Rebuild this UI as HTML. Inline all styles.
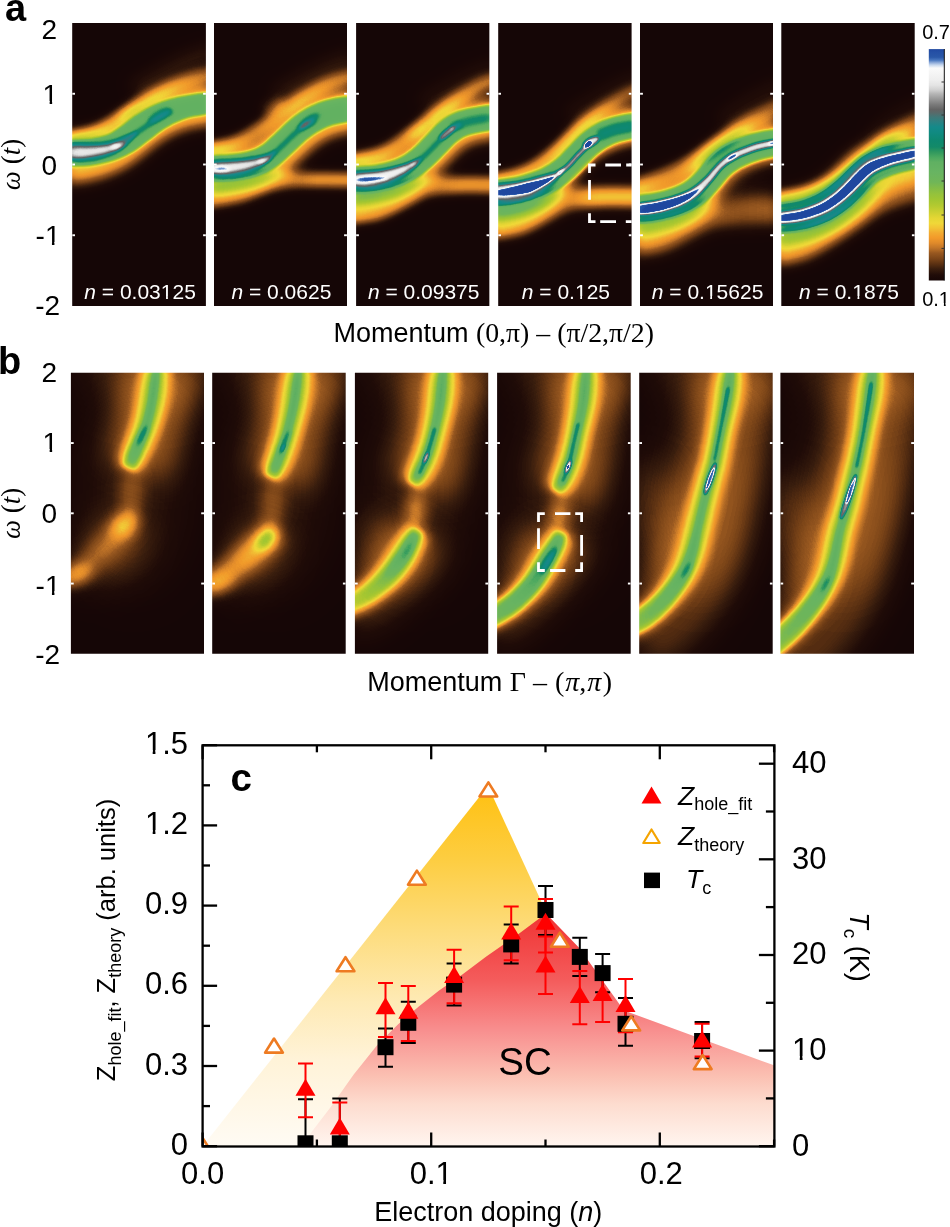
<!DOCTYPE html><html><head><meta charset="utf-8"><style>
html,body{margin:0;padding:0;background:#fff;width:950px;height:1227px;overflow:hidden}
svg{display:block}
#root{will-change:transform}
</style></head><body>
<svg id="root" width="950" height="1227" viewBox="0 0 950 1227" font-family='"Liberation Sans", sans-serif'>
<defs>
<filter id="cm" x="0" y="0" width="1" height="1" color-interpolation-filters="sRGB"><feComponentTransfer><feFuncR type="table" tableValues="0.086 0.087 0.089 0.091 0.094 0.096 0.099 0.102 0.104 0.107 0.111 0.114 0.117 0.120 0.124 0.130 0.139 0.147 0.156 0.165 0.175 0.184 0.194 0.203 0.213 0.223 0.236 0.251 0.267 0.283 0.299 0.315 0.331 0.347 0.363 0.379 0.396 0.412 0.428 0.445 0.461 0.478 0.491 0.505 0.519 0.532 0.546 0.560 0.574 0.588 0.606 0.629 0.653 0.676 0.700 0.724 0.748 0.768 0.786 0.805 0.824 0.843 0.862 0.880 0.891 0.901 0.912 0.923 0.934 0.945 0.949 0.949 0.949 0.949 0.949 0.949 0.949 0.949 0.949 0.949 0.949 0.949 0.948 0.947 0.946 0.944 0.943 0.942 0.935 0.927 0.919 0.911 0.903 0.895 0.882 0.869 0.855 0.841 0.827 0.813 0.799 0.786 0.772 0.757 0.743 0.729 0.715 0.702 0.691 0.681 0.670 0.659 0.648 0.638 0.629 0.620 0.612 0.603 0.595 0.586 0.577 0.566 0.555 0.543 0.532 0.521 0.510 0.498 0.487 0.475 0.463 0.451 0.440 0.436 0.433 0.430 0.427 0.424 0.421 0.418 0.415 0.412 0.408 0.405 0.402 0.399 0.396 0.393 0.390 0.387 0.384 0.381 0.378 0.365 0.347 0.329 0.311 0.293 0.273 0.252 0.232 0.211 0.191 0.168 0.145 0.122 0.099 0.076 0.072 0.069 0.066 0.063 0.060 0.057 0.055 0.056 0.058 0.059 0.060 0.061 0.062 0.065 0.068 0.070 0.073 0.076 0.081 0.100 0.119 0.138 0.157 0.176 0.194 0.212 0.231 0.249 0.273 0.298 0.323 0.347 0.361 0.376 0.391 0.410 0.430 0.449 0.469 0.489 0.513 0.537 0.561 0.585 0.609 0.633 0.657 0.681 0.705 0.737 0.768 0.799 0.825 0.843 0.861 0.879 0.896 0.905 0.913 0.922 0.931 0.937 0.941 0.945 0.950 0.954 0.959 0.963 0.968 0.972 0.977 0.962 0.887 0.811 0.713 0.602 0.484 0.357 0.267 0.219 0.170 0.161 0.156 0.152 0.147 0.141 0.133 0.125"/><feFuncG type="table" tableValues="0.024 0.024 0.025 0.027 0.028 0.029 0.031 0.033 0.034 0.036 0.038 0.040 0.042 0.044 0.046 0.050 0.056 0.062 0.068 0.075 0.081 0.088 0.094 0.101 0.108 0.115 0.122 0.131 0.140 0.149 0.158 0.167 0.176 0.185 0.195 0.205 0.215 0.225 0.235 0.246 0.256 0.266 0.275 0.284 0.293 0.302 0.312 0.321 0.330 0.340 0.352 0.368 0.385 0.401 0.418 0.435 0.452 0.465 0.478 0.491 0.504 0.517 0.530 0.542 0.552 0.562 0.571 0.581 0.591 0.601 0.611 0.621 0.631 0.642 0.652 0.663 0.677 0.694 0.710 0.727 0.743 0.760 0.775 0.789 0.803 0.816 0.830 0.844 0.846 0.845 0.843 0.842 0.841 0.839 0.836 0.833 0.829 0.826 0.823 0.819 0.816 0.812 0.809 0.805 0.802 0.798 0.794 0.791 0.789 0.787 0.784 0.782 0.779 0.777 0.775 0.772 0.770 0.767 0.765 0.762 0.760 0.756 0.752 0.748 0.745 0.741 0.737 0.733 0.730 0.726 0.722 0.718 0.714 0.713 0.712 0.711 0.711 0.710 0.709 0.708 0.708 0.707 0.706 0.705 0.703 0.702 0.700 0.699 0.697 0.695 0.694 0.692 0.691 0.686 0.680 0.673 0.666 0.660 0.648 0.636 0.623 0.610 0.598 0.586 0.575 0.564 0.553 0.542 0.540 0.539 0.538 0.537 0.535 0.534 0.534 0.535 0.536 0.537 0.538 0.540 0.541 0.541 0.541 0.541 0.541 0.541 0.540 0.533 0.526 0.520 0.513 0.505 0.496 0.488 0.480 0.471 0.458 0.443 0.429 0.415 0.408 0.400 0.393 0.410 0.430 0.449 0.469 0.489 0.513 0.537 0.561 0.585 0.609 0.633 0.657 0.681 0.705 0.737 0.768 0.799 0.825 0.843 0.861 0.879 0.896 0.905 0.913 0.922 0.931 0.937 0.941 0.945 0.950 0.954 0.959 0.963 0.968 0.972 0.977 0.968 0.917 0.865 0.792 0.706 0.616 0.521 0.448 0.399 0.350 0.339 0.331 0.324 0.317 0.307 0.295 0.282"/><feFuncB type="table" tableValues="0.024 0.024 0.024 0.025 0.025 0.025 0.026 0.027 0.027 0.028 0.028 0.029 0.030 0.030 0.031 0.032 0.034 0.036 0.038 0.041 0.043 0.045 0.047 0.049 0.052 0.054 0.056 0.058 0.060 0.062 0.064 0.066 0.068 0.070 0.073 0.076 0.079 0.082 0.085 0.088 0.091 0.094 0.098 0.101 0.105 0.108 0.112 0.116 0.120 0.123 0.127 0.132 0.137 0.142 0.146 0.151 0.156 0.158 0.159 0.160 0.161 0.162 0.164 0.165 0.165 0.165 0.165 0.165 0.165 0.165 0.167 0.171 0.175 0.179 0.183 0.187 0.190 0.193 0.197 0.200 0.203 0.206 0.209 0.211 0.213 0.215 0.217 0.219 0.218 0.215 0.212 0.210 0.207 0.204 0.203 0.202 0.201 0.200 0.198 0.197 0.196 0.195 0.194 0.193 0.191 0.190 0.189 0.189 0.190 0.191 0.192 0.193 0.195 0.196 0.201 0.207 0.213 0.219 0.225 0.231 0.238 0.245 0.252 0.260 0.267 0.275 0.282 0.293 0.303 0.313 0.324 0.334 0.345 0.349 0.353 0.356 0.360 0.364 0.368 0.372 0.376 0.380 0.384 0.384 0.384 0.384 0.384 0.384 0.384 0.384 0.384 0.384 0.384 0.383 0.382 0.380 0.378 0.377 0.375 0.374 0.372 0.370 0.369 0.376 0.384 0.392 0.399 0.407 0.412 0.417 0.422 0.426 0.431 0.436 0.442 0.452 0.461 0.471 0.480 0.490 0.500 0.507 0.514 0.521 0.528 0.535 0.540 0.533 0.526 0.520 0.513 0.505 0.496 0.488 0.480 0.471 0.458 0.443 0.429 0.415 0.408 0.400 0.393 0.410 0.430 0.449 0.469 0.489 0.513 0.537 0.561 0.585 0.609 0.633 0.657 0.681 0.705 0.737 0.768 0.799 0.825 0.843 0.861 0.879 0.896 0.905 0.913 0.922 0.931 0.937 0.941 0.945 0.950 0.954 0.959 0.963 0.968 0.972 0.977 0.976 0.958 0.940 0.908 0.869 0.826 0.778 0.736 0.699 0.663 0.656 0.654 0.651 0.648 0.643 0.635 0.627"/></feComponentTransfer></filter>
<filter id="b0_6" filterUnits="userSpaceOnUse" x="-200" y="-200" width="600" height="700" color-interpolation-filters="sRGB"><feGaussianBlur stdDeviation="0.6"/></filter>
<filter id="b0_8" filterUnits="userSpaceOnUse" x="-200" y="-200" width="600" height="700" color-interpolation-filters="sRGB"><feGaussianBlur stdDeviation="0.8"/></filter>
<filter id="b0_9" filterUnits="userSpaceOnUse" x="-200" y="-200" width="600" height="700" color-interpolation-filters="sRGB"><feGaussianBlur stdDeviation="0.9"/></filter>
<filter id="b1" filterUnits="userSpaceOnUse" x="-200" y="-200" width="600" height="700" color-interpolation-filters="sRGB"><feGaussianBlur stdDeviation="1"/></filter>
<filter id="b1_2" filterUnits="userSpaceOnUse" x="-200" y="-200" width="600" height="700" color-interpolation-filters="sRGB"><feGaussianBlur stdDeviation="1.2"/></filter>
<filter id="b1_4" filterUnits="userSpaceOnUse" x="-200" y="-200" width="600" height="700" color-interpolation-filters="sRGB"><feGaussianBlur stdDeviation="1.4"/></filter>
<filter id="b1_5" filterUnits="userSpaceOnUse" x="-200" y="-200" width="600" height="700" color-interpolation-filters="sRGB"><feGaussianBlur stdDeviation="1.5"/></filter>
<filter id="b1_6" filterUnits="userSpaceOnUse" x="-200" y="-200" width="600" height="700" color-interpolation-filters="sRGB"><feGaussianBlur stdDeviation="1.6"/></filter>
<filter id="b1_8" filterUnits="userSpaceOnUse" x="-200" y="-200" width="600" height="700" color-interpolation-filters="sRGB"><feGaussianBlur stdDeviation="1.8"/></filter>
<filter id="b2" filterUnits="userSpaceOnUse" x="-200" y="-200" width="600" height="700" color-interpolation-filters="sRGB"><feGaussianBlur stdDeviation="2"/></filter>
<filter id="b2_5" filterUnits="userSpaceOnUse" x="-200" y="-200" width="600" height="700" color-interpolation-filters="sRGB"><feGaussianBlur stdDeviation="2.5"/></filter>
<filter id="b2_6" filterUnits="userSpaceOnUse" x="-200" y="-200" width="600" height="700" color-interpolation-filters="sRGB"><feGaussianBlur stdDeviation="2.6"/></filter>
<filter id="b3" filterUnits="userSpaceOnUse" x="-200" y="-200" width="600" height="700" color-interpolation-filters="sRGB"><feGaussianBlur stdDeviation="3"/></filter>
<filter id="b4" filterUnits="userSpaceOnUse" x="-200" y="-200" width="600" height="700" color-interpolation-filters="sRGB"><feGaussianBlur stdDeviation="4"/></filter>
<filter id="b4_5" filterUnits="userSpaceOnUse" x="-200" y="-200" width="600" height="700" color-interpolation-filters="sRGB"><feGaussianBlur stdDeviation="4.5"/></filter>
<filter id="b5" filterUnits="userSpaceOnUse" x="-200" y="-200" width="600" height="700" color-interpolation-filters="sRGB"><feGaussianBlur stdDeviation="5"/></filter>
<filter id="b6" filterUnits="userSpaceOnUse" x="-200" y="-200" width="600" height="700" color-interpolation-filters="sRGB"><feGaussianBlur stdDeviation="6"/></filter>
<filter id="b7" filterUnits="userSpaceOnUse" x="-200" y="-200" width="600" height="700" color-interpolation-filters="sRGB"><feGaussianBlur stdDeviation="7"/></filter>
<filter id="b8" filterUnits="userSpaceOnUse" x="-200" y="-200" width="600" height="700" color-interpolation-filters="sRGB"><feGaussianBlur stdDeviation="8"/></filter>
<filter id="b9" filterUnits="userSpaceOnUse" x="-200" y="-200" width="600" height="700" color-interpolation-filters="sRGB"><feGaussianBlur stdDeviation="9"/></filter>
<filter id="b15" filterUnits="userSpaceOnUse" x="-200" y="-200" width="600" height="700" color-interpolation-filters="sRGB"><feGaussianBlur stdDeviation="15"/></filter>
<filter id="b16" filterUnits="userSpaceOnUse" x="-200" y="-200" width="600" height="700" color-interpolation-filters="sRGB"><feGaussianBlur stdDeviation="16"/></filter>
<filter id="b18" filterUnits="userSpaceOnUse" x="-200" y="-200" width="600" height="700" color-interpolation-filters="sRGB"><feGaussianBlur stdDeviation="18"/></filter>
<filter id="b20" filterUnits="userSpaceOnUse" x="-200" y="-200" width="600" height="700" color-interpolation-filters="sRGB"><feGaussianBlur stdDeviation="20"/></filter>
<filter id="b25" filterUnits="userSpaceOnUse" x="-200" y="-200" width="600" height="700" color-interpolation-filters="sRGB"><feGaussianBlur stdDeviation="25"/></filter>
<linearGradient id="g1" gradientUnits="userSpaceOnUse" x1="0" y1="0" x2="134" y2="0"><stop offset="0.000" stop-color="#3d3d3d"/><stop offset="0.448" stop-color="#2e2e2e"/><stop offset="0.746" stop-color="#454545"/><stop offset="1.000" stop-color="#454545"/></linearGradient>
<linearGradient id="g2" gradientUnits="userSpaceOnUse" x1="0" y1="0" x2="134" y2="0"><stop offset="0.000" stop-color="#4c4c4c"/><stop offset="0.299" stop-color="#424242"/><stop offset="0.522" stop-color="#333333"/><stop offset="0.746" stop-color="#454545"/><stop offset="1.000" stop-color="#454545"/></linearGradient>
<linearGradient id="g3" gradientUnits="userSpaceOnUse" x1="0" y1="0" x2="134" y2="0"><stop offset="0.000" stop-color="#545454"/><stop offset="0.299" stop-color="#4c4c4c"/><stop offset="0.522" stop-color="#3d3d3d"/><stop offset="0.709" stop-color="#575757"/><stop offset="1.000" stop-color="#575757"/></linearGradient>
<linearGradient id="g4" gradientUnits="userSpaceOnUse" x1="0" y1="0" x2="134" y2="0"><stop offset="0.000" stop-color="#4c4c4c"/><stop offset="0.299" stop-color="#424242"/><stop offset="0.522" stop-color="#383838"/><stop offset="0.746" stop-color="#2e2e2e"/><stop offset="1.000" stop-color="#333333"/></linearGradient>
<linearGradient id="g5" gradientUnits="userSpaceOnUse" x1="0" y1="0" x2="134" y2="0"><stop offset="0.000" stop-color="#4c4c4c"/><stop offset="0.448" stop-color="#3d3d3d"/><stop offset="1.000" stop-color="#333333"/></linearGradient>
<linearGradient id="g6" gradientUnits="userSpaceOnUse" x1="0" y1="0" x2="64" y2="0"><stop offset="0.000" stop-color="#2e2e2e"/><stop offset="0.312" stop-color="#262626"/><stop offset="0.625" stop-color="#2e2e2e"/><stop offset="1.000" stop-color="#333333"/></linearGradient>
<linearGradient id="g7" gradientUnits="userSpaceOnUse" x1="0" y1="160" x2="0" y2="235"><stop offset="0.000" stop-color="#2b2b2b"/><stop offset="0.333" stop-color="#212121"/><stop offset="0.600" stop-color="#121212"/><stop offset="1.000" stop-color="#0f0f0f"/></linearGradient>
<linearGradient id="cbar" x1="0" y1="1" x2="0" y2="0">
<stop offset="0.000" stop-color="#160606"/>
<stop offset="0.024" stop-color="#200c08"/>
<stop offset="0.050" stop-color="#3a1e0e"/>
<stop offset="0.071" stop-color="#5a3012"/>
<stop offset="0.093" stop-color="#7a4418"/>
<stop offset="0.119" stop-color="#985820"/>
<stop offset="0.140" stop-color="#c07428"/>
<stop offset="0.162" stop-color="#e08a2a"/>
<stop offset="0.184" stop-color="#f29a2a"/>
<stop offset="0.205" stop-color="#f2aa30"/>
<stop offset="0.227" stop-color="#f2c435"/>
<stop offset="0.248" stop-color="#f0d838"/>
<stop offset="0.270" stop-color="#e4d634"/>
<stop offset="0.296" stop-color="#ccd032"/>
<stop offset="0.322" stop-color="#b4ca30"/>
<stop offset="0.348" stop-color="#a2c632"/>
<stop offset="0.374" stop-color="#94c23c"/>
<stop offset="0.400" stop-color="#82bc48"/>
<stop offset="0.425" stop-color="#70b658"/>
<stop offset="0.468" stop-color="#68b462"/>
<stop offset="0.512" stop-color="#60b062"/>
<stop offset="0.533" stop-color="#4aa860"/>
<stop offset="0.555" stop-color="#30985e"/>
<stop offset="0.577" stop-color="#138a68"/>
<stop offset="0.607" stop-color="#0e8870"/>
<stop offset="0.637" stop-color="#108a80"/>
<stop offset="0.663" stop-color="#148a8a"/>
<stop offset="0.684" stop-color="#2a8282"/>
<stop offset="0.706" stop-color="#407878"/>
<stop offset="0.724" stop-color="#586a6a"/>
<stop offset="0.739" stop-color="#646464"/>
<stop offset="0.762" stop-color="#7c7c7c"/>
<stop offset="0.784" stop-color="#989898"/>
<stop offset="0.806" stop-color="#b4b4b4"/>
<stop offset="0.823" stop-color="#d0d0d0"/>
<stop offset="0.844" stop-color="#e4e4e4"/>
<stop offset="0.866" stop-color="#eeeeee"/>
<stop offset="0.892" stop-color="#f4f4f4"/>
<stop offset="0.918" stop-color="#fafafa"/>
<stop offset="0.931" stop-color="#c8d8ee"/>
<stop offset="0.942" stop-color="#8aa8d8"/>
<stop offset="0.952" stop-color="#4a78c0"/>
<stop offset="0.965" stop-color="#2a58a8"/>
<stop offset="0.987" stop-color="#2550a5"/>
<stop offset="1.000" stop-color="#2048a0"/>
</linearGradient>
<linearGradient id="gy" gradientUnits="userSpaceOnUse" x1="0" y1="786" x2="0" y2="1146"><stop offset="0" stop-color="#ffc010"/><stop offset="0.2" stop-color="#fdcd40"/><stop offset="0.4" stop-color="#fddc7c"/><stop offset="0.6" stop-color="#feeab5"/><stop offset="0.76" stop-color="#fff3d8"/><stop offset="1" stop-color="#fffbf4"/></linearGradient>
<linearGradient id="gr" gradientUnits="userSpaceOnUse" x1="0" y1="913" x2="0" y2="1146"><stop offset="0" stop-color="#f03232"/><stop offset="0.29" stop-color="#f45c5c"/><stop offset="0.5" stop-color="#f88e8e"/><stop offset="0.7" stop-color="#fbc0b2"/><stop offset="0.82" stop-color="#fddccf"/><stop offset="1" stop-color="#fff5ef"/></linearGradient>
<clipPath id="pc"><rect x="202.6" y="745.3" width="571.8" height="401.2"/></clipPath>
</defs>
<svg x="72.20" y="23.00" width="133.70" height="283.00" viewBox="0 0 133.70 283.00" overflow="hidden">
<g filter="url(#cm)"><rect x="-1" y="-1" width="135.70" height="285.00" fill="#000"/>
<path d="M-10.9,111.0 -9.0,110.9 -7.3,110.9 -5.7,110.8 -3.8,110.7 -1.2,110.5 0.5,110.4 2.4,110.3 4.3,110.3 6.3,110.2 8.2,110.1 10.2,109.9 12.0,109.8 13.8,109.6 15.4,109.5 16.9,109.2 18.5,109.0 20.3,108.6 22.0,108.3 23.8,107.9 25.5,107.5 27.2,107.1 28.9,106.6 30.4,106.2 31.8,105.7 33.0,105.3 34.4,104.7 35.6,104.2 36.9,103.6 38.1,102.9 39.4,102.1 40.9,101.2 42.5,100.2 44.2,99.2 45.4,98.4 46.7,97.5 48.1,96.5 49.6,95.3 51.2,94.1 52.8,92.8 54.6,91.5 56.5,90.0 58.4,88.7 60.2,87.5 61.8,86.3 63.5,85.1 65.3,83.9 67.1,82.6 69.0,81.3 71.0,80.1 73.0,78.8 75.1,77.6 77.3,76.4 79.5,75.2 81.7,74.1 83.9,73.1 86.2,72.0 88.4,71.1 90.7,70.2 92.9,69.3 95.1,68.5 97.2,67.7 99.4,67.0 101.8,66.2 104.4,65.4 107.1,64.7 110.0,64.0 113.0,63.4 115.1,63.0 117.1,62.7 119.2,62.3 121.3,62.0 123.4,61.7 125.5,61.4 127.7,61.1 129.8,60.8 132.0,60.6 134.1,60.3 136.2,60.0 138.3,59.7 140.3,59.5 142.2,59.2 148.0,100.8 146.0,101.1 143.8,101.4 141.6,101.7 139.5,101.9 137.4,102.2 135.3,102.5 133.2,102.7 131.2,103.0 129.3,103.3 127.4,103.5 125.7,103.8 124.1,104.1 122.6,104.3 121.4,104.6 119.1,105.0 117.3,105.5 115.6,105.9 114.1,106.3 112.7,106.8 111.2,107.3 109.5,107.9 107.8,108.6 106.1,109.2 104.6,109.8 103.1,110.5 101.7,111.1 100.2,111.8 98.8,112.5 97.3,113.3 95.9,114.1 94.7,114.8 93.4,115.6 92.1,116.5 90.6,117.4 89.2,118.4 87.6,119.5 86.0,120.6 84.3,121.8 82.7,122.9 81.4,124.0 80.0,125.2 78.6,126.4 77.0,127.8 75.3,129.2 73.5,130.7 71.6,132.3 69.5,133.8 67.5,135.3 65.5,136.9 63.7,138.3 61.6,139.8 59.5,141.3 57.1,142.9 54.5,144.5 51.7,146.0 48.8,147.4 46.3,148.6 43.9,149.7 41.5,150.7 39.1,151.7 36.6,152.6 34.2,153.5 31.7,154.4 29.3,155.2 26.9,155.9 24.4,156.7 21.6,157.3 18.8,157.8 16.1,158.3 13.5,158.7 11.0,159.0 8.7,159.4 6.6,159.7 4.8,160.0 3.2,160.2 1.8,160.4 -0.9,160.6 -3.3,160.7 -5.2,160.8 -6.9,160.9 -8.6,161.0Z" fill="#545454" filter="url(#b8)" style="mix-blend-mode:plus-lighter"/>
<path d="M-10.6,118.0 -8.7,117.9 -7.0,117.9 -5.3,117.8 -3.4,117.7 -0.8,117.5 0.9,117.4 2.7,117.3 4.7,117.2 6.6,117.2 8.6,117.1 10.6,116.9 12.6,116.8 14.5,116.6 16.3,116.4 18.0,116.2 19.7,115.9 21.6,115.5 23.5,115.1 25.4,114.7 27.2,114.3 29.0,113.8 30.8,113.3 32.5,112.8 34.0,112.3 35.4,111.8 37.0,111.1 38.5,110.3 39.9,109.4 41.3,108.6 42.7,107.6 44.2,106.6 45.8,105.4 47.4,104.2 48.8,103.3 50.2,102.4 51.7,101.3 53.2,100.1 54.8,98.9 56.5,97.6 58.2,96.2 60.1,94.9 61.9,93.6 63.7,92.5 65.4,91.4 67.2,90.3 69.0,89.2 70.8,88.0 72.7,86.9 74.6,85.8 76.6,84.7 78.6,83.7 80.7,82.7 82.8,81.7 85.0,80.7 87.1,79.9 89.2,79.0 91.4,78.2 93.6,77.5 95.8,76.8 97.9,76.1 99.9,75.5 102.1,74.9 104.3,74.3 106.7,73.7 109.2,73.2 111.9,72.7 114.8,72.2 116.7,71.9 118.6,71.5 120.6,71.2 122.6,70.9 124.7,70.6 126.7,70.3 128.9,70.0 131.0,69.8 133.1,69.5 135.3,69.2 137.4,68.9 139.5,68.7 141.5,68.4 143.5,68.1 146.5,89.9 144.5,90.2 142.4,90.5 140.2,90.7 138.1,91.0 136.0,91.3 133.8,91.6 131.8,91.8 129.7,92.1 127.7,92.4 125.8,92.7 124.0,92.9 122.2,93.2 120.6,93.5 119.2,93.8 116.8,94.4 114.7,95.1 112.8,95.7 111.1,96.3 109.4,97.0 107.8,97.7 106.0,98.4 104.2,99.2 102.5,100.0 100.8,100.8 99.2,101.7 97.7,102.5 96.1,103.4 94.6,104.3 93.0,105.3 91.4,106.3 90.1,107.2 88.7,108.2 87.3,109.2 85.8,110.3 84.4,111.5 82.8,112.7 81.3,113.9 79.7,115.2 78.1,116.4 76.6,117.5 75.1,118.6 73.5,119.8 71.9,121.1 70.1,122.4 68.3,123.8 66.5,125.1 64.5,126.5 62.6,127.8 60.5,128.9 58.6,130.0 56.5,131.1 54.4,132.2 52.1,133.3 49.7,134.3 47.2,135.3 44.6,136.2 42.4,136.9 40.2,137.7 38.0,138.3 35.7,138.9 33.4,139.5 31.1,140.1 28.8,140.6 26.6,141.0 24.3,141.5 22.0,141.8 19.6,142.2 17.2,142.5 14.8,142.7 12.4,142.9 10.1,143.0 7.9,143.1 5.9,143.2 4.0,143.3 2.3,143.4 0.8,143.5 -1.9,143.6 -4.1,143.8 -5.9,143.8 -7.6,143.9 -9.4,144.0Z" fill="#414141" filter="url(#b1_4)" style="mix-blend-mode:plus-lighter"/>
<path d="M-10.4,121.0 -8.4,120.9 -6.3,120.8 -4.1,120.8 -2.0,120.7 0.1,120.6 2.2,120.6 4.3,120.5 6.3,120.4 8.3,120.4 10.3,120.3 12.1,120.2 13.9,120.0 15.7,119.9 17.3,119.8 18.8,119.6 21.0,119.4 23.1,119.3 25.1,119.0 26.9,118.8 28.7,118.5 30.5,118.2 32.2,117.8 33.9,117.4 35.5,117.0 37.1,116.5 39.2,116.2 41.1,115.7 43.0,115.2 45.0,114.5 46.9,113.9 48.8,113.1 50.6,112.4 52.4,111.7 54.6,111.2 56.7,110.7 58.6,110.1 60.5,109.5 62.4,108.8 64.4,108.2 65.6,109.8 64.4,111.5 63.2,113.1 62.0,114.8 60.7,116.5 59.3,118.3 57.6,120.3 56.2,121.5 54.7,122.9 53.0,124.3 51.3,125.7 49.4,127.2 47.3,128.7 45.1,130.1 42.9,131.5 41.0,132.3 39.1,133.1 37.2,133.9 35.2,134.6 33.1,135.3 31.0,136.0 28.7,136.7 26.3,137.3 23.8,137.9 21.2,138.4 19.3,138.6 17.3,138.8 15.3,139.0 13.3,139.1 11.2,139.2 9.1,139.3 7.0,139.4 4.9,139.5 2.8,139.6 0.6,139.6 -1.5,139.7 -3.5,139.8 -5.6,139.8 -7.6,139.9 -9.6,140.0Z" fill="#171717" filter="url(#b1_8)" style="mix-blend-mode:plus-lighter"/>
<path d="M-10.1,124.5 -8.1,124.5 -6.1,124.4 -4.0,124.4 -2.1,124.4 -0.1,124.4 1.9,124.3 3.8,124.3 5.8,124.2 7.7,124.1 9.6,124.0 11.6,124.0 13.6,123.9 15.6,123.8 17.6,123.6 19.7,123.5 21.7,123.3 23.7,123.2 25.6,123.0 27.5,122.8 29.2,122.6 31.6,122.4 34.0,122.1 36.2,121.8 38.4,121.5 40.4,121.2 42.4,120.9 44.2,120.6 47.0,120.6 49.3,120.4 51.5,120.2 53.8,120.0 54.2,121.0 52.3,122.3 50.4,123.5 48.4,124.9 45.8,126.4 44.0,127.1 42.1,127.8 40.1,128.5 38.0,129.2 35.7,130.0 33.3,130.7 30.8,131.4 28.9,131.8 27.0,132.2 25.1,132.6 23.0,133.0 20.9,133.4 18.8,133.7 16.7,134.1 14.6,134.4 12.5,134.7 10.4,135.0 8.3,135.1 6.2,135.2 4.2,135.3 2.1,135.3 0.1,135.4 -1.9,135.4 -4.0,135.4 -5.9,135.4 -7.9,135.5 -9.9,135.5Z" fill="#363636" filter="url(#b2)" style="mix-blend-mode:plus-lighter"/>
<path d="M38.8,121.8 40.7,120.8 42.6,119.8 44.5,118.9 46.4,117.9 48.2,116.9 50.1,115.9 51.9,114.9 53.7,113.9 55.3,112.9 57.0,111.8 58.6,110.7 60.3,109.6 61.9,108.5 63.6,107.3 65.3,106.2 66.9,105.1 68.6,103.9 70.3,102.8 71.9,101.7 73.6,100.5 75.3,99.4 76.9,98.2 78.6,97.1 80.3,96.0 82.0,94.9 83.7,93.9 85.6,92.7 87.6,91.7 89.5,90.6 91.4,89.7 93.2,88.7 95.1,87.7 97.0,86.8 98.8,85.8 101.2,90.2 99.3,91.2 97.4,92.2 95.5,93.1 93.6,94.1 91.8,95.1 89.9,96.1 88.1,97.1 86.3,98.1 84.7,99.1 83.0,100.2 81.4,101.3 79.7,102.4 78.1,103.5 76.4,104.7 74.7,105.8 73.1,106.9 71.4,108.1 69.7,109.2 68.1,110.3 66.4,111.5 64.7,112.6 63.1,113.8 61.4,114.9 59.7,116.0 58.0,117.1 56.3,118.1 54.4,119.3 52.4,120.3 50.5,121.4 48.6,122.3 46.8,123.3 44.9,124.3 43.0,125.2 41.2,126.2Z" fill="#1a1a1a" filter="url(#b2)" style="mix-blend-mode:plus-lighter"/>
<ellipse cx="87" cy="92" rx="13" ry="5" transform="rotate(-32 87 92)" fill="#171717" filter="url(#b2_5)" style="mix-blend-mode:plus-lighter"/>
<path d="M-11.8,110.2 -9.7,109.7 -7.6,109.2 -5.5,108.7 -3.4,108.2 -1.4,107.7 0.7,107.3 2.7,106.8 4.7,106.3 6.6,105.8 8.6,105.3 10.4,104.8 12.3,104.3 14.0,103.7 15.7,103.1 17.4,102.5 19.1,101.8 20.9,101.0 22.6,100.2 24.2,99.3 25.9,98.4 27.6,97.5 29.2,96.5 30.9,95.5 32.6,94.4 34.3,93.4 36.0,92.3 37.8,91.2 39.6,90.1 41.4,89.0 43.1,88.0 44.8,86.9 46.6,85.8 48.3,84.6 50.1,83.5 51.9,82.3 53.6,81.2 55.4,80.0 57.2,78.8 59.0,77.6 60.9,76.4 62.7,75.3 64.5,74.1 66.4,73.0 68.2,71.9 70.0,70.9 71.8,69.8 73.6,68.7 75.4,67.6 77.2,66.6 79.0,65.5 80.9,64.5 82.7,63.5 84.5,62.5 86.4,61.5 88.2,60.5 90.1,59.6 92.0,58.7 94.0,57.7 95.9,56.8 97.9,55.9 99.9,55.1 101.9,54.2 103.9,53.4 105.9,52.6 107.9,51.8 109.9,51.1 111.9,50.4 113.9,49.7 115.9,49.0 117.9,48.3 120.1,47.6 122.3,47.0 124.5,46.4 126.7,45.9 128.9,45.4 131.0,44.9 133.1,44.5 135.2,44.0 137.3,43.6 139.3,43.1 141.4,42.7 143.4,42.2 146.6,55.8 144.5,56.3 142.3,56.8 140.2,57.2 138.1,57.7 136.1,58.1 134.0,58.6 132.0,59.0 130.0,59.5 128.0,60.0 126.0,60.5 124.1,61.1 122.1,61.7 120.3,62.3 118.4,62.9 116.6,63.5 114.7,64.2 112.9,64.9 111.0,65.6 109.2,66.4 107.3,67.1 105.5,67.9 103.6,68.7 101.7,69.6 99.9,70.4 98.0,71.3 96.3,72.1 94.6,73.0 92.9,73.9 91.2,74.8 89.4,75.8 87.7,76.7 86.0,77.7 84.2,78.7 82.5,79.7 80.7,80.8 78.9,81.8 77.2,82.9 75.4,83.9 73.6,85.0 71.9,86.0 70.2,87.1 68.4,88.2 66.7,89.4 64.9,90.5 63.1,91.7 61.4,92.8 59.6,94.0 57.8,95.2 56.0,96.4 54.1,97.6 52.3,98.7 50.5,99.9 48.6,101.0 46.9,102.0 45.2,103.1 43.4,104.2 41.7,105.3 40.0,106.3 38.2,107.4 36.4,108.5 34.6,109.6 32.7,110.6 30.8,111.7 28.8,112.7 26.8,113.7 24.7,114.6 22.6,115.5 20.5,116.3 18.5,117.0 16.4,117.7 14.3,118.3 12.2,118.9 10.1,119.4 8.0,119.9 5.9,120.4 3.8,120.9 1.7,121.4 -0.3,121.8 -2.3,122.3 -4.3,122.8 -6.3,123.3 -8.2,123.8Z" fill="#2e2e2e" filter="url(#b4_5)" style="mix-blend-mode:plus-lighter"/>
<path d="M55.0,59.3 56.8,58.3 58.5,57.3 60.3,56.3 62.1,55.2 64.0,54.2 65.8,53.1 67.6,52.0 69.5,51.0 71.3,49.9 73.1,48.8 74.9,47.8 76.7,46.8 78.5,45.7 80.3,44.7 82.0,43.7 83.8,42.8 85.4,41.8 87.1,40.9 88.7,40.0 90.3,39.2 92.6,38.0 94.8,36.8 96.9,35.7 98.9,34.7 100.9,33.7 102.8,32.7 104.7,31.8 106.6,30.9 108.5,30.0 110.4,29.2 112.3,28.3 114.3,27.5 116.3,26.7 118.4,25.9 120.5,25.1 122.6,24.4 124.6,23.7 126.6,23.1 128.6,22.5 130.6,21.9 132.6,21.3 134.5,20.7 136.4,20.2 138.3,19.6 140.1,19.1 142.0,18.5 148.0,37.5 146.0,38.2 144.0,38.8 142.1,39.4 140.1,39.9 138.2,40.5 136.3,41.0 134.4,41.6 132.6,42.2 130.8,42.8 129.0,43.4 127.2,44.0 125.5,44.6 123.7,45.3 121.9,46.0 120.2,46.7 118.5,47.5 116.8,48.2 115.1,49.0 113.3,49.8 111.6,50.7 109.8,51.6 108.0,52.5 106.0,53.5 104.0,54.5 101.9,55.6 99.7,56.8 98.2,57.6 96.7,58.4 95.1,59.3 93.5,60.2 91.9,61.1 90.2,62.1 88.5,63.1 86.7,64.1 84.9,65.1 83.1,66.2 81.3,67.2 79.5,68.3 77.7,69.3 75.8,70.4 74.0,71.5 72.2,72.5 70.4,73.6 68.5,74.6 66.7,75.7 65.0,76.7Z" fill="#171717" filter="url(#b8)" style="mix-blend-mode:plus-lighter"/>
<ellipse cx="56" cy="87" rx="13" ry="6" transform="rotate(-25 56 87)" fill="#0f0f0f" filter="url(#b5)" style="mix-blend-mode:plus-lighter"/>
</g>
<rect x="0" y="69.80" width="2.8" height="1.9" fill="#fff"/>
<rect x="130.90" y="69.80" width="2.8" height="1.9" fill="#fff"/>
<rect x="0" y="140.55" width="2.8" height="1.9" fill="#fff"/>
<rect x="130.90" y="140.55" width="2.8" height="1.9" fill="#fff"/>
<rect x="0" y="211.30" width="2.8" height="1.9" fill="#fff"/>
<rect x="130.90" y="211.30" width="2.8" height="1.9" fill="#fff"/>
</svg>
<svg x="213.90" y="23.00" width="133.00" height="283.00" viewBox="0 0 133.00 283.00" overflow="hidden">
<g filter="url(#cm)"><rect x="-1" y="-1" width="135.00" height="285.00" fill="#000"/>
<path d="M-10.9,126.0 -9.0,125.9 -7.3,125.9 -5.7,125.8 -3.8,125.7 -1.2,125.5 0.4,125.4 2.3,125.3 4.2,125.2 6.1,125.1 8.1,125.0 10.1,124.9 12.1,124.7 13.9,124.6 15.7,124.4 17.4,124.2 19.2,123.9 21.0,123.6 22.9,123.3 24.8,123.0 26.6,122.7 28.3,122.4 29.9,122.0 31.4,121.6 32.8,121.3 34.0,120.9 35.7,120.4 37.1,119.9 38.3,119.4 39.4,118.9 40.5,118.4 41.5,117.8 42.7,117.2 43.8,116.4 44.8,115.7 45.8,114.9 47.0,113.9 48.4,112.8 49.8,111.4 51.4,110.0 53.0,108.4 54.8,106.8 56.5,105.2 57.9,104.0 59.2,102.8 60.6,101.4 62.0,100.0 63.6,98.5 65.2,96.9 66.9,95.3 68.6,93.7 70.5,92.0 72.4,90.4 74.4,88.9 76.3,87.4 78.3,86.0 80.3,84.6 82.3,83.3 84.3,82.0 86.4,80.7 88.5,79.5 90.5,78.4 92.5,77.4 94.4,76.4 96.4,75.4 98.6,74.3 100.9,73.3 103.4,72.3 106.1,71.4 108.9,70.5 111.8,69.7 114.0,69.1 116.2,68.6 118.4,68.2 120.5,67.8 122.7,67.4 124.9,67.0 127.1,66.6 129.3,66.3 131.4,65.9 133.6,65.6 135.7,65.3 137.7,65.0 139.6,64.6 141.6,64.3 149.1,107.6 147.0,108.0 144.8,108.4 142.6,108.7 140.4,109.1 138.3,109.4 136.2,109.7 134.2,110.1 132.2,110.4 130.3,110.7 128.6,111.0 127.0,111.3 125.5,111.6 124.2,111.9 123.3,112.2 121.5,112.7 120.1,113.1 118.9,113.6 117.7,114.0 116.7,114.5 115.5,115.0 114.3,115.6 112.9,116.3 111.4,117.1 110.0,117.9 108.7,118.6 107.5,119.3 106.3,120.1 105.1,120.9 103.9,121.8 102.6,122.7 101.3,123.7 100.1,124.7 99.1,125.5 98.0,126.4 96.9,127.5 95.6,128.7 94.2,130.0 92.8,131.4 91.2,132.9 89.6,134.5 87.9,136.2 86.2,137.7 84.6,139.2 83.0,140.6 81.4,142.2 79.6,143.9 77.6,145.6 75.6,147.4 73.4,149.2 70.9,151.1 68.4,152.9 65.8,154.6 63.2,156.1 60.5,157.6 57.9,158.9 55.2,160.0 52.5,161.1 49.9,162.0 47.2,162.9 44.7,163.6 42.2,164.3 39.7,164.9 37.3,165.4 34.8,165.9 32.4,166.4 30.1,166.8 27.7,167.1 25.5,167.5 23.2,167.8 20.7,168.1 18.1,168.4 15.6,168.6 13.2,168.8 10.9,168.9 8.6,169.1 6.6,169.2 4.7,169.3 3.0,169.4 1.5,169.5 -1.3,169.6 -3.6,169.7 -5.5,169.8 -7.1,169.9 -8.9,170.0Z" fill="#545454" filter="url(#b8)" style="mix-blend-mode:plus-lighter"/>
<path d="M-10.6,133.0 -8.7,132.9 -7.0,132.9 -5.3,132.8 -3.4,132.7 -0.8,132.5 0.8,132.4 2.7,132.3 4.6,132.2 6.5,132.1 8.6,132.0 10.6,131.9 12.6,131.7 14.6,131.5 16.5,131.3 18.3,131.1 20.2,130.8 22.1,130.6 24.0,130.3 26.0,129.9 27.9,129.6 29.7,129.2 31.5,128.8 33.1,128.4 34.7,128.0 36.1,127.6 37.9,127.0 39.5,126.4 41.0,125.9 42.4,125.3 43.7,124.6 45.0,123.9 46.3,123.1 47.7,122.2 48.9,121.4 50.2,120.4 51.6,119.3 53.0,118.0 54.5,116.6 56.1,115.1 57.8,113.6 59.5,112.0 61.2,110.4 62.6,109.1 64.0,107.8 65.4,106.4 66.9,105.0 68.4,103.5 70.0,102.0 71.6,100.4 73.3,98.9 75.1,97.4 76.8,95.9 78.7,94.4 80.5,93.0 82.4,91.7 84.2,90.4 86.1,89.1 88.0,87.9 89.9,86.8 91.9,85.6 93.8,84.5 95.7,83.6 97.6,82.6 99.5,81.7 101.5,80.7 103.6,79.8 105.9,78.9 108.3,78.0 110.9,77.2 113.6,76.4 115.6,75.9 117.7,75.5 119.7,75.0 121.8,74.6 123.9,74.3 126.1,73.9 128.2,73.5 130.4,73.2 132.5,72.9 134.7,72.5 136.8,72.2 138.8,71.9 140.8,71.5 142.8,71.2 147.2,96.8 145.2,97.2 143.0,97.5 140.8,97.9 138.7,98.2 136.6,98.5 134.5,98.9 132.4,99.2 130.4,99.5 128.4,99.9 126.6,100.2 124.8,100.5 123.2,100.9 121.7,101.2 120.4,101.6 118.3,102.1 116.6,102.7 115.0,103.2 113.5,103.8 112.1,104.4 110.8,105.1 109.3,105.8 107.8,106.6 106.2,107.5 104.6,108.3 103.1,109.1 101.7,110.0 100.3,110.9 98.9,111.8 97.5,112.8 96.1,113.9 94.6,115.0 93.2,116.1 91.9,117.1 90.7,118.2 89.4,119.4 88.0,120.7 86.6,122.1 85.1,123.6 83.6,125.1 82.0,126.6 80.4,128.1 78.8,129.6 77.1,131.1 75.5,132.6 73.9,134.1 72.1,135.8 70.3,137.4 68.4,139.0 66.5,140.7 64.4,142.3 62.3,143.8 60.0,145.2 57.8,146.6 55.5,147.8 53.3,148.9 51.0,149.9 48.7,150.8 46.3,151.6 43.9,152.4 41.7,153.0 39.5,153.6 37.3,154.2 35.0,154.7 32.8,155.1 30.5,155.5 28.3,155.9 26.1,156.3 23.9,156.6 21.7,156.9 19.4,157.2 17.1,157.4 14.7,157.6 12.4,157.8 10.2,157.9 8.0,158.1 6.0,158.2 4.1,158.3 2.4,158.4 0.8,158.5 -1.9,158.6 -4.1,158.8 -5.9,158.8 -7.6,158.9 -9.4,159.0Z" fill="#414141" filter="url(#b1_4)" style="mix-blend-mode:plus-lighter"/>
<path d="M-10.4,136.0 -8.4,135.9 -6.3,135.8 -4.2,135.7 -2.1,135.7 0.0,135.6 2.1,135.5 4.2,135.5 6.3,135.4 8.3,135.3 10.3,135.2 12.2,135.1 14.0,135.0 15.8,134.9 17.4,134.7 18.9,134.6 21.2,134.5 23.4,134.3 25.5,134.2 27.4,134.0 29.3,133.7 31.1,133.5 32.9,133.2 34.6,132.9 36.2,132.6 37.8,132.3 40.2,132.2 42.2,132.1 44.1,131.8 45.9,131.5 47.7,131.1 49.5,130.6 51.5,130.3 53.4,129.8 55.3,129.2 57.3,128.5 59.4,127.9 61.4,127.2 62.6,128.8 61.3,130.5 60.1,132.3 58.9,134.0 57.6,135.8 56.1,137.6 54.5,139.4 52.7,140.8 51.0,142.2 49.2,143.5 47.1,144.9 44.8,146.3 42.2,147.7 40.5,148.3 38.7,148.9 36.9,149.5 35.0,150.1 32.9,150.7 30.8,151.3 28.5,151.9 26.1,152.4 23.7,152.9 21.1,153.4 19.2,153.6 17.2,153.8 15.3,153.9 13.3,154.1 11.2,154.2 9.1,154.3 7.0,154.4 4.9,154.4 2.8,154.5 0.7,154.6 -1.4,154.7 -3.5,154.7 -5.5,154.8 -7.6,154.9 -9.6,155.0Z" fill="#171717" filter="url(#b1_8)" style="mix-blend-mode:plus-lighter"/>
<path d="M-10.1,140.0 -8.1,140.0 -6.1,139.9 -4.0,139.9 -2.1,139.9 -0.1,139.9 1.9,139.8 3.8,139.8 5.8,139.7 7.7,139.6 9.6,139.5 11.6,139.5 13.6,139.4 15.6,139.3 17.6,139.1 19.7,139.0 21.7,138.8 23.7,138.7 25.6,138.5 27.5,138.3 29.2,138.1 31.6,137.9 33.9,137.6 36.1,137.4 38.2,137.1 40.2,136.8 42.2,136.5 44.2,136.1 46.4,135.9 48.6,135.7 50.6,135.4 52.7,135.1 54.7,134.8 56.8,134.5 57.2,135.5 55.3,136.5 53.5,137.6 51.8,138.7 49.9,139.7 47.9,140.8 45.8,141.9 43.9,142.6 41.9,143.4 39.9,144.1 37.8,144.8 35.6,145.5 33.2,146.2 30.8,146.9 28.9,147.3 27.0,147.7 25.1,148.1 23.0,148.5 20.9,148.9 18.8,149.2 16.7,149.6 14.6,149.9 12.5,150.2 10.4,150.5 8.3,150.6 6.2,150.7 4.2,150.8 2.1,150.8 0.1,150.9 -1.9,150.9 -4.0,150.9 -5.9,150.9 -7.9,151.0 -9.9,151.0Z" fill="#383838" filter="url(#b2)" style="mix-blend-mode:plus-lighter"/>
<ellipse cx="2" cy="146" rx="14" ry="3" transform="rotate(0 2 146)" fill="#121212" filter="url(#b1_5)" style="mix-blend-mode:plus-lighter"/>
<path d="M43.9,136.7 46.0,135.8 48.0,134.9 49.9,134.1 51.8,133.2 53.7,132.2 55.6,131.0 57.0,129.9 58.5,128.6 60.0,127.2 61.6,125.7 63.2,124.1 64.8,122.5 66.5,120.8 68.3,119.2 69.7,117.9 71.1,116.5 72.6,115.0 74.1,113.6 75.6,112.1 77.2,110.6 78.7,109.1 80.3,107.7 81.9,106.3 83.4,105.0 85.2,103.7 86.9,102.5 88.6,101.3 90.3,100.2 92.0,99.1 93.7,98.1 95.3,97.0 97.0,96.0 98.6,94.9 101.4,99.1 99.7,100.2 98.0,101.3 96.3,102.3 94.7,103.3 93.0,104.4 91.4,105.4 89.8,106.6 88.2,107.7 86.6,109.0 85.1,110.2 83.6,111.4 82.1,112.8 80.6,114.2 79.1,115.7 77.6,117.1 76.1,118.6 74.6,120.1 73.1,121.5 71.7,122.8 70.0,124.4 68.3,126.1 66.7,127.7 65.1,129.3 63.4,130.9 61.8,132.3 60.1,133.7 58.4,135.0 56.2,136.5 54.1,137.7 52.0,138.7 49.9,139.5 48.0,140.4 46.1,141.3Z" fill="#1a1a1a" filter="url(#b2)" style="mix-blend-mode:plus-lighter"/>
<ellipse cx="95" cy="98" rx="13" ry="5" transform="rotate(-35 95 98)" fill="#1a1a1a" filter="url(#b2_5)" style="mix-blend-mode:plus-lighter"/>
<ellipse cx="90" cy="102" rx="6" ry="2" transform="rotate(-40 90 102)" fill="#0f0f0f" filter="url(#b1_5)" style="mix-blend-mode:plus-lighter"/>
<path d="M-12.2,161.2 -10.1,160.8 -8.0,160.5 -5.8,160.1 -3.7,159.8 -1.6,159.5 0.5,159.1 2.6,158.8 4.7,158.5 6.8,158.1 8.8,157.8 10.8,157.4 12.8,157.1 14.8,156.8 16.7,156.4 18.6,156.0 20.5,155.7 22.2,155.3 24.2,155.1 26.1,154.8 28.1,154.5 30.0,154.2 32.0,153.8 34.0,153.4 36.0,153.0 38.0,152.6 40.1,152.2 42.2,151.8 44.3,151.4 46.5,151.1 48.7,150.7 50.9,150.4 53.1,150.2 55.2,149.9 57.1,149.7 59.0,149.5 60.8,149.4 62.6,149.2 64.4,149.1 66.2,149.0 68.1,148.9 70.1,148.8 72.1,148.8 74.3,148.8 76.6,148.8 79.1,148.9 81.8,148.9 84.7,149.0 86.3,149.0 87.9,148.9 89.6,148.9 91.4,148.9 93.2,148.8 95.0,148.8 96.9,148.8 98.8,148.8 100.8,148.8 102.8,148.8 104.8,148.8 106.9,148.8 108.9,148.8 111.0,148.8 113.2,148.8 115.3,148.8 117.5,148.8 119.6,148.9 121.8,148.9 124.0,148.9 126.1,148.9 128.3,148.9 130.4,148.9 132.6,149.0 134.7,149.0 136.8,149.0 138.9,149.0 141.0,149.0 143.0,149.0 145.0,149.0 145.0,165.0 143.0,165.0 140.9,165.0 138.8,165.0 136.7,165.0 134.6,165.0 132.5,165.0 130.3,164.9 128.2,164.9 126.0,164.9 123.8,164.9 121.7,164.9 119.5,164.9 117.3,164.8 115.2,164.8 113.1,164.8 111.0,164.8 108.9,164.8 106.8,164.8 104.8,164.8 102.8,164.8 100.8,164.8 98.9,164.8 97.0,164.8 95.1,164.8 93.4,164.8 91.6,164.8 89.9,164.9 88.3,164.9 86.8,165.0 85.3,165.0 82.4,165.3 79.9,165.6 77.5,165.8 75.4,166.1 73.4,166.4 71.6,166.7 69.9,166.9 68.3,167.2 66.7,167.5 65.2,167.8 63.7,168.2 62.1,168.5 60.4,168.9 58.7,169.4 56.9,169.8 55.1,170.4 53.4,170.9 51.7,171.6 50.0,172.2 48.2,172.9 46.4,173.7 44.6,174.4 42.7,175.2 40.7,176.0 38.7,176.8 36.7,177.6 34.6,178.4 32.4,179.2 30.1,180.0 27.8,180.7 25.7,181.1 23.6,181.6 21.5,182.0 19.4,182.3 17.3,182.7 15.2,183.1 13.1,183.4 10.9,183.8 8.8,184.1 6.7,184.5 4.6,184.8 2.5,185.1 0.4,185.5 -1.7,185.8 -3.8,186.1 -5.8,186.5 -7.8,186.8Z" fill="url(#g1)" filter="url(#b5)" style="mix-blend-mode:plus-lighter"/>
<path d="M-11.5,119.2 -9.5,118.7 -7.4,118.3 -5.3,117.9 -3.2,117.5 -1.1,117.1 0.9,116.7 2.9,116.3 4.9,115.9 6.8,115.5 8.7,115.1 10.6,114.7 12.4,114.2 14.1,113.7 15.8,113.1 17.5,112.5 19.1,111.8 20.7,111.1 22.4,110.3 24.0,109.4 25.7,108.6 27.3,107.7 28.9,106.7 30.6,105.7 32.2,104.7 33.8,103.6 35.5,102.6 37.1,101.5 38.8,100.4 40.5,99.3 42.1,98.2 43.7,97.1 45.2,96.0 46.8,94.9 48.3,93.8 49.8,92.6 51.4,91.4 52.9,90.2 54.5,88.9 56.1,87.7 57.7,86.4 59.3,85.2 60.9,83.9 62.6,82.7 64.3,81.5 66.0,80.3 67.8,79.0 69.6,77.8 71.4,76.6 73.2,75.4 75.0,74.1 76.8,72.9 78.6,71.7 80.5,70.6 82.3,69.4 84.2,68.3 86.0,67.1 87.9,66.0 89.7,64.9 91.6,63.9 93.5,62.8 95.5,61.7 97.5,60.7 99.4,59.6 101.4,58.6 103.4,57.6 105.4,56.6 107.4,55.6 109.5,54.7 111.5,53.8 113.5,53.0 115.6,52.2 117.7,51.4 119.9,50.6 122.2,49.9 124.5,49.3 126.7,48.8 128.9,48.2 131.1,47.8 133.2,47.3 135.3,46.9 137.4,46.5 139.4,46.1 141.4,45.6 143.4,45.2 146.6,58.8 144.4,59.3 142.3,59.8 140.1,60.2 138.0,60.6 136.0,61.1 133.9,61.5 131.9,61.9 130.0,62.4 128.0,62.8 126.1,63.4 124.2,64.0 122.3,64.6 120.6,65.3 118.8,66.0 117.0,66.7 115.2,67.5 113.3,68.3 111.5,69.2 109.7,70.1 107.8,71.1 105.9,72.0 104.1,73.0 102.2,74.0 100.3,75.1 98.4,76.1 96.7,77.1 95.0,78.1 93.2,79.1 91.5,80.2 89.7,81.3 88.0,82.4 86.2,83.5 84.5,84.6 82.7,85.8 81.0,87.0 79.2,88.2 77.5,89.4 75.7,90.5 74.0,91.7 72.5,92.8 70.9,94.0 69.4,95.1 67.9,96.3 66.3,97.5 64.8,98.7 63.2,99.9 61.6,101.2 60.0,102.4 58.4,103.7 56.7,105.0 55.1,106.2 53.4,107.4 51.6,108.6 49.9,109.8 48.2,110.9 46.5,112.0 44.8,113.2 43.1,114.3 41.4,115.4 39.7,116.5 37.9,117.6 36.1,118.7 34.3,119.8 32.4,120.8 30.5,121.9 28.6,122.8 26.6,123.8 24.6,124.7 22.5,125.5 20.4,126.3 18.3,127.0 16.2,127.6 14.0,128.2 11.9,128.7 9.8,129.2 7.7,129.7 5.6,130.1 3.5,130.5 1.4,130.8 -0.6,131.2 -2.6,131.6 -4.6,132.0 -6.5,132.4 -8.5,132.8Z" fill="#333333" filter="url(#b4)" style="mix-blend-mode:plus-lighter"/>
<path d="M55.0,65.3 56.8,64.3 58.5,63.3 60.3,62.3 62.1,61.2 64.0,60.2 65.8,59.1 67.6,58.0 69.5,57.0 71.3,55.9 73.1,54.8 74.9,53.8 76.7,52.8 78.5,51.7 80.3,50.7 82.0,49.7 83.8,48.8 85.4,47.8 87.1,46.9 88.7,46.0 90.3,45.2 92.6,44.0 94.8,42.8 96.9,41.7 98.9,40.7 100.9,39.7 102.8,38.7 104.7,37.8 106.6,36.9 108.5,36.0 110.4,35.2 112.3,34.3 114.3,33.5 116.3,32.7 118.4,31.9 120.5,31.1 122.6,30.4 124.6,29.7 126.6,29.1 128.6,28.5 130.6,27.9 132.6,27.3 134.5,26.7 136.4,26.2 138.3,25.6 140.1,25.1 142.0,24.5 148.0,43.5 146.0,44.2 144.0,44.8 142.1,45.4 140.1,45.9 138.2,46.5 136.3,47.0 134.4,47.6 132.6,48.2 130.8,48.8 129.0,49.4 127.2,50.0 125.5,50.6 123.7,51.3 121.9,52.0 120.2,52.7 118.5,53.5 116.8,54.2 115.1,55.0 113.3,55.8 111.6,56.7 109.8,57.6 108.0,58.5 106.0,59.5 104.0,60.5 101.9,61.6 99.7,62.8 98.2,63.6 96.7,64.4 95.1,65.3 93.5,66.2 91.9,67.1 90.2,68.1 88.5,69.1 86.7,70.1 84.9,71.1 83.1,72.2 81.3,73.2 79.5,74.3 77.7,75.3 75.8,76.4 74.0,77.5 72.2,78.5 70.4,79.6 68.5,80.6 66.7,81.7 65.0,82.7Z" fill="#171717" filter="url(#b8)" style="mix-blend-mode:plus-lighter"/>
<ellipse cx="58" cy="82" rx="13" ry="7" transform="rotate(-25 58 82)" fill="#1a1a1a" filter="url(#b4)" style="mix-blend-mode:plus-lighter"/>
</g>
<rect x="0" y="69.80" width="2.8" height="1.9" fill="#fff"/>
<rect x="130.20" y="69.80" width="2.8" height="1.9" fill="#fff"/>
<rect x="0" y="140.55" width="2.8" height="1.9" fill="#fff"/>
<rect x="130.20" y="140.55" width="2.8" height="1.9" fill="#fff"/>
<rect x="0" y="211.30" width="2.8" height="1.9" fill="#fff"/>
<rect x="130.20" y="211.30" width="2.8" height="1.9" fill="#fff"/>
</svg>
<svg x="356.10" y="23.00" width="133.25" height="283.00" viewBox="0 0 133.25 283.00" overflow="hidden">
<g filter="url(#cm)"><rect x="-1" y="-1" width="135.25" height="285.00" fill="#000"/>
<path d="M-12.0,138.1 -10.2,137.9 -8.5,137.7 -6.7,137.6 -4.6,137.4 -1.9,137.1 -0.1,136.9 1.8,136.8 3.8,136.6 5.7,136.5 7.7,136.3 9.7,136.1 11.6,136.0 13.4,135.8 15.1,135.5 16.6,135.3 18.3,135.0 20.1,134.6 21.9,134.2 23.7,133.8 25.5,133.4 27.3,133.0 29.0,132.5 30.6,132.0 32.1,131.5 33.5,131.1 35.2,130.5 36.7,129.9 38.1,129.3 39.4,128.7 40.7,128.1 42.0,127.4 43.3,126.7 44.6,125.9 45.7,125.2 46.9,124.4 48.1,123.5 49.3,122.6 50.6,121.5 52.0,120.4 53.3,119.2 54.7,118.1 55.9,117.0 57.1,115.8 58.4,114.6 59.7,113.2 61.1,111.7 62.6,110.2 64.2,108.5 65.7,107.0 67.1,105.6 68.4,104.2 69.9,102.6 71.5,101.0 73.2,99.2 75.1,97.3 77.2,95.3 79.4,93.4 81.8,91.6 84.1,89.9 86.5,88.3 89.0,86.7 91.6,85.3 94.3,83.9 97.1,82.6 100.0,81.5 102.8,80.5 105.5,79.7 108.2,79.0 110.8,78.5 113.3,77.9 116.1,77.4 118.1,77.0 120.1,76.6 122.3,76.3 124.4,75.9 126.6,75.6 128.9,75.2 131.1,74.9 133.3,74.6 135.5,74.2 137.7,73.9 139.8,73.6 141.9,73.2 148.4,114.7 146.3,115.1 144.0,115.4 141.8,115.8 139.6,116.1 137.4,116.4 135.2,116.7 133.1,117.1 131.1,117.4 129.2,117.7 127.4,118.0 125.8,118.3 124.2,118.6 121.7,119.1 119.5,119.5 117.8,119.9 116.5,120.2 115.5,120.5 114.6,120.8 113.7,121.2 112.6,121.7 111.5,122.3 110.5,122.9 109.4,123.5 108.2,124.3 107.0,125.2 105.8,126.1 105.0,126.8 104.1,127.6 103.1,128.7 101.9,129.9 100.5,131.4 99.0,133.0 97.3,134.7 95.7,136.4 94.2,137.9 92.9,139.3 91.4,140.8 89.8,142.5 88.2,144.1 86.4,145.9 84.5,147.7 82.6,149.4 80.8,151.0 79.1,152.5 77.2,154.1 75.3,155.6 73.2,157.2 71.1,158.7 68.8,160.3 66.5,161.8 64.2,163.1 62.0,164.4 59.7,165.6 57.3,166.7 54.9,167.8 52.4,168.9 49.8,169.9 47.2,170.8 44.9,171.6 42.6,172.3 40.3,172.9 38.0,173.6 35.6,174.2 33.2,174.7 30.9,175.3 28.5,175.8 26.1,176.2 23.7,176.7 21.1,177.1 18.5,177.4 16.0,177.7 13.5,178.0 11.2,178.2 9.0,178.4 6.9,178.5 5.1,178.6 3.5,178.8 2.1,178.9 -0.5,179.2 -2.5,179.4 -4.3,179.5 -6.0,179.7 -7.8,179.9Z" fill="#545454" filter="url(#b8)" style="mix-blend-mode:plus-lighter"/>
<path d="M-11.3,145.1 -9.5,144.9 -7.8,144.7 -6.0,144.5 -3.9,144.3 -1.3,144.1 0.5,143.9 2.3,143.8 4.3,143.6 6.3,143.5 8.3,143.3 10.3,143.1 12.3,142.9 14.3,142.7 16.1,142.5 17.8,142.2 19.6,141.9 21.5,141.5 23.4,141.1 25.3,140.7 27.2,140.2 29.0,139.7 30.9,139.2 32.6,138.7 34.2,138.2 35.8,137.7 37.6,137.1 39.3,136.4 40.9,135.7 42.4,135.0 43.9,134.3 45.3,133.6 46.8,132.8 48.2,131.9 49.6,131.0 50.9,130.1 52.3,129.1 53.7,128.1 55.1,127.0 56.5,125.8 57.9,124.5 59.4,123.3 60.7,122.1 62.0,120.8 63.3,119.5 64.7,118.1 66.2,116.6 67.7,115.0 69.2,113.4 70.7,111.9 72.1,110.5 73.5,109.0 75.0,107.4 76.5,105.8 78.2,104.1 79.9,102.3 81.8,100.6 83.8,98.9 86.0,97.2 88.1,95.7 90.3,94.2 92.6,92.8 95.0,91.4 97.4,90.2 99.9,89.0 102.4,88.0 104.9,87.2 107.4,86.5 109.8,85.8 112.2,85.3 114.7,84.8 117.5,84.2 119.4,83.9 121.3,83.5 123.4,83.2 125.5,82.8 127.7,82.5 129.9,82.1 132.1,81.8 134.4,81.5 136.6,81.1 138.8,80.8 140.9,80.5 143.0,80.2 147.0,105.8 144.9,106.2 142.7,106.5 140.5,106.9 138.2,107.2 136.0,107.5 133.8,107.9 131.7,108.2 129.6,108.5 127.7,108.8 125.8,109.1 124.1,109.4 122.5,109.8 119.9,110.3 117.6,110.7 115.7,111.2 114.2,111.6 112.8,112.0 111.5,112.4 110.1,113.0 108.7,113.6 107.3,114.3 105.9,115.1 104.5,116.0 103.0,117.0 101.6,118.0 100.2,119.1 99.1,120.0 97.9,121.1 96.7,122.3 95.3,123.7 93.9,125.2 92.4,126.8 90.9,128.5 89.3,130.1 87.8,131.6 86.4,133.1 84.9,134.6 83.4,136.2 81.8,137.8 80.1,139.4 78.4,141.1 76.6,142.7 74.9,144.2 73.3,145.6 71.5,147.1 69.7,148.5 67.8,150.0 65.9,151.4 63.9,152.8 61.8,154.1 59.7,155.3 57.7,156.4 55.6,157.5 53.5,158.6 51.3,159.6 49.0,160.5 46.6,161.4 44.2,162.3 42.2,163.0 40.0,163.6 37.9,164.3 35.7,164.9 33.4,165.4 31.2,166.0 28.9,166.5 26.7,167.0 24.5,167.4 22.2,167.8 19.8,168.2 17.4,168.5 15.0,168.8 12.7,169.0 10.5,169.2 8.3,169.4 6.2,169.5 4.4,169.7 2.7,169.8 1.3,169.9 -1.3,170.2 -3.4,170.4 -5.2,170.6 -6.9,170.8 -8.7,170.9Z" fill="#414141" filter="url(#b1_4)" style="mix-blend-mode:plus-lighter"/>
<path d="M-10.6,147.5 -8.5,147.4 -6.4,147.3 -4.3,147.2 -2.2,147.1 -0.1,147.0 2.0,146.9 4.1,146.8 6.1,146.6 8.2,146.5 10.1,146.4 12.0,146.3 13.8,146.1 15.5,146.0 17.2,145.8 18.7,145.6 20.9,145.4 23.0,145.2 25.0,145.0 26.9,144.7 28.7,144.4 30.5,144.1 32.2,143.7 33.9,143.3 35.7,142.9 37.4,142.5 39.5,142.1 41.5,141.8 43.4,141.4 45.3,140.9 47.1,140.4 49.0,139.8 50.8,139.3 52.4,138.7 54.7,138.1 56.9,137.5 59.0,136.7 61.1,135.9 63.2,135.0 65.4,134.2 66.6,135.8 65.2,137.7 63.9,139.5 62.5,141.4 61.1,143.3 59.4,145.3 57.6,147.3 56.0,148.6 54.3,149.9 52.6,151.2 50.8,152.5 48.9,153.8 46.9,155.1 44.8,156.3 42.6,157.5 40.8,158.3 39.0,159.0 37.1,159.8 35.2,160.5 33.2,161.2 31.0,161.9 28.8,162.6 26.4,163.2 23.9,163.8 21.3,164.4 19.4,164.7 17.5,164.9 15.5,165.1 13.4,165.2 11.4,165.4 9.3,165.5 7.2,165.6 5.1,165.7 2.9,165.8 0.8,165.9 -1.3,166.0 -3.4,166.1 -5.4,166.2 -7.4,166.4 -9.4,166.5Z" fill="#171717" filter="url(#b1_8)" style="mix-blend-mode:plus-lighter"/>
<path d="M-10.3,151.0 -8.2,150.9 -6.2,150.8 -4.2,150.8 -2.2,150.7 -0.2,150.7 1.7,150.6 3.7,150.5 5.6,150.4 7.5,150.2 9.4,150.0 11.3,149.9 13.3,149.8 15.3,149.6 17.2,149.4 19.2,149.2 21.2,148.9 23.1,148.7 25.0,148.4 26.9,148.0 28.7,147.7 30.8,147.3 32.8,146.8 34.9,146.4 36.9,145.8 38.9,145.3 40.9,144.7 42.8,144.1 44.7,143.5 46.5,142.8 48.6,142.3 50.5,141.7 52.4,141.1 54.2,140.4 56.1,139.7 57.9,139.0 59.8,138.3 61.7,137.6 62.3,138.4 60.7,139.8 59.2,141.1 57.8,142.4 56.3,143.8 54.7,145.1 53.1,146.5 51.3,147.8 49.5,149.2 47.6,150.2 45.8,151.1 43.8,152.1 41.8,153.0 39.8,154.0 37.7,154.9 35.6,155.7 33.4,156.6 31.3,157.3 29.3,157.9 27.2,158.5 25.2,159.0 23.1,159.5 21.0,160.0 19.0,160.5 16.9,160.9 14.8,161.3 12.7,161.6 10.6,162.0 8.5,162.2 6.4,162.3 4.3,162.5 2.3,162.6 0.2,162.7 -1.8,162.7 -3.8,162.8 -5.8,162.8 -7.8,162.9 -9.7,163.0Z" fill="#3d3d3d" filter="url(#b2)" style="mix-blend-mode:plus-lighter"/>
<ellipse cx="10" cy="156.5" rx="22" ry="2.5" transform="rotate(-3 10 156.5)" fill="#121212" filter="url(#b1_5)" style="mix-blend-mode:plus-lighter"/>
<path d="M53.5,141.0 55.1,139.8 56.8,138.5 58.4,137.3 60.1,136.1 61.7,134.9 63.3,133.7 64.8,132.4 66.3,131.1 67.8,129.8 69.3,128.4 70.8,126.9 72.3,125.4 73.7,123.9 75.2,122.3 76.7,120.8 78.2,119.2 79.7,117.7 81.2,116.2 82.6,114.6 84.1,113.0 85.6,111.5 87.2,109.9 88.8,108.4 90.4,107.0 92.4,105.6 94.3,104.3 96.2,103.1 98.1,102.0 100.0,101.0 101.9,99.9 103.7,98.9 106.3,103.1 104.4,104.3 102.5,105.3 100.6,106.4 98.8,107.4 97.0,108.5 95.2,109.7 93.6,111.0 92.1,112.2 90.7,113.5 89.2,115.0 87.7,116.5 86.3,118.0 84.8,119.6 83.3,121.2 81.8,122.8 80.3,124.3 78.8,125.8 77.3,127.3 75.9,128.9 74.3,130.4 72.8,131.9 71.3,133.4 69.7,134.9 68.0,136.3 66.4,137.6 64.7,138.9 63.1,140.1 61.4,141.4 59.8,142.6 58.1,143.8 56.5,145.0Z" fill="#1a1a1a" filter="url(#b2)" style="mix-blend-mode:plus-lighter"/>
<ellipse cx="91" cy="110" rx="10" ry="3.5" transform="rotate(-40 91 110)" fill="#292929" filter="url(#b1_5)" style="mix-blend-mode:plus-lighter"/>
<path d="M93.4,99.3 95.5,98.5 97.6,97.8 99.8,97.0 101.9,96.3 104.2,95.5 106.4,94.8 108.7,94.2 110.9,93.6 113.1,93.1 115.2,92.7 117.3,92.3 119.5,91.9 121.7,91.5 124.2,91.1 126.0,90.8 127.9,90.5 129.9,90.2 131.9,89.9 134.0,89.6 136.0,89.3 138.1,89.0 140.2,88.7 142.3,88.4 144.3,88.1 145.7,97.9 143.7,98.2 141.6,98.5 139.6,98.8 137.5,99.1 135.4,99.4 133.4,99.7 131.4,100.0 129.5,100.3 127.6,100.6 125.8,100.9 123.4,101.3 121.2,101.7 119.1,102.1 117.1,102.5 115.2,102.9 113.3,103.3 111.3,103.8 109.3,104.4 107.3,105.0 105.2,105.7 103.1,106.5 101.0,107.2 98.8,108.0 96.6,108.7Z" fill="#141414" filter="url(#b2_5)" style="mix-blend-mode:plus-lighter"/>
<path d="M-12.0,170.1 -10.0,169.9 -7.8,169.6 -5.7,169.4 -3.6,169.1 -1.5,168.9 0.5,168.7 2.5,168.5 4.5,168.2 6.4,168.0 8.3,167.8 10.1,167.5 11.8,167.3 13.5,167.0 15.1,166.7 16.6,166.4 18.4,166.2 20.1,166.0 21.9,165.8 23.6,165.5 25.4,165.2 27.2,164.8 29.0,164.4 30.9,164.0 32.8,163.6 34.7,163.1 36.7,162.6 38.7,162.2 40.7,161.7 42.5,161.3 44.3,160.9 46.1,160.4 47.9,159.9 49.9,159.4 51.8,158.8 53.9,158.2 56.0,157.6 58.3,157.1 60.5,156.5 62.9,156.0 65.4,155.6 67.8,155.2 69.9,154.9 71.9,154.6 73.9,154.3 75.9,154.0 77.8,153.8 79.8,153.7 81.9,153.5 83.9,153.4 86.0,153.3 88.1,153.2 90.3,153.1 92.5,153.1 94.8,153.1 97.2,153.0 99.7,153.0 101.4,152.9 103.3,152.9 105.2,152.8 107.1,152.8 109.1,152.8 111.1,152.8 113.2,152.8 115.3,152.8 117.4,152.8 119.5,152.8 121.6,152.8 123.8,152.8 125.9,152.9 128.1,152.9 130.3,152.9 132.4,152.9 134.6,152.9 136.7,153.0 138.8,153.0 140.9,153.0 143.0,153.0 145.0,153.0 145.0,171.0 142.9,171.0 140.8,171.0 138.7,171.0 136.5,171.0 134.4,170.9 132.2,170.9 130.1,170.9 127.9,170.9 125.8,170.9 123.6,170.8 121.5,170.8 119.4,170.8 117.3,170.8 115.2,170.8 113.2,170.8 111.2,170.8 109.3,170.8 107.4,170.8 105.5,170.8 103.8,170.9 102.0,170.9 100.3,171.0 97.9,171.2 95.6,171.4 93.4,171.5 91.3,171.7 89.3,171.9 87.4,172.1 85.5,172.3 83.7,172.6 82.0,172.8 80.3,173.1 78.6,173.3 77.0,173.7 75.4,174.0 73.8,174.4 72.2,174.8 70.5,175.4 68.8,176.1 67.2,176.9 65.6,177.7 64.0,178.5 62.3,179.4 60.7,180.3 58.9,181.3 57.1,182.3 55.3,183.3 53.3,184.3 51.3,185.3 49.3,186.3 47.5,187.1 45.7,188.0 44.0,188.9 42.2,189.8 40.3,190.7 38.5,191.6 36.5,192.5 34.5,193.4 32.5,194.3 30.3,195.1 28.1,196.0 25.8,196.8 23.4,197.6 21.2,198.1 19.0,198.5 16.8,198.9 14.7,199.2 12.5,199.5 10.3,199.8 8.2,200.0 6.1,200.3 4.0,200.5 1.9,200.7 -0.1,200.9 -2.1,201.2 -4.1,201.4 -6.0,201.6 -8.0,201.9Z" fill="url(#g2)" filter="url(#b5)" style="mix-blend-mode:plus-lighter"/>
<path d="M-11.7,131.2 -9.7,130.7 -7.6,130.2 -5.6,129.8 -3.5,129.3 -1.5,128.9 0.6,128.4 2.6,128.0 4.6,127.5 6.6,127.1 8.5,126.7 10.5,126.2 12.3,125.7 14.2,125.3 15.9,124.8 17.6,124.2 19.3,123.7 20.8,123.1 22.3,122.5 24.2,121.7 25.9,120.9 27.6,120.0 29.3,119.0 30.9,118.0 32.5,117.0 34.1,115.9 35.7,114.7 37.4,113.6 39.0,112.4 40.7,111.1 42.4,109.9 44.2,108.6 45.9,107.3 47.6,106.1 49.2,105.0 50.8,103.8 52.4,102.5 54.1,101.3 55.7,100.0 57.4,98.7 59.0,97.5 60.7,96.2 62.4,94.8 64.0,93.5 65.7,92.2 67.4,90.9 69.1,89.6 70.8,88.4 72.5,87.1 74.1,85.9 75.8,84.7 77.5,83.4 79.1,82.2 80.8,80.9 82.5,79.7 84.2,78.4 85.9,77.2 87.6,76.0 89.3,74.8 91.0,73.6 92.8,72.4 94.5,71.2 96.2,70.1 98.1,68.9 99.9,67.8 101.8,66.6 103.7,65.5 105.6,64.3 107.5,63.2 109.4,62.2 111.3,61.1 113.1,60.1 115.0,59.1 116.8,58.2 118.6,57.3 120.4,56.4 122.2,55.6 124.6,54.6 127.0,53.7 129.3,52.9 131.5,52.3 133.6,51.7 135.6,51.2 137.5,50.8 139.4,50.3 141.2,49.8 143.1,49.3 146.9,62.7 144.9,63.3 142.8,63.9 140.8,64.3 138.9,64.8 137.1,65.3 135.3,65.8 133.5,66.3 131.6,66.9 129.8,67.6 127.8,68.4 126.3,69.1 124.8,69.8 123.1,70.6 121.5,71.5 119.8,72.4 118.0,73.4 116.3,74.3 114.5,75.4 112.7,76.4 110.9,77.5 109.1,78.6 107.3,79.7 105.5,80.8 103.8,81.9 102.2,82.9 100.6,84.0 99.0,85.1 97.4,86.2 95.7,87.4 94.1,88.5 92.5,89.7 90.8,90.9 89.2,92.2 87.5,93.4 85.9,94.6 84.2,95.9 82.5,97.1 80.8,98.4 79.2,99.6 77.5,100.8 75.9,102.1 74.3,103.3 72.6,104.6 71.0,105.9 69.3,107.2 67.6,108.5 66.0,109.8 64.3,111.1 62.6,112.4 60.9,113.7 59.2,115.0 57.5,116.3 55.7,117.5 54.1,118.7 52.3,119.9 50.7,121.2 49.0,122.4 47.3,123.6 45.6,124.9 43.9,126.1 42.1,127.4 40.3,128.6 38.4,129.8 36.4,131.0 34.4,132.2 32.3,133.4 30.0,134.4 27.7,135.5 25.8,136.2 23.8,136.9 21.9,137.6 19.9,138.2 17.9,138.8 15.8,139.3 13.8,139.8 11.7,140.3 9.7,140.8 7.6,141.2 5.5,141.7 3.5,142.1 1.5,142.5 -0.5,143.0 -2.5,143.4 -4.5,143.9 -6.4,144.3 -8.3,144.8Z" fill="#333333" filter="url(#b4)" style="mix-blend-mode:plus-lighter"/>
<path d="M60.0,73.3 61.8,72.3 63.5,71.3 65.3,70.3 67.1,69.2 69.0,68.2 70.8,67.1 72.6,66.0 74.5,65.0 76.3,63.9 78.1,62.8 79.9,61.8 81.7,60.8 83.5,59.7 85.3,58.7 87.0,57.7 88.8,56.8 90.4,55.8 92.1,54.9 93.7,54.0 95.3,53.2 97.6,52.0 99.8,50.8 102.0,49.7 104.1,48.6 106.1,47.6 108.1,46.6 110.1,45.7 112.0,44.7 113.9,43.9 115.7,43.0 117.6,42.2 119.4,41.5 121.3,40.7 123.8,39.8 126.1,38.9 128.4,38.2 130.6,37.6 132.7,37.0 134.7,36.4 136.6,35.9 138.5,35.4 140.3,34.9 142.2,34.4 147.8,53.6 145.7,54.2 143.7,54.8 141.7,55.3 139.8,55.8 137.9,56.3 136.1,56.8 134.3,57.3 132.5,57.9 130.6,58.5 128.7,59.3 127.1,59.9 125.5,60.6 123.8,61.3 122.1,62.1 120.4,62.9 118.7,63.7 116.9,64.6 115.0,65.5 113.1,66.4 111.1,67.5 109.1,68.5 106.9,69.6 104.7,70.8 103.2,71.6 101.7,72.4 100.1,73.3 98.5,74.2 96.9,75.1 95.2,76.1 93.5,77.1 91.7,78.1 89.9,79.1 88.1,80.2 86.3,81.2 84.5,82.3 82.7,83.3 80.8,84.4 79.0,85.5 77.2,86.5 75.4,87.6 73.5,88.6 71.7,89.7 70.0,90.7Z" fill="#121212" filter="url(#b8)" style="mix-blend-mode:plus-lighter"/>
<ellipse cx="60" cy="108" rx="12" ry="6" transform="rotate(-35 60 108)" fill="#0d0d0d" filter="url(#b4)" style="mix-blend-mode:plus-lighter"/>
</g>
<rect x="0" y="69.80" width="2.8" height="1.9" fill="#fff"/>
<rect x="130.45" y="69.80" width="2.8" height="1.9" fill="#fff"/>
<rect x="0" y="140.55" width="2.8" height="1.9" fill="#fff"/>
<rect x="130.45" y="140.55" width="2.8" height="1.9" fill="#fff"/>
<rect x="0" y="211.30" width="2.8" height="1.9" fill="#fff"/>
<rect x="130.45" y="211.30" width="2.8" height="1.9" fill="#fff"/>
</svg>
<svg x="498.20" y="23.00" width="133.40" height="283.00" viewBox="0 0 133.40 283.00" overflow="hidden">
<g filter="url(#cm)"><rect x="-1" y="-1" width="135.40" height="285.00" fill="#000"/>
<path d="M-11.4,156.1 -9.5,155.9 -7.7,155.7 -6.2,155.6 -4.4,155.4 -1.9,155.1 -0.3,154.9 1.5,154.7 3.4,154.5 5.4,154.2 7.4,153.9 9.4,153.7 11.3,153.4 13.2,153.1 15.0,152.7 16.7,152.4 18.5,151.9 20.3,151.3 22.1,150.7 24.0,150.1 25.8,149.4 27.7,148.7 29.5,148.0 31.2,147.4 32.9,146.7 34.4,146.0 36.2,145.0 37.8,144.1 39.3,143.2 40.7,142.3 42.1,141.3 43.4,140.4 44.7,139.4 46.0,138.4 47.5,137.2 48.9,136.0 50.3,134.8 51.5,133.6 52.8,132.3 53.9,131.0 55.1,129.7 56.1,128.8 57.2,127.8 58.4,126.7 59.6,125.3 61.0,123.9 62.5,122.3 64.1,120.6 65.7,119.0 67.1,117.6 68.5,116.1 70.0,114.6 71.5,112.9 73.2,111.2 75.0,109.4 77.0,107.6 79.1,105.7 81.3,103.9 83.4,102.2 85.7,100.5 88.0,98.9 90.5,97.3 93.0,95.8 95.4,94.4 97.6,93.3 99.7,92.3 101.8,91.2 104.2,90.2 106.6,89.3 109.2,88.4 111.8,87.5 114.7,86.7 116.9,86.1 119.1,85.6 121.4,85.1 123.7,84.6 125.9,84.2 128.2,83.8 130.5,83.4 132.7,83.0 134.9,82.6 137.1,82.2 139.1,81.8 141.2,81.4 148.5,118.7 146.3,119.1 144.0,119.5 141.8,119.9 139.5,120.3 137.3,120.7 135.2,121.1 133.1,121.5 131.1,121.9 129.3,122.3 127.6,122.7 126.1,123.0 124.8,123.3 122.8,123.9 121.2,124.4 119.8,124.9 118.6,125.4 117.4,125.9 116.2,126.5 114.9,127.1 113.6,127.8 111.9,128.4 110.4,129.0 108.8,129.7 107.3,130.5 105.6,131.3 104.0,132.2 102.3,133.2 101.0,134.0 99.7,134.9 98.3,136.0 96.8,137.2 95.2,138.5 93.5,139.9 91.7,141.4 90.0,142.8 88.6,144.3 87.2,145.7 85.7,147.3 84.2,148.9 82.5,150.6 80.8,152.3 79.0,154.0 77.0,155.7 75.3,157.9 73.5,160.0 71.7,162.0 69.8,164.0 67.9,165.9 65.9,167.8 64.0,169.6 62.1,171.2 60.3,172.7 58.4,174.2 56.4,175.7 54.4,177.2 52.2,178.7 50.0,180.1 47.7,181.6 45.7,182.5 43.6,183.5 41.4,184.4 39.2,185.3 37.0,186.2 34.7,187.1 32.4,188.0 30.0,188.8 27.6,189.7 25.2,190.4 22.6,191.0 20.0,191.5 17.5,191.9 15.0,192.3 12.6,192.6 10.3,192.9 8.2,193.2 6.3,193.4 4.6,193.6 3.0,193.8 0.1,194.2 -2.4,194.4 -4.5,194.6 -6.1,194.7 -7.8,194.9Z" fill="#545454" filter="url(#b7)" style="mix-blend-mode:plus-lighter"/>
<path d="M-11.2,158.1 -9.3,157.9 -7.6,157.7 -6.0,157.6 -4.1,157.4 -1.6,157.1 -0.0,156.9 1.8,156.7 3.7,156.4 5.6,156.2 7.6,155.9 9.6,155.6 11.6,155.3 13.6,155.0 15.4,154.7 17.2,154.3 19.0,153.9 20.8,153.4 22.7,152.9 24.6,152.4 26.5,151.8 28.4,151.2 30.3,150.6 32.1,150.0 33.8,149.4 35.4,148.8 37.4,148.1 39.1,147.4 40.8,146.7 42.4,145.9 44.0,145.2 45.5,144.4 47.0,143.6 48.5,142.7 50.3,141.7 51.9,140.7 53.5,139.6 55.1,138.6 56.6,137.5 58.1,136.3 59.6,135.1 60.8,134.0 62.0,132.9 63.3,131.6 64.7,130.2 66.1,128.7 67.6,127.1 69.2,125.5 70.7,123.9 72.2,122.4 73.6,121.0 75.0,119.4 76.6,117.8 78.2,116.1 79.9,114.4 81.7,112.7 83.6,111.1 85.6,109.4 87.7,107.8 89.8,106.2 92.0,104.7 94.2,103.3 96.5,101.9 98.8,100.6 100.8,99.5 102.7,98.6 104.7,97.6 106.8,96.7 109.0,95.9 111.4,95.0 113.9,94.2 116.5,93.5 118.6,92.9 120.7,92.4 122.8,92.0 125.0,91.5 127.3,91.1 129.5,90.7 131.7,90.2 134.0,89.8 136.2,89.4 138.3,89.0 140.4,88.6 142.5,88.2 147.5,113.8 145.3,114.2 143.1,114.6 140.9,115.0 138.6,115.4 136.4,115.8 134.3,116.2 132.2,116.6 130.1,117.0 128.2,117.4 126.5,117.8 124.9,118.2 123.5,118.5 121.4,119.1 119.6,119.7 118.1,120.2 116.7,120.8 115.4,121.3 114.0,122.0 112.7,122.7 111.2,123.4 109.6,124.3 108.0,125.3 106.5,126.3 105.0,127.3 103.5,128.5 101.9,129.7 100.4,130.9 99.2,132.0 98.0,133.1 96.7,134.4 95.3,135.8 93.9,137.3 92.4,138.9 90.8,140.5 89.3,142.1 87.8,143.6 86.4,145.0 85.0,146.6 83.4,148.2 81.8,149.9 80.1,151.6 78.3,153.3 76.4,154.9 74.3,156.6 72.2,158.2 70.1,159.8 68.0,161.2 65.9,162.6 63.7,164.0 61.5,165.3 59.5,166.4 57.5,167.4 55.5,168.5 53.5,169.5 51.3,170.4 49.2,171.4 46.9,172.3 44.6,173.2 42.6,173.9 40.5,174.6 38.4,175.3 36.3,176.0 34.1,176.7 31.9,177.4 29.6,178.0 27.3,178.6 25.1,179.2 22.8,179.7 20.5,180.2 18.1,180.6 15.7,181.0 13.4,181.4 11.1,181.7 8.9,182.0 6.9,182.2 5.0,182.5 3.2,182.7 1.6,182.9 -1.2,183.2 -3.5,183.5 -5.4,183.7 -7.0,183.8 -8.8,183.9Z" fill="#414141" filter="url(#b1_4)" style="mix-blend-mode:plus-lighter"/>
<path d="M-10.9,160.5 -8.9,160.3 -6.7,160.2 -4.6,160.0 -2.5,159.8 -0.4,159.6 1.7,159.5 3.8,159.3 5.8,159.1 7.8,159.0 9.8,158.8 11.7,158.6 13.5,158.4 15.2,158.1 16.8,157.9 18.3,157.7 20.5,157.3 22.5,156.9 24.5,156.4 26.3,156.0 28.1,155.5 29.9,154.9 31.6,154.4 33.3,153.8 35.1,153.2 36.8,152.6 39.0,152.2 41.0,151.8 43.0,151.4 44.9,150.9 46.8,150.4 48.5,149.9 50.3,149.4 51.9,148.8 54.3,148.4 56.5,148.0 58.7,147.3 60.9,146.6 63.1,145.9 65.4,145.2 66.6,146.8 65.3,148.8 64.1,150.8 62.8,152.8 61.5,154.9 59.9,157.0 58.1,159.2 56.4,160.5 54.8,161.8 53.0,163.1 51.2,164.3 49.3,165.6 47.4,166.9 45.3,168.2 43.2,169.4 41.4,170.1 39.6,170.8 37.8,171.6 35.8,172.3 33.8,173.0 31.6,173.8 29.3,174.5 26.9,175.1 24.4,175.8 21.7,176.3 19.8,176.7 17.8,177.0 15.8,177.2 13.8,177.5 11.7,177.7 9.6,177.9 7.5,178.1 5.4,178.2 3.2,178.4 1.1,178.6 -1.0,178.7 -3.1,178.9 -5.1,179.1 -7.1,179.3 -9.1,179.5Z" fill="#1a1a1a" filter="url(#b1_8)" style="mix-blend-mode:plus-lighter"/>
<path d="M-10.6,164.0 -8.6,163.8 -6.5,163.6 -4.5,163.3 -2.5,163.1 -0.5,162.9 1.4,162.7 3.3,162.4 5.3,162.2 7.2,161.9 9.1,161.6 11.0,161.3 13.0,161.0 15.0,160.6 16.9,160.3 18.9,159.9 20.8,159.5 22.7,159.1 24.6,158.7 26.4,158.2 28.2,157.8 30.2,157.4 32.2,156.9 34.3,156.4 36.3,155.9 38.3,155.3 40.4,154.7 42.4,154.1 44.3,153.5 46.2,152.9 48.6,152.5 50.8,152.0 53.0,151.6 55.2,151.1 57.4,150.6 59.5,150.1 61.8,149.6 62.2,150.4 60.5,151.9 58.9,153.4 57.2,154.9 55.5,156.4 53.7,158.0 51.8,159.5 49.8,161.1 48.1,162.1 46.3,163.1 44.4,164.2 42.4,165.2 40.4,166.3 38.3,167.3 36.2,168.3 34.0,169.3 31.8,170.2 29.7,170.8 27.7,171.3 25.6,171.8 23.5,172.3 21.3,172.7 19.2,173.1 17.1,173.5 15.1,173.8 13.0,174.1 10.9,174.4 8.8,174.7 6.7,174.9 4.7,175.1 2.6,175.2 0.5,175.4 -1.5,175.5 -3.5,175.6 -5.5,175.7 -7.4,175.8 -9.4,176.0Z" fill="#333333" filter="url(#b1_8)" style="mix-blend-mode:plus-lighter"/>
<path d="M-10.2,168.5 -8.2,168.2 -6.2,167.8 -4.2,167.5 -2.2,167.2 -0.2,166.9 1.7,166.6 3.7,166.2 5.6,165.9 7.6,165.5 9.5,165.0 11.4,164.6 13.4,164.1 15.4,163.6 17.4,163.1 19.3,162.6 21.2,162.1 23.2,161.5 25.0,160.9 26.9,160.3 28.7,159.7 30.8,159.4 32.9,159.0 35.0,158.6 37.2,158.1 39.3,157.7 41.3,157.2 43.3,156.7 45.2,156.2 47.0,155.7 49.5,155.1 51.7,154.4 53.8,153.8 55.8,153.1 57.8,152.4 59.9,151.7 60.1,152.3 58.4,153.6 56.7,154.9 55.0,156.2 53.2,157.5 51.2,158.9 49.0,160.3 47.3,161.3 45.6,162.2 43.7,163.3 41.8,164.3 39.8,165.4 37.7,166.4 35.6,167.4 33.5,168.4 31.3,169.3 29.3,169.7 27.2,170.1 25.1,170.4 23.0,170.7 20.9,171.0 18.8,171.2 16.7,171.4 14.6,171.6 12.6,171.8 10.5,172.0 8.4,172.1 6.4,172.2 4.3,172.3 2.3,172.3 0.2,172.4 -1.8,172.4 -3.8,172.4 -5.8,172.4 -7.8,172.4 -9.8,172.5Z" fill="#242424" filter="url(#b1)" style="mix-blend-mode:plus-lighter"/>
<path d="M58.8,149.4 60.4,148.1 62.1,146.8 63.8,145.6 65.4,144.3 67.0,143.0 68.6,141.5 70.0,140.2 71.3,138.8 72.7,137.2 74.1,135.6 75.5,134.0 77.0,132.3 78.5,130.6 80.0,129.2 81.4,127.7 82.9,126.2 84.5,124.6 86.0,123.1 87.5,121.6 89.1,120.1 90.6,118.6 93.4,121.4 91.9,122.9 90.4,124.4 88.8,126.0 87.3,127.5 85.8,129.0 84.3,130.5 82.8,131.9 81.5,133.4 79.9,135.0 78.5,136.6 77.1,138.3 75.7,139.9 74.3,141.5 72.8,143.0 71.4,144.5 69.6,146.0 67.9,147.4 66.2,148.8 64.5,150.0 62.9,151.3 61.2,152.6Z" fill="#4c4c4c" filter="url(#b1_5)" style="mix-blend-mode:plus-lighter"/>
<ellipse cx="93" cy="119" rx="9" ry="4" transform="rotate(-30 93 119)" fill="#4c4c4c" filter="url(#b1_5)" style="mix-blend-mode:plus-lighter"/>
<ellipse cx="91" cy="119.5" rx="3" ry="1.5" transform="rotate(-30 91 119.5)" fill="#1a1a1a" filter="url(#b0_8)" style="mix-blend-mode:plus-lighter"/>
<path d="M97.7,107.5 99.6,106.7 101.4,105.9 103.2,105.1 105.2,104.3 107.1,103.5 109.1,102.7 111.2,101.9 113.3,101.2 115.7,100.6 118.0,100.1 120.3,99.6 122.6,99.2 124.7,98.9 126.8,98.5 128.9,98.1 131.0,97.7 133.1,97.3 135.3,96.8 137.4,96.4 139.5,96.0 141.7,95.5 143.8,95.1 146.2,106.9 144.0,107.3 141.9,107.7 139.7,108.2 137.6,108.6 135.5,109.0 133.3,109.5 131.1,109.9 128.9,110.3 126.7,110.7 124.6,111.0 122.5,111.4 120.5,111.8 118.6,112.2 116.7,112.8 115.1,113.3 113.4,113.9 111.6,114.6 109.8,115.3 108.0,116.1 106.1,116.9 104.2,117.8 102.3,118.5Z" fill="#1a1a1a" filter="url(#b2_5)" style="mix-blend-mode:plus-lighter"/>
<path d="M-12.7,183.2 -10.6,182.9 -8.5,182.6 -6.4,182.2 -4.3,181.9 -2.2,181.6 -0.1,181.4 1.9,181.1 3.8,180.8 5.7,180.5 7.6,180.2 9.4,179.9 11.1,179.6 12.7,179.2 14.3,178.9 15.8,178.5 17.5,178.3 19.2,178.1 21.0,177.7 22.7,177.4 24.5,177.0 26.3,176.6 28.1,176.1 30.0,175.6 31.9,175.1 33.9,174.5 36.0,173.9 38.1,173.4 40.1,172.9 42.0,172.4 43.8,172.0 45.6,171.5 47.5,170.9 49.5,170.4 51.5,169.8 53.6,169.2 55.8,168.6 58.0,168.1 60.3,167.5 62.7,167.0 65.1,166.6 67.6,166.3 69.7,165.9 71.7,165.6 73.7,165.3 75.7,165.0 77.7,164.8 79.7,164.7 81.8,164.5 83.8,164.4 85.9,164.3 88.0,164.2 90.2,164.1 92.4,164.1 94.7,164.1 97.1,164.0 99.6,164.0 101.4,163.9 103.3,163.9 105.2,163.8 107.1,163.8 109.1,163.8 111.1,163.8 113.2,163.8 115.3,163.8 117.4,163.8 119.5,163.8 121.6,163.8 123.8,163.8 125.9,163.9 128.1,163.9 130.3,163.9 132.4,163.9 134.6,163.9 136.7,164.0 138.8,164.0 140.9,164.0 143.0,164.0 145.0,164.0 145.0,184.0 142.9,184.0 140.8,184.0 138.7,184.0 136.5,184.0 134.4,183.9 132.2,183.9 130.1,183.9 127.9,183.9 125.7,183.9 123.6,183.8 121.5,183.8 119.4,183.8 117.3,183.8 115.2,183.8 113.2,183.8 111.2,183.8 109.3,183.8 107.4,183.8 105.6,183.8 103.8,183.9 102.1,183.9 100.4,184.0 98.0,184.2 95.7,184.4 93.5,184.5 91.4,184.7 89.4,184.9 87.5,185.1 85.6,185.3 83.8,185.5 82.1,185.8 80.4,186.1 78.8,186.3 77.2,186.6 75.6,187.0 74.0,187.3 72.4,187.7 70.7,188.4 69.1,189.1 67.5,189.8 65.9,190.6 64.3,191.4 62.7,192.3 61.0,193.2 59.3,194.2 57.5,195.1 55.7,196.1 53.8,197.1 51.8,198.2 49.9,199.1 48.1,200.0 46.4,200.9 44.7,201.8 43.0,202.7 41.2,203.7 39.4,204.7 37.5,205.7 35.5,206.7 33.4,207.7 31.2,208.6 29.0,209.6 26.6,210.6 24.2,211.5 22.0,212.0 19.8,212.5 17.6,212.9 15.4,213.4 13.2,213.7 11.0,214.1 8.9,214.4 6.7,214.7 4.6,215.0 2.6,215.3 0.5,215.6 -1.5,215.9 -3.4,216.2 -5.3,216.5 -7.3,216.8Z" fill="url(#g3)" filter="url(#b6)" style="mix-blend-mode:plus-lighter"/>
<path d="M-11.6,151.2 -9.6,150.7 -7.6,150.1 -5.5,149.6 -3.5,149.1 -1.5,148.6 0.5,148.1 2.5,147.6 4.5,147.2 6.5,146.7 8.4,146.2 10.3,145.7 12.2,145.2 14.0,144.6 15.8,144.1 17.6,143.5 19.3,142.8 21.0,142.2 22.6,141.5 24.4,140.7 26.1,139.8 27.9,138.9 29.6,138.0 31.3,137.0 32.9,136.0 34.6,135.0 36.2,133.9 37.8,132.8 39.4,131.7 41.0,130.6 42.7,129.4 44.3,128.1 45.9,126.9 47.6,125.6 49.3,124.3 50.7,123.1 52.2,121.9 53.6,120.7 55.1,119.4 56.5,118.0 58.0,116.6 59.5,115.2 61.0,113.7 62.5,112.3 64.0,110.8 65.5,109.3 67.0,107.9 68.5,106.4 70.0,104.9 71.5,103.5 73.1,102.1 74.6,100.7 76.1,99.4 77.9,97.9 79.6,96.5 81.3,95.1 83.0,93.7 84.8,92.3 86.4,91.0 88.1,89.7 89.8,88.4 91.5,87.1 93.2,85.9 94.9,84.7 96.6,83.5 98.3,82.3 100.0,81.1 101.7,80.0 103.6,78.8 105.5,77.6 107.5,76.4 109.4,75.2 111.4,74.1 113.3,73.0 115.2,71.9 117.1,70.9 119.0,69.9 120.8,69.0 122.6,68.0 124.2,67.2 125.8,66.4 127.4,65.6 129.8,64.4 132.1,63.4 134.2,62.6 136.1,61.9 137.8,61.2 139.5,60.7 141.1,60.1 142.8,59.4 147.2,70.6 145.3,71.3 143.5,72.0 141.8,72.6 140.2,73.1 138.5,73.8 136.8,74.5 134.9,75.3 132.6,76.4 131.2,77.1 129.7,77.9 128.1,78.7 126.4,79.6 124.6,80.5 122.8,81.5 121.0,82.4 119.2,83.5 117.3,84.5 115.5,85.6 113.6,86.7 111.8,87.8 110.0,88.9 108.3,90.0 106.7,91.1 105.1,92.2 103.5,93.3 101.9,94.4 100.3,95.6 98.7,96.8 97.1,98.0 95.5,99.2 93.8,100.5 92.2,101.7 90.6,103.0 88.9,104.4 87.3,105.8 85.6,107.2 83.9,108.6 82.5,109.8 81.1,111.0 79.7,112.3 78.3,113.6 76.8,115.0 75.4,116.4 73.9,117.9 72.4,119.4 70.9,120.8 69.4,122.3 67.8,123.8 66.3,125.3 64.7,126.8 63.1,128.2 61.6,129.7 60.0,131.1 58.3,132.4 56.7,133.7 55.0,135.1 53.2,136.4 51.5,137.7 49.8,139.0 48.1,140.3 46.3,141.5 44.6,142.7 42.8,143.9 41.0,145.1 39.2,146.3 37.3,147.4 35.4,148.5 33.5,149.5 31.5,150.5 29.5,151.5 27.4,152.5 25.5,153.3 23.5,154.1 21.5,154.8 19.5,155.5 17.5,156.1 15.5,156.7 13.5,157.3 11.4,157.8 9.4,158.3 7.4,158.8 5.3,159.3 3.3,159.8 1.3,160.3 -0.7,160.8 -2.6,161.2 -4.6,161.7 -6.5,162.2 -8.4,162.8Z" fill="#2b2b2b" filter="url(#b4_5)" style="mix-blend-mode:plus-lighter"/>
<path d="M64.8,86.4 66.6,85.4 68.4,84.3 70.2,83.2 72.0,82.1 73.8,81.0 75.6,79.9 77.4,78.8 79.3,77.7 81.1,76.6 82.9,75.5 84.8,74.4 86.6,73.3 88.3,72.2 90.1,71.1 91.8,70.1 93.6,69.1 95.2,68.1 96.9,67.1 98.5,66.2 100.1,65.3 102.2,64.1 104.4,62.9 106.4,61.8 108.4,60.7 110.4,59.6 112.3,58.6 114.2,57.7 116.0,56.7 117.7,55.9 119.4,55.0 121.1,54.2 122.7,53.4 124.2,52.7 125.8,51.9 128.3,50.8 130.6,49.8 132.7,48.9 134.6,48.2 136.4,47.5 138.0,46.9 139.6,46.4 141.4,45.7 148.6,64.3 146.7,65.0 144.9,65.7 143.2,66.3 141.6,66.9 140.0,67.5 138.3,68.2 136.4,69.0 134.2,70.1 132.9,70.7 131.4,71.4 129.9,72.2 128.3,72.9 126.7,73.7 125.0,74.6 123.3,75.5 121.6,76.4 119.8,77.3 117.9,78.3 116.0,79.3 114.0,80.4 112.0,81.5 109.9,82.7 108.5,83.5 106.9,84.4 105.3,85.3 103.7,86.3 102.1,87.3 100.4,88.3 98.6,89.3 96.9,90.4 95.1,91.5 93.3,92.5 91.5,93.6 89.7,94.8 87.8,95.9 86.0,97.0 84.2,98.1 82.4,99.2 80.5,100.3 78.7,101.4 76.9,102.5 75.2,103.6Z" fill="#121212" filter="url(#b8)" style="mix-blend-mode:plus-lighter"/>
</g>
<rect x="0" y="69.80" width="2.8" height="1.9" fill="#fff"/>
<rect x="130.60" y="69.80" width="2.8" height="1.9" fill="#fff"/>
<rect x="0" y="140.55" width="2.8" height="1.9" fill="#fff"/>
<rect x="130.60" y="140.55" width="2.8" height="1.9" fill="#fff"/>
<rect x="0" y="211.30" width="2.8" height="1.9" fill="#fff"/>
<rect x="130.60" y="211.30" width="2.8" height="1.9" fill="#fff"/>
</svg>
<svg x="640.10" y="23.00" width="132.90" height="283.00" viewBox="0 0 132.90 283.00" overflow="hidden">
<g filter="url(#cm)"><rect x="-1" y="-1" width="134.90" height="285.00" fill="#000"/>
<path d="M-12.0,165.1 -10.1,164.9 -8.3,164.8 -6.8,164.6 -5.2,164.5 -2.7,164.2 -1.2,164.0 0.7,163.7 2.5,163.5 4.5,163.3 6.4,163.0 8.3,162.7 10.2,162.5 12.0,162.2 13.7,161.8 15.2,161.5 16.9,161.1 18.7,160.7 20.5,160.2 22.3,159.7 24.0,159.2 25.8,158.7 27.4,158.2 29.0,157.6 30.5,157.1 31.8,156.6 33.5,155.9 35.0,155.2 36.4,154.6 37.6,153.9 38.8,153.3 39.9,152.6 41.1,151.9 42.1,151.1 43.2,150.4 44.2,149.5 45.3,148.5 46.5,147.4 47.8,146.2 49.2,144.8 50.6,143.3 52.0,141.9 52.9,140.9 53.9,139.8 55.0,138.4 56.2,136.9 57.6,135.2 59.1,133.3 60.8,131.4 62.7,129.3 64.7,127.2 67.1,125.0 69.4,123.0 71.7,121.2 74.0,119.5 76.3,117.9 78.5,116.5 80.8,115.1 83.2,113.7 85.7,112.4 88.1,111.2 90.5,110.2 92.7,109.2 94.9,108.3 96.9,107.5 99.0,106.7 101.0,105.9 103.3,105.1 105.8,104.2 108.5,103.4 111.5,102.5 114.6,101.7 116.8,101.2 118.9,100.7 121.1,100.2 123.3,99.8 125.5,99.3 127.8,98.9 130.0,98.5 132.2,98.0 134.4,97.6 136.6,97.2 138.7,96.8 140.7,96.4 148.5,135.7 146.3,136.1 144.1,136.5 141.8,136.9 139.6,137.4 137.4,137.8 135.2,138.2 133.1,138.6 131.1,139.0 129.2,139.4 127.4,139.8 125.8,140.1 124.4,140.4 122.1,141.1 120.2,141.6 118.5,142.2 116.9,142.7 115.2,143.3 113.5,144.0 111.6,144.7 109.7,145.5 108.0,146.2 106.4,146.9 105.0,147.5 103.7,148.1 102.4,148.8 101.2,149.5 99.8,150.3 98.5,151.2 97.2,152.0 96.0,152.9 94.8,153.9 93.7,154.9 92.5,156.0 91.8,156.7 90.9,157.6 89.9,158.9 88.7,160.3 87.5,161.9 86.0,163.6 84.5,165.5 82.8,167.5 81.1,169.3 79.5,171.3 78.1,173.2 76.5,175.2 74.8,177.2 73.0,179.2 71.0,181.2 68.9,183.3 66.7,185.2 64.5,187.1 62.3,188.8 60.1,190.4 57.8,191.9 55.4,193.4 53.1,194.8 50.6,196.1 48.2,197.4 45.9,198.3 43.6,199.1 41.3,199.9 38.9,200.7 36.6,201.4 34.2,202.1 31.8,202.7 29.5,203.4 27.1,203.9 24.8,204.5 22.2,205.0 19.7,205.5 17.1,205.9 14.7,206.3 12.3,206.6 10.1,206.9 8.0,207.2 6.1,207.4 4.3,207.6 2.7,207.8 -0.1,208.2 -2.6,208.4 -4.6,208.6 -6.3,208.8 -8.0,208.9Z" fill="#545454" filter="url(#b8)" style="mix-blend-mode:plus-lighter"/>
<path d="M-11.3,173.1 -9.4,172.9 -7.6,172.7 -6.1,172.6 -4.2,172.4 -1.7,172.1 -0.2,171.9 1.6,171.7 3.5,171.4 5.5,171.2 7.5,170.9 9.5,170.7 11.5,170.4 13.4,170.0 15.2,169.7 17.0,169.3 18.8,168.9 20.6,168.5 22.5,168.0 24.4,167.4 26.3,166.9 28.2,166.3 30.0,165.8 31.7,165.2 33.3,164.6 34.8,164.0 36.6,163.2 38.3,162.5 39.9,161.8 41.4,161.0 42.8,160.2 44.1,159.4 45.5,158.6 46.8,157.6 48.1,156.7 49.4,155.6 50.7,154.5 52.0,153.2 53.4,151.9 54.9,150.4 56.4,148.9 57.8,147.4 58.9,146.2 60.0,144.9 61.2,143.5 62.5,141.9 63.8,140.2 65.3,138.4 66.8,136.6 68.5,134.8 70.3,132.9 72.4,131.0 74.5,129.2 76.6,127.5 78.7,126.0 80.7,124.6 82.8,123.2 84.9,122.0 87.1,120.7 89.3,119.5 91.5,118.5 93.7,117.5 95.8,116.6 97.8,115.8 99.9,115.0 101.9,114.2 103.9,113.4 106.0,112.6 108.3,111.8 110.8,111.0 113.6,110.2 116.6,109.4 118.6,108.9 120.6,108.5 122.7,108.0 124.8,107.6 127.0,107.2 129.3,106.7 131.5,106.3 133.7,105.9 135.9,105.5 138.1,105.1 140.2,104.7 142.3,104.3 147.7,131.7 145.6,132.2 143.3,132.6 141.1,133.0 138.9,133.4 136.7,133.8 134.5,134.3 132.4,134.7 130.3,135.1 128.4,135.5 126.6,135.8 124.9,136.2 123.4,136.6 121.0,137.2 119.0,137.8 117.2,138.4 115.5,139.0 113.8,139.6 112.0,140.3 110.1,141.0 108.2,141.8 106.5,142.5 104.8,143.2 103.3,143.9 101.9,144.6 100.5,145.3 99.1,146.0 97.7,146.9 96.3,147.9 94.9,148.8 93.6,149.8 92.3,150.8 91.0,151.9 89.7,153.1 88.9,153.9 87.9,155.0 86.8,156.3 85.6,157.8 84.3,159.4 82.9,161.1 81.5,162.9 79.8,164.8 78.2,166.6 76.5,168.4 74.8,170.1 73.1,171.8 71.3,173.5 69.4,175.3 67.5,177.0 65.4,178.7 63.2,180.4 61.0,181.9 58.9,183.2 56.7,184.5 54.5,185.7 52.2,186.9 50.0,188.0 47.6,189.0 45.2,190.0 43.1,190.8 41.0,191.6 38.8,192.3 36.5,193.0 34.3,193.7 32.0,194.4 29.8,195.0 27.5,195.6 25.3,196.1 23.0,196.7 20.7,197.2 18.3,197.6 15.9,198.0 13.5,198.4 11.3,198.7 9.1,199.0 7.0,199.2 5.1,199.5 3.3,199.7 1.7,199.9 -1.0,200.2 -3.4,200.5 -5.3,200.6 -7.0,200.8 -8.7,200.9Z" fill="#424242" filter="url(#b1_4)" style="mix-blend-mode:plus-lighter"/>
<path d="M-10.5,181.0 -8.7,180.9 -7.0,180.7 -5.3,180.6 -3.3,180.4 -0.7,180.0 0.8,179.8 2.6,179.6 4.5,179.4 6.5,179.1 8.6,178.9 10.7,178.6 12.7,178.3 14.8,177.9 16.8,177.5 18.7,177.1 20.6,176.7 22.6,176.3 24.6,175.8 26.7,175.3 28.7,174.8 30.7,174.3 32.6,173.7 34.5,173.1 36.3,172.5 38.0,171.9 40.0,171.2 42.0,170.5 43.8,169.7 45.6,169.0 47.3,168.2 49.0,167.3 50.7,166.4 52.4,165.3 54.0,164.3 55.7,163.1 57.3,161.8 58.9,160.5 60.6,159.1 62.2,157.6 63.8,156.1 65.5,154.6 66.8,153.2 68.1,151.7 69.5,150.2 70.8,148.6 72.2,147.0 73.6,145.4 75.0,143.8 76.5,142.3 77.9,140.8 79.7,139.1 81.4,137.5 83.1,136.1 84.9,134.7 86.6,133.4 88.4,132.2 90.2,131.0 92.1,129.9 94.0,128.9 95.9,128.0 97.8,127.1 99.8,126.3 101.7,125.5 103.7,124.7 105.7,124.0 107.6,123.2 109.6,122.5 111.7,121.8 113.9,121.1 116.4,120.3 119.1,119.6 120.9,119.2 122.8,118.7 124.8,118.3 126.9,117.9 129.0,117.5 131.2,117.1 133.4,116.6 135.7,116.2 137.9,115.8 140.1,115.4 142.2,115.0 144.3,114.6 145.7,121.4 143.6,121.9 141.4,122.3 139.2,122.7 136.9,123.1 134.7,123.5 132.5,123.9 130.4,124.4 128.3,124.8 126.3,125.2 124.3,125.6 122.5,126.0 120.9,126.4 118.2,127.1 115.9,127.7 113.9,128.4 111.9,129.1 110.1,129.8 108.2,130.5 106.3,131.3 104.3,132.0 102.4,132.8 100.6,133.6 98.9,134.3 97.2,135.2 95.5,136.0 93.8,137.0 92.1,138.0 90.4,139.0 88.7,140.1 87.0,141.2 85.4,142.4 83.8,143.7 82.1,145.2 80.9,146.4 79.7,147.9 78.5,149.4 77.2,151.0 76.0,152.7 74.7,154.4 73.3,156.1 72.0,157.8 70.5,159.4 69.0,161.1 67.5,162.9 66.0,164.6 64.4,166.3 62.8,167.9 61.2,169.6 59.4,171.2 57.6,172.7 55.8,174.1 54.0,175.4 52.2,176.6 50.3,177.8 48.3,178.9 46.3,180.0 44.2,181.1 42.0,182.1 40.1,182.9 38.2,183.7 36.1,184.4 34.1,185.1 31.9,185.8 29.8,186.5 27.7,187.1 25.5,187.7 23.4,188.3 21.3,188.9 19.1,189.3 16.9,189.7 14.6,190.1 12.4,190.4 10.2,190.8 8.0,191.0 6.0,191.3 4.1,191.5 2.3,191.7 0.7,192.0 -2.0,192.3 -4.1,192.5 -6.0,192.7 -7.6,192.8 -9.5,193.0Z" fill="#4c4c4c" filter="url(#b1_8)" style="mix-blend-mode:plus-lighter"/>
<path d="M-10.2,181.0 -8.2,180.9 -6.1,180.9 -4.1,180.8 -2.1,180.8 -0.1,180.8 1.8,180.7 3.7,180.6 5.6,180.5 7.4,180.3 9.3,180.1 11.1,179.8 13.1,179.5 15.0,179.1 17.0,178.7 18.9,178.3 20.9,177.8 22.9,177.3 24.8,176.8 26.7,176.3 28.6,175.7 30.8,175.2 32.9,174.7 35.0,174.1 37.0,173.6 39.0,173.0 41.0,172.3 43.0,171.7 44.8,171.0 46.6,170.3 48.7,169.7 50.6,168.9 52.5,168.1 54.3,167.3 56.2,166.4 58.0,165.5 59.9,164.6 61.8,163.7 62.2,164.3 60.6,165.7 59.1,167.1 57.7,168.5 56.2,170.0 54.6,171.4 53.0,172.9 51.2,174.3 49.4,175.7 47.5,176.7 45.6,177.8 43.7,178.8 41.7,179.8 39.7,180.7 37.6,181.6 35.6,182.5 33.5,183.4 31.4,184.3 29.4,184.9 27.4,185.6 25.4,186.2 23.4,186.9 21.3,187.5 19.2,188.0 17.1,188.6 15.0,189.1 12.9,189.5 10.7,189.9 8.6,190.2 6.4,190.4 4.3,190.6 2.2,190.7 0.1,190.7 -1.9,190.8 -3.9,190.8 -5.9,190.9 -7.8,190.9 -9.8,191.0Z" fill="#1a1a1a" filter="url(#b1_2)" style="mix-blend-mode:plus-lighter"/>
<ellipse cx="92" cy="134" rx="6" ry="2.5" transform="rotate(-30 92 134)" fill="#1a1a1a" filter="url(#b1)" style="mix-blend-mode:plus-lighter"/>
<ellipse cx="133" cy="120" rx="5" ry="2" transform="rotate(-10 133 120)" fill="#1a1a1a" filter="url(#b1)" style="mix-blend-mode:plus-lighter"/>
<path d="M-12.1,199.1 -10.0,198.9 -7.8,198.6 -5.7,198.4 -3.5,198.2 -1.5,198.0 0.6,197.8 2.5,197.6 4.5,197.4 6.3,197.2 8.1,196.9 9.8,196.7 11.5,196.4 13.0,196.1 14.5,195.8 15.8,195.5 17.4,195.3 18.9,194.9 20.5,194.6 22.1,194.1 23.8,193.6 25.5,193.0 27.3,192.4 29.1,191.8 31.0,191.1 33.0,190.3 35.1,189.6 37.2,188.8 39.3,188.1 41.1,187.5 42.7,186.8 44.5,186.1 46.3,185.3 48.2,184.5 50.2,183.7 52.3,182.8 54.5,182.0 56.8,181.1 59.2,180.3 61.7,179.6 64.3,178.9 67.0,178.3 69.3,177.9 71.5,177.5 73.8,177.2 75.9,177.0 78.1,176.8 80.2,176.6 82.2,176.5 84.3,176.5 86.3,176.4 88.4,176.4 90.5,176.3 92.6,176.3 94.7,176.2 97.0,176.1 99.3,176.0 101.0,175.9 102.8,175.8 104.7,175.7 106.6,175.7 108.6,175.6 110.6,175.5 112.6,175.4 114.6,175.3 116.7,175.2 118.8,175.1 121.0,175.0 123.1,174.9 125.3,174.8 127.4,174.7 129.6,174.6 131.7,174.6 133.9,174.5 136.0,174.4 138.1,174.3 140.2,174.2 142.3,174.1 144.4,174.0 145.6,202.0 143.6,202.1 141.5,202.2 139.3,202.3 137.2,202.4 135.1,202.4 132.9,202.5 130.8,202.6 128.6,202.7 126.4,202.8 124.3,202.9 122.2,203.0 120.0,203.1 117.9,203.2 115.9,203.3 113.8,203.3 111.8,203.4 109.9,203.5 107.9,203.6 106.1,203.7 104.2,203.8 102.5,203.9 100.7,204.0 98.2,204.1 95.7,204.2 93.3,204.3 91.1,204.3 89.0,204.4 87.0,204.4 85.1,204.5 83.4,204.5 81.7,204.6 80.1,204.7 78.6,204.8 77.1,205.0 75.7,205.2 74.4,205.4 73.0,205.7 71.5,206.1 70.1,206.6 68.6,207.2 67.1,207.8 65.6,208.5 64.0,209.3 62.3,210.2 60.6,211.0 58.7,212.0 56.9,212.9 54.9,213.9 52.8,214.9 50.7,215.9 49.0,216.8 47.3,217.6 45.7,218.5 43.9,219.5 42.1,220.5 40.2,221.5 38.3,222.5 36.2,223.6 34.0,224.6 31.7,225.6 29.3,226.6 26.8,227.6 24.2,228.5 21.8,229.0 19.5,229.5 17.2,229.9 14.9,230.3 12.6,230.6 10.4,230.9 8.2,231.2 6.0,231.4 3.9,231.6 1.8,231.8 -0.2,232.0 -2.2,232.2 -4.1,232.4 -6.0,232.6 -7.9,232.9Z" fill="url(#g4)" filter="url(#b8)" style="mix-blend-mode:plus-lighter"/>
<ellipse cx="112" cy="170" rx="26" ry="14" transform="rotate(0 112 170)" fill="#0f0f0f" filter="url(#b8)" style="mix-blend-mode:plus-lighter"/>
<path d="M-12.8,156.5 -10.8,155.8 -8.8,155.0 -6.8,154.3 -4.8,153.6 -2.8,152.9 -0.8,152.2 1.2,151.5 3.1,150.8 5.1,150.1 7.1,149.4 9.0,148.7 10.9,148.0 12.8,147.3 14.7,146.6 16.5,145.8 18.3,145.1 20.1,144.4 21.8,143.6 23.8,142.8 25.7,141.9 27.6,141.1 29.5,140.2 31.3,139.4 33.2,138.5 35.0,137.7 36.7,136.8 38.5,135.9 40.3,135.0 42.1,134.1 43.8,133.1 45.6,132.1 47.4,131.2 49.2,130.1 51.0,129.1 52.6,128.1 54.2,127.2 55.8,126.2 57.5,125.1 59.1,124.0 60.8,123.0 62.5,121.8 64.1,120.7 65.8,119.6 67.5,118.4 69.1,117.3 70.8,116.1 72.5,115.0 74.1,113.8 75.7,112.7 77.3,111.6 78.9,110.5 80.4,109.4 82.1,108.2 83.8,107.1 85.3,105.9 86.9,104.7 88.4,103.5 90.0,102.3 91.5,101.1 93.1,99.9 94.7,98.6 96.4,97.4 98.1,96.1 100.0,94.9 101.9,93.6 103.9,92.4 106.0,91.1 107.7,90.1 109.5,89.1 111.2,88.2 113.1,87.2 114.9,86.3 116.8,85.4 118.7,84.5 120.6,83.5 122.5,82.6 124.5,81.7 126.4,80.8 128.3,80.0 130.3,79.1 132.2,78.2 134.1,77.3 136.0,76.4 137.9,75.5 139.7,74.7 141.5,73.8 148.5,88.2 146.6,89.1 144.7,90.0 142.8,90.9 140.8,91.8 138.9,92.7 136.9,93.6 135.0,94.5 133.1,95.4 131.2,96.3 129.3,97.1 127.5,98.0 125.6,98.9 123.8,99.7 122.1,100.6 120.4,101.5 118.7,102.3 117.1,103.2 115.5,104.1 114.0,104.9 112.2,106.0 110.5,107.1 108.9,108.1 107.4,109.2 105.8,110.3 104.3,111.4 102.8,112.6 101.3,113.7 99.8,114.9 98.2,116.1 96.6,117.4 95.0,118.6 93.3,119.9 91.4,121.2 89.6,122.6 88.0,123.6 86.5,124.7 84.9,125.8 83.2,127.0 81.6,128.1 79.9,129.3 78.2,130.4 76.5,131.6 74.8,132.8 73.1,134.0 71.3,135.1 69.6,136.3 67.8,137.5 66.1,138.6 64.3,139.7 62.5,140.8 60.8,141.9 59.0,142.9 57.1,144.0 55.2,145.1 53.3,146.2 51.4,147.2 49.5,148.2 47.7,149.2 45.8,150.1 43.9,151.1 42.0,152.0 40.1,153.0 38.1,153.9 36.2,154.8 34.2,155.7 32.2,156.6 30.2,157.5 28.2,158.4 26.3,159.2 24.3,159.9 22.4,160.7 20.4,161.5 18.5,162.2 16.5,163.0 14.5,163.7 12.5,164.4 10.5,165.2 8.5,165.9 6.5,166.6 4.5,167.3 2.5,168.0 0.6,168.7 -1.4,169.4 -3.4,170.1 -5.3,170.8 -7.2,171.5Z" fill="#2e2e2e" filter="url(#b4_5)" style="mix-blend-mode:plus-lighter"/>
<path d="M74.4,91.7 76.1,90.6 77.7,89.5 79.3,88.4 80.9,87.3 82.5,86.2 84.1,85.1 85.7,83.9 87.4,82.8 89.0,81.6 90.7,80.5 92.4,79.3 94.1,78.2 95.8,77.0 97.6,75.9 99.4,74.8 101.2,73.6 103.1,72.5 105.0,71.4 106.8,70.3 108.6,69.3 110.5,68.3 112.3,67.3 114.2,66.3 116.1,65.3 118.0,64.3 119.9,63.4 121.8,62.4 123.7,61.5 125.6,60.5 127.5,59.6 129.4,58.6 131.2,57.7 133.1,56.8 135.0,55.9 136.8,55.0 138.6,54.0 140.4,53.1 149.6,70.9 147.7,71.9 145.8,72.8 143.9,73.8 142.0,74.7 140.1,75.7 138.2,76.6 136.3,77.5 134.4,78.4 132.6,79.4 130.7,80.3 128.9,81.2 127.1,82.1 125.3,83.1 123.5,84.0 121.7,84.9 120.0,85.8 118.3,86.8 116.7,87.7 115.0,88.6 113.4,89.6 111.7,90.6 110.0,91.7 108.4,92.7 106.8,93.8 105.2,94.8 103.6,95.9 102.0,97.0 100.4,98.1 98.8,99.2 97.1,100.3 95.5,101.5 93.9,102.6 92.3,103.7 90.6,104.9 88.9,106.0 87.3,107.2 85.6,108.3Z" fill="#121212" filter="url(#b8)" style="mix-blend-mode:plus-lighter"/>
</g>
<rect x="0" y="69.80" width="2.8" height="1.9" fill="#fff"/>
<rect x="130.10" y="69.80" width="2.8" height="1.9" fill="#fff"/>
<rect x="0" y="140.55" width="2.8" height="1.9" fill="#fff"/>
<rect x="130.10" y="140.55" width="2.8" height="1.9" fill="#fff"/>
<rect x="0" y="211.30" width="2.8" height="1.9" fill="#fff"/>
<rect x="130.10" y="211.30" width="2.8" height="1.9" fill="#fff"/>
</svg>
<svg x="781.30" y="23.00" width="133.40" height="283.00" viewBox="0 0 133.40 283.00" overflow="hidden">
<g filter="url(#cm)"><rect x="-1" y="-1" width="135.40" height="285.00" fill="#000"/>
<path d="M-12.2,172.1 -10.2,171.9 -8.5,171.8 -7.0,171.7 -5.4,171.5 -3.0,171.2 -1.3,171.0 0.6,170.8 2.5,170.5 4.4,170.3 6.3,170.1 8.1,169.8 9.9,169.6 11.5,169.3 12.9,169.0 14.3,168.7 15.7,168.3 17.3,167.9 19.0,167.4 20.7,166.8 22.4,166.2 24.0,165.6 25.6,165.0 27.2,164.4 28.7,163.8 29.9,163.2 31.4,162.5 32.7,161.8 34.1,161.1 35.4,160.3 36.8,159.4 38.2,158.5 39.6,157.4 41.1,156.5 42.5,155.4 43.8,154.4 45.1,153.4 46.4,152.3 47.8,151.0 49.3,149.7 50.7,148.4 52.0,147.2 53.3,145.9 54.7,144.5 56.2,142.9 57.8,141.2 59.6,139.5 61.3,137.8 62.9,136.2 64.6,134.6 66.5,132.7 68.7,130.7 71.4,128.4 74.4,126.2 77.4,124.3 80.4,122.6 83.2,121.2 85.9,119.9 88.5,118.8 90.9,117.8 93.0,116.9 95.1,116.1 97.4,115.3 99.9,114.4 102.6,113.6 105.5,112.7 108.8,111.8 110.6,111.3 112.5,110.9 114.4,110.4 116.4,109.9 118.4,109.4 120.5,109.0 122.7,108.5 124.8,108.0 127.0,107.5 129.2,107.0 131.3,106.5 133.4,106.0 135.5,105.6 137.6,105.1 139.6,104.6 150.4,151.4 148.4,151.9 146.2,152.3 144.1,152.8 141.9,153.3 139.7,153.8 137.6,154.3 135.4,154.8 133.3,155.3 131.3,155.7 129.3,156.2 127.5,156.6 125.7,157.1 124.0,157.5 122.5,157.8 121.2,158.2 118.6,158.9 116.5,159.5 114.9,160.0 113.5,160.5 112.2,161.0 110.7,161.6 109.1,162.2 107.1,163.0 105.5,163.7 104.2,164.3 103.1,164.9 102.3,165.4 101.6,165.8 101.0,166.2 100.4,166.8 99.4,167.7 98.1,168.9 96.5,170.5 94.7,172.2 93.4,173.5 92.1,174.8 90.6,176.3 89.0,178.0 87.2,179.8 85.3,181.7 83.3,183.6 81.5,185.3 79.7,186.9 77.8,188.6 75.8,190.3 73.6,192.0 71.3,193.8 68.9,195.5 67.0,196.9 65.0,198.3 62.9,199.7 60.6,201.1 58.2,202.6 55.6,204.0 52.9,205.4 50.1,206.8 47.7,207.8 45.4,208.8 43.1,209.7 40.7,210.6 38.3,211.5 35.8,212.4 33.3,213.2 30.8,213.9 28.3,214.6 25.7,215.3 23.0,215.9 20.2,216.5 17.5,217.0 14.9,217.3 12.5,217.7 10.2,218.0 8.0,218.2 6.1,218.4 4.5,218.6 3.0,218.8 0.1,219.2 -2.4,219.4 -4.5,219.6 -6.1,219.7 -7.8,219.9Z" fill="#545454" filter="url(#b8)" style="mix-blend-mode:plus-lighter"/>
<path d="M-11.4,181.1 -9.5,180.9 -7.7,180.7 -6.2,180.6 -4.4,180.4 -1.9,180.1 -0.2,179.9 1.6,179.7 3.5,179.5 5.5,179.2 7.4,179.0 9.4,178.7 11.3,178.4 13.1,178.1 14.8,177.8 16.4,177.4 18.1,177.0 19.9,176.5 21.7,175.9 23.5,175.4 25.3,174.7 27.1,174.1 28.9,173.4 30.6,172.7 32.2,172.0 33.7,171.4 35.4,170.6 37.0,169.7 38.6,168.8 40.1,167.9 41.7,167.0 43.2,165.9 44.8,164.9 46.3,163.8 47.9,162.6 49.4,161.5 50.8,160.3 52.3,159.1 53.8,157.8 55.3,156.4 56.8,155.0 58.2,153.7 59.6,152.3 61.1,150.8 62.6,149.2 64.2,147.5 65.9,145.8 67.5,144.3 69.2,142.6 70.9,141.0 72.6,139.3 74.7,137.4 77.0,135.5 79.5,133.6 82.1,132.0 84.6,130.5 87.1,129.3 89.6,128.1 92.0,127.1 94.3,126.1 96.3,125.3 98.3,124.5 100.4,123.8 102.7,123.0 105.2,122.2 108.0,121.4 111.1,120.5 112.8,120.1 114.6,119.6 116.5,119.1 118.5,118.7 120.5,118.2 122.6,117.7 124.7,117.2 126.8,116.8 129.0,116.3 131.1,115.8 133.3,115.3 135.4,114.8 137.5,114.3 139.6,113.9 141.6,113.4 148.4,142.6 146.3,143.1 144.2,143.6 142.1,144.1 139.9,144.5 137.7,145.0 135.6,145.5 133.4,146.0 131.3,146.5 129.3,147.0 127.3,147.4 125.4,147.9 123.6,148.3 121.9,148.7 120.3,149.1 118.9,149.5 116.1,150.2 113.9,150.9 112.0,151.5 110.5,152.0 109.0,152.6 107.4,153.2 105.7,153.9 103.6,154.7 101.8,155.5 100.2,156.2 98.8,157.0 97.6,157.7 96.5,158.4 95.5,159.1 94.4,160.0 93.2,161.1 91.8,162.5 90.2,164.1 88.5,165.7 87.1,167.1 85.7,168.5 84.2,170.1 82.6,171.7 80.9,173.5 79.0,175.3 77.2,177.0 75.4,178.6 73.7,180.2 71.9,181.8 70.0,183.4 68.0,185.0 65.9,186.6 63.7,188.2 61.8,189.5 60.0,190.8 58.0,192.1 55.9,193.5 53.7,194.8 51.3,196.1 48.8,197.4 46.3,198.6 44.2,199.6 42.0,200.5 39.8,201.3 37.6,202.2 35.3,203.0 33.0,203.8 30.6,204.6 28.3,205.3 26.0,205.9 23.6,206.6 21.1,207.1 18.6,207.6 16.1,208.1 13.6,208.4 11.3,208.7 9.1,209.0 7.0,209.3 5.1,209.5 3.4,209.7 1.9,209.9 -0.9,210.2 -3.3,210.5 -5.2,210.6 -6.9,210.8 -8.6,210.9Z" fill="#454545" filter="url(#b1_4)" style="mix-blend-mode:plus-lighter"/>
<path d="M-10.6,189.8 -8.7,189.7 -7.0,189.5 -5.3,189.4 -3.3,189.2 -0.8,188.8 0.8,188.6 2.6,188.4 4.5,188.2 6.5,188.0 8.6,187.7 10.6,187.4 12.7,187.1 14.7,186.8 16.7,186.4 18.5,186.0 20.4,185.5 22.3,184.9 24.3,184.3 26.3,183.7 28.3,183.0 30.2,182.3 32.1,181.6 34.0,180.9 35.7,180.1 37.4,179.4 39.4,178.4 41.2,177.5 43.0,176.5 44.7,175.4 46.4,174.3 48.1,173.2 49.8,172.1 51.4,171.0 53.2,169.7 54.8,168.4 56.4,167.1 58.0,165.7 59.6,164.3 61.2,162.9 62.8,161.5 64.3,160.0 65.9,158.5 67.4,156.9 69.0,155.3 70.5,153.7 72.1,152.1 73.7,150.6 75.4,148.9 77.0,147.3 78.7,145.7 80.5,144.0 82.4,142.4 84.5,140.9 86.6,139.5 88.8,138.3 91.0,137.2 93.2,136.2 95.4,135.2 97.7,134.3 99.6,133.5 101.4,132.8 103.4,132.0 105.4,131.3 107.7,130.6 110.4,129.8 113.4,129.0 115.0,128.6 116.8,128.1 118.6,127.7 120.5,127.2 122.5,126.8 124.5,126.3 126.6,125.8 128.8,125.3 130.9,124.8 133.1,124.4 135.2,123.9 137.4,123.4 139.5,122.9 141.6,122.4 143.6,122.0 146.4,134.0 144.4,134.5 142.3,135.0 140.1,135.5 138.0,136.0 135.8,136.5 133.6,136.9 131.5,137.4 129.4,137.9 127.3,138.4 125.3,138.9 123.4,139.3 121.5,139.8 119.7,140.2 118.1,140.6 116.6,141.0 113.7,141.8 111.3,142.5 109.3,143.1 107.5,143.7 105.8,144.4 104.1,145.0 102.3,145.7 100.2,146.6 98.2,147.5 96.4,148.3 94.7,149.2 93.1,150.1 91.5,151.1 90.1,152.2 88.6,153.4 87.2,154.7 85.7,156.2 84.0,157.8 82.3,159.4 80.9,160.9 79.4,162.4 77.9,163.9 76.3,165.6 74.6,167.2 72.9,168.9 71.2,170.5 69.5,172.1 67.9,173.6 66.1,175.1 64.4,176.6 62.5,178.1 60.6,179.6 58.6,181.0 56.8,182.3 55.0,183.5 53.2,184.7 51.3,186.0 49.2,187.2 47.1,188.4 44.9,189.5 42.6,190.6 40.7,191.5 38.7,192.3 36.6,193.1 34.5,193.9 32.4,194.7 30.2,195.5 28.0,196.2 25.8,196.8 23.7,197.5 21.5,198.0 19.2,198.5 17.0,199.0 14.7,199.4 12.4,199.7 10.2,200.0 8.0,200.3 6.0,200.5 4.1,200.8 2.3,201.0 0.8,201.2 -1.9,201.5 -4.1,201.7 -6.0,201.9 -7.6,202.0 -9.4,202.2Z" fill="#4c4c4c" filter="url(#b1_5)" style="mix-blend-mode:plus-lighter"/>
<path d="M-10.3,192.6 -8.5,192.4 -6.8,192.3 -5.0,192.2 -3.0,192.0 -0.4,191.6 1.2,191.4 3.0,191.2 4.9,191.0 6.9,190.8 8.9,190.5 11.0,190.2 13.1,189.9 15.2,189.5 17.2,189.1 19.2,188.7 21.1,188.2 23.1,187.6 25.1,187.0 27.2,186.4 29.2,185.7 31.2,184.9 33.1,184.2 35.0,183.4 36.9,182.7 38.6,181.9 40.6,180.9 42.6,179.9 44.4,178.9 46.2,177.8 48.0,176.7 49.7,175.5 51.4,174.4 53.0,173.2 54.8,171.9 56.6,170.6 58.2,169.2 59.9,167.8 61.5,166.4 63.1,165.0 64.7,163.5 66.3,162.0 67.8,160.5 69.4,158.9 71.0,157.3 72.5,155.6 74.1,154.1 75.6,152.6 77.3,150.9 79.0,149.3 80.6,147.7 82.3,146.1 84.1,144.6 86.1,143.2 88.1,141.9 90.1,140.7 92.2,139.7 94.3,138.7 96.5,137.8 98.7,136.9 100.6,136.1 102.4,135.4 104.3,134.7 106.3,134.0 108.5,133.3 111.1,132.5 114.1,131.7 115.7,131.3 117.4,130.9 119.2,130.4 121.1,130.0 123.1,129.5 125.2,129.0 127.2,128.6 129.4,128.1 131.5,127.6 133.7,127.1 135.9,126.6 138.0,126.1 140.1,125.6 142.2,125.2 144.2,124.7 145.8,131.3 143.7,131.8 141.6,132.3 139.5,132.7 137.4,133.2 135.2,133.7 133.0,134.2 130.9,134.7 128.8,135.2 126.7,135.7 124.7,136.1 122.7,136.6 120.8,137.0 119.1,137.5 117.4,137.9 115.9,138.3 113.0,139.1 110.5,139.8 108.4,140.5 106.6,141.1 104.8,141.7 103.1,142.4 101.3,143.1 99.1,144.0 97.1,144.9 95.2,145.8 93.4,146.7 91.6,147.7 89.9,148.8 88.3,150.0 86.8,151.3 85.3,152.7 83.7,154.2 82.1,155.8 80.4,157.4 78.9,158.9 77.4,160.4 75.9,162.0 74.3,163.6 72.7,165.3 71.0,166.9 69.3,168.5 67.6,170.0 66.0,171.5 64.3,173.0 62.6,174.4 60.8,175.9 58.9,177.4 57.0,178.8 55.2,180.0 53.5,181.2 51.7,182.4 49.8,183.6 47.8,184.8 45.8,185.9 43.7,187.0 41.4,188.1 39.6,188.9 37.6,189.7 35.6,190.5 33.5,191.3 31.4,192.1 29.3,192.8 27.2,193.5 25.0,194.2 22.9,194.8 20.8,195.3 18.7,195.8 16.5,196.2 14.2,196.6 12.0,196.9 9.8,197.2 7.7,197.5 5.7,197.8 3.8,198.0 2.0,198.2 0.4,198.4 -2.3,198.7 -4.4,198.9 -6.2,199.1 -7.9,199.2 -9.7,199.4Z" fill="#1f1f1f" filter="url(#b0_9)" style="mix-blend-mode:plus-lighter"/>
<path d="M-13.0,212.3 -10.9,211.9 -8.7,211.5 -6.6,211.1 -4.5,210.8 -2.4,210.4 -0.4,210.1 1.6,209.8 3.6,209.4 5.4,209.1 7.2,208.8 9.0,208.4 10.6,208.0 12.2,207.6 13.6,207.2 15.0,206.8 16.7,206.3 18.3,205.8 20.0,205.2 21.6,204.5 23.3,203.9 25.0,203.1 26.7,202.3 28.4,201.5 30.2,200.6 32.0,199.7 33.9,198.8 35.9,197.8 37.8,196.8 39.5,196.0 41.2,195.1 42.9,194.2 44.5,193.3 46.2,192.4 47.9,191.5 49.6,190.5 51.4,189.6 53.1,188.6 54.9,187.5 56.8,186.5 58.7,185.4 60.6,184.2 62.6,183.1 64.0,182.2 65.4,181.3 66.8,180.3 68.3,179.3 69.8,178.2 71.4,177.0 73.1,175.8 74.8,174.6 76.6,173.3 78.5,172.0 80.5,170.7 82.6,169.4 84.7,168.1 87.0,166.8 89.3,165.6 91.8,164.4 94.3,163.2 96.3,162.4 98.2,161.6 100.2,160.8 102.2,160.1 104.3,159.4 106.3,158.7 108.3,158.0 110.4,157.4 112.5,156.8 114.6,156.1 116.7,155.5 118.8,154.9 120.9,154.3 122.9,153.8 125.0,153.2 127.1,152.6 129.1,152.0 131.1,151.5 133.2,150.9 135.1,150.3 137.1,149.8 139.0,149.2 140.9,148.6 149.1,175.4 147.1,176.0 145.0,176.6 142.9,177.2 140.8,177.8 138.7,178.4 136.6,179.0 134.6,179.6 132.5,180.2 130.4,180.7 128.4,181.3 126.4,181.9 124.4,182.4 122.5,183.0 120.5,183.6 118.7,184.1 116.8,184.7 115.0,185.3 113.3,185.9 111.6,186.5 110.0,187.0 108.5,187.6 107.0,188.2 105.7,188.8 103.9,189.6 102.2,190.5 100.5,191.4 98.9,192.3 97.3,193.3 95.7,194.3 94.1,195.3 92.6,196.4 91.0,197.5 89.4,198.6 87.8,199.7 86.2,200.9 84.5,202.1 82.8,203.3 81.0,204.5 79.2,205.7 77.4,206.9 75.5,208.2 73.6,209.4 71.8,210.6 70.0,211.8 68.3,213.0 66.5,214.2 64.7,215.3 63.0,216.5 61.2,217.6 59.4,218.7 57.7,219.9 55.8,221.0 54.0,222.1 52.2,223.2 50.3,224.3 48.5,225.4 46.6,226.5 44.7,227.6 42.8,228.7 40.8,229.8 38.8,230.9 36.7,232.1 34.5,233.2 32.3,234.2 29.9,235.3 27.5,236.3 25.0,237.2 22.7,237.9 20.3,238.6 18.0,239.1 15.8,239.7 13.5,240.1 11.3,240.6 9.1,241.0 7.0,241.3 4.8,241.7 2.8,242.0 0.7,242.3 -1.3,242.7 -3.2,243.0 -5.1,243.3 -7.0,243.7Z" fill="url(#g5)" filter="url(#b7)" style="mix-blend-mode:plus-lighter"/>
<path d="M-11.5,170.1 -9.5,169.7 -7.4,169.4 -5.3,169.0 -3.2,168.6 -1.1,168.3 1.0,167.9 3.1,167.5 5.1,167.2 7.2,166.8 9.2,166.5 11.3,166.1 13.2,165.8 15.2,165.4 17.1,165.0 19.0,164.6 20.8,164.2 22.6,163.8 24.3,163.3 26.0,162.9 27.6,162.4 29.6,161.7 31.6,161.0 33.5,160.4 35.3,159.7 37.1,159.0 38.9,158.3 40.6,157.5 42.2,156.8 43.9,156.0 45.5,155.1 47.2,154.3 48.8,153.4 50.5,152.4 52.2,151.4 53.9,150.4 55.7,149.3 57.2,148.3 58.6,147.3 60.1,146.3 61.6,145.1 63.2,144.0 64.7,142.8 66.3,141.6 67.8,140.3 69.4,139.0 71.0,137.7 72.6,136.4 74.1,135.0 75.7,133.7 77.3,132.4 78.8,131.0 80.3,129.7 81.9,128.4 83.4,127.1 84.8,125.9 86.5,124.5 88.0,123.2 89.5,121.8 91.0,120.4 92.5,119.0 94.0,117.6 95.5,116.1 97.0,114.7 98.5,113.3 100.1,111.8 101.7,110.4 103.3,108.9 105.0,107.5 106.8,106.1 108.6,104.8 110.4,103.4 112.3,102.2 114.1,101.0 115.9,99.9 117.8,98.9 119.6,97.8 121.5,96.8 123.3,95.9 125.2,94.9 127.0,94.0 128.9,93.1 130.7,92.2 132.5,91.3 134.3,90.5 136.1,89.6 137.8,88.7 139.5,87.8 141.3,86.9 148.7,101.1 146.9,102.0 145.1,103.0 143.2,103.9 141.4,104.8 139.5,105.7 137.7,106.6 135.9,107.5 134.1,108.3 132.4,109.2 130.7,110.1 129.0,111.0 127.3,111.9 125.7,112.8 124.1,113.7 122.5,114.6 121.0,115.6 119.6,116.6 118.0,117.7 116.6,118.8 115.1,119.9 113.7,121.1 112.3,122.4 110.9,123.6 109.4,125.0 108.0,126.3 106.5,127.7 105.0,129.1 103.5,130.6 102.0,132.1 100.3,133.6 98.7,135.1 96.9,136.6 95.2,138.1 93.7,139.3 92.2,140.6 90.7,141.9 89.2,143.2 87.7,144.5 86.1,145.8 84.5,147.2 82.9,148.6 81.3,150.0 79.6,151.3 77.9,152.7 76.3,154.1 74.6,155.4 72.9,156.7 71.2,158.0 69.5,159.2 67.7,160.5 66.0,161.6 64.3,162.7 62.3,164.0 60.4,165.1 58.5,166.3 56.6,167.3 54.7,168.4 52.8,169.4 50.9,170.3 49.0,171.2 47.1,172.1 45.1,173.0 43.1,173.8 41.1,174.6 39.0,175.4 36.8,176.2 34.7,176.9 32.4,177.6 30.5,178.2 28.5,178.8 26.5,179.3 24.5,179.8 22.4,180.2 20.4,180.7 18.3,181.1 16.2,181.5 14.1,181.9 12.0,182.3 9.9,182.6 7.8,183.0 5.7,183.3 3.6,183.7 1.6,184.0 -0.5,184.4 -2.5,184.7 -4.5,185.1 -6.5,185.5 -8.5,185.9Z" fill="#292929" filter="url(#b5)" style="mix-blend-mode:plus-lighter"/>
<path d="M83.7,107.2 85.2,106.0 86.7,104.8 88.1,103.6 89.6,102.3 91.1,101.0 92.6,99.7 94.2,98.4 95.7,97.1 97.3,95.7 98.9,94.4 100.6,93.0 102.3,91.7 104.1,90.4 105.9,89.1 107.7,87.8 109.6,86.6 111.6,85.4 113.5,84.2 115.5,83.1 117.5,82.0 119.5,81.0 121.5,80.0 123.5,79.1 125.4,78.1 127.4,77.2 129.3,76.3 131.3,75.4 133.2,74.6 135.1,73.7 136.9,72.8 138.7,71.9 140.6,71.0 149.4,89.0 147.5,89.9 145.5,90.9 143.5,91.8 141.6,92.7 139.6,93.6 137.7,94.5 135.8,95.4 133.9,96.2 132.1,97.1 130.3,98.0 128.5,98.9 126.8,99.8 125.1,100.7 123.5,101.6 121.9,102.5 120.4,103.4 118.9,104.4 117.4,105.4 115.9,106.5 114.5,107.6 113.0,108.7 111.6,109.9 110.1,111.1 108.6,112.3 107.2,113.6 105.7,114.9 104.2,116.2 102.6,117.5 101.1,118.8 99.5,120.1 97.9,121.5 96.3,122.8Z" fill="#0f0f0f" filter="url(#b8)" style="mix-blend-mode:plus-lighter"/>
</g>
<rect x="0" y="69.80" width="2.8" height="1.9" fill="#fff"/>
<rect x="130.60" y="69.80" width="2.8" height="1.9" fill="#fff"/>
<rect x="0" y="140.55" width="2.8" height="1.9" fill="#fff"/>
<rect x="130.60" y="140.55" width="2.8" height="1.9" fill="#fff"/>
<rect x="0" y="211.30" width="2.8" height="1.9" fill="#fff"/>
<rect x="130.60" y="211.30" width="2.8" height="1.9" fill="#fff"/>
</svg>
<svg x="70.90" y="372.80" width="133.10" height="281.00" viewBox="0 0 133.10 281.00" overflow="hidden">
<g filter="url(#cm)"><rect x="-1" y="-1" width="135.10" height="283.00" fill="#000"/>
<ellipse cx="80" cy="-20" rx="75" ry="60" transform="rotate(0 80 -20)" fill="#1a1a1a" filter="url(#b20)" style="mix-blend-mode:plus-lighter"/>
<ellipse cx="62" cy="120" rx="55" ry="100" transform="rotate(0 62 120)" fill="#131313" filter="url(#b25)" style="mix-blend-mode:plus-lighter"/>
<path d="M131.0,-0.5 130.5,1.7 130.1,3.4 130.0,3.8 129.8,4.6 129.4,7.1 129.3,7.8 129.1,9.2 128.9,10.9 128.7,12.8 128.4,14.9 128.1,17.2 127.8,19.5 127.5,21.9 127.2,24.4 126.8,26.9 126.5,29.4 126.1,31.9 125.7,34.5 125.3,37.0 124.7,39.9 124.2,42.8 123.6,45.6 123.0,48.3 122.4,50.9 121.7,53.4 121.1,55.9 120.4,58.3 119.8,60.6 119.1,63.0 118.1,66.1 117.1,69.2 116.1,72.0 115.1,74.6 114.1,77.0 113.2,79.2 112.4,81.1 111.6,83.2 110.6,85.6 109.5,88.1 108.5,90.5 107.5,92.6 106.6,94.6 105.8,96.4 105.1,98.0 104.6,99.2 103.9,101.0 103.2,102.7 102.5,104.6 101.7,106.6 100.9,108.7 100.1,111.0 30.0,84.3 30.7,82.3 31.5,80.3 32.3,78.1 33.2,75.8 34.2,73.2 35.3,70.5 36.2,68.3 37.2,66.1 38.1,63.9 39.1,61.9 40.0,59.9 40.8,58.0 41.5,56.3 42.3,54.6 43.1,52.6 43.8,50.7 44.5,49.0 45.2,47.4 45.7,45.9 46.3,44.5 46.8,43.0 47.3,41.3 47.7,39.8 48.2,38.2 48.6,36.6 49.0,34.9 49.5,33.2 49.9,31.5 50.3,29.7 50.7,27.8 51.1,25.8 51.5,23.7 51.7,22.2 52.0,20.6 52.3,18.7 52.6,16.6 52.8,14.5 53.1,12.3 53.4,10.0 53.7,7.8 54.0,5.5 54.3,3.3 54.5,1.2 54.8,-0.8 55.1,-2.7 55.4,-4.7 56.0,-8.4 56.6,-11.5 57.1,-13.8 57.4,-15.0 57.7,-16.4Z" fill="#212121" filter="url(#b16)" style="mix-blend-mode:plus-lighter"/>
<path d="M98.7,-7.5 98.3,-5.6 98.0,-4.2 97.7,-2.9 97.3,-1.1 96.9,1.9 96.7,3.2 96.4,4.8 96.2,6.7 95.9,8.7 95.7,10.8 95.4,13.0 95.1,15.3 94.8,17.7 94.5,20.0 94.2,22.4 93.8,24.7 93.5,26.9 93.2,29.1 92.8,31.1 92.3,33.7 91.8,36.2 91.3,38.6 90.8,40.9 90.3,43.1 89.7,45.3 89.2,47.4 88.6,49.5 88.1,51.5 87.5,53.5 86.7,55.9 85.9,58.3 85.1,60.5 84.3,62.7 83.5,64.7 82.7,66.7 81.9,68.6 81.1,70.6 80.2,72.7 79.3,74.9 78.3,77.0 77.4,79.1 76.5,81.1 75.6,83.1 74.8,84.9 74.1,86.6 73.2,88.8 72.4,90.9 71.6,92.9 70.8,95.0 70.0,97.1 69.2,99.3 46.8,90.7 47.6,88.6 48.4,86.6 49.1,84.5 50.0,82.2 50.9,79.9 51.9,77.4 52.8,75.4 53.7,73.4 54.6,71.3 55.5,69.3 56.4,67.2 57.3,65.3 58.1,63.3 58.9,61.4 59.7,59.5 60.5,57.6 61.2,55.7 61.9,54.0 62.6,52.2 63.3,50.4 63.9,48.5 64.5,46.5 65.0,44.8 65.5,43.0 66.0,41.2 66.5,39.4 67.0,37.5 67.4,35.5 67.9,33.5 68.3,31.4 68.8,29.2 69.2,26.9 69.5,25.2 69.8,23.3 70.1,21.3 70.4,19.1 70.7,16.9 71.0,14.6 71.3,12.3 71.6,10.0 71.9,7.8 72.1,5.6 72.4,3.6 72.6,1.6 72.9,-0.2 73.1,-1.9 73.7,-5.3 74.2,-7.8 74.6,-9.6 74.9,-11.0 75.3,-12.5Z" fill="#3b3b3b" filter="url(#b6)" style="mix-blend-mode:plus-lighter"/>
<path d="M90.9,-9.2 90.5,-7.4 90.2,-6.0 89.8,-4.6 89.4,-2.5 88.9,0.6 88.7,2.1 88.5,3.7 88.2,5.6 88.0,7.6 87.7,9.8 87.4,12.0 87.1,14.3 86.8,16.6 86.5,19.0 86.2,21.3 85.9,23.5 85.6,25.7 85.2,27.8 84.9,29.7 84.5,32.2 84.1,34.6 83.7,36.9 83.3,39.2 82.8,41.3 82.4,43.4 81.9,45.5 81.5,47.5 81.0,49.4 80.5,51.4 79.9,53.7 79.3,56.0 78.7,58.1 78.0,60.2 77.3,62.2 76.7,64.2 76.0,66.2 75.3,68.2 74.6,70.3 73.8,72.5 73.0,74.6 72.2,76.8 71.4,78.9 70.7,80.9 70.0,82.8 69.3,84.6 68.4,86.9 67.6,89.0 66.8,91.1 66.0,93.2 65.2,95.3 64.4,97.4 51.6,92.6 52.4,90.5 53.2,88.4 54.0,86.3 54.8,84.1 55.7,81.8 56.7,79.4 57.6,77.5 58.6,75.5 59.6,73.6 60.7,71.6 61.7,69.6 62.7,67.7 63.7,65.7 64.7,63.8 65.6,61.9 66.5,60.0 67.4,58.2 68.2,56.4 69.1,54.6 69.9,52.7 70.7,50.8 71.5,48.6 72.1,46.9 72.7,45.0 73.3,43.2 73.8,41.3 74.4,39.3 75.0,37.3 75.5,35.2 76.0,33.0 76.6,30.7 77.1,28.3 77.4,26.5 77.7,24.5 78.0,22.4 78.4,20.2 78.7,17.9 79.0,15.6 79.3,13.3 79.5,11.0 79.8,8.8 80.1,6.6 80.4,4.6 80.6,2.7 80.9,0.9 81.1,-0.6 81.6,-3.9 82.1,-6.2 82.4,-7.8 82.8,-9.2 83.1,-10.8Z" fill="#292929" filter="url(#b2_6)" style="mix-blend-mode:plus-lighter"/>
<ellipse cx="71" cy="63" rx="12" ry="3.5" transform="rotate(-62 71 63)" fill="#1a1a1a" filter="url(#b2)" style="mix-blend-mode:plus-lighter"/>
<path d="M66.5,157.6 64.8,159.0 63.1,160.5 61.5,161.9 59.8,163.3 58.2,164.7 56.6,166.1 55.0,167.5 53.4,168.9 51.8,170.3 50.4,171.6 49.0,173.0 47.6,174.4 46.1,175.9 44.7,177.4 43.2,179.0 41.6,180.5 40.1,182.1 38.5,183.6 37.0,185.2 35.5,186.6 34.0,188.1 32.5,189.6 30.9,191.0 29.4,192.5 27.8,194.0 26.2,195.4 24.7,196.9 23.0,198.3 21.4,199.7 19.7,201.1 17.9,202.5 16.1,203.9 14.4,205.3 12.6,206.6 10.7,207.9 8.9,209.2 7.0,210.4 5.1,211.6 2.9,212.9 0.7,214.0 -1.5,215.0 -3.5,215.9 -5.5,216.8 -7.3,217.5 -9.1,218.3 -10.9,219.1 -19.1,200.9 -17.2,200.0 -15.2,199.1 -13.3,198.3 -11.5,197.6 -9.8,196.8 -8.2,196.1 -6.6,195.3 -5.1,194.4 -3.7,193.5 -2.2,192.6 -0.7,191.5 0.8,190.5 2.3,189.3 3.9,188.1 5.4,186.9 7.0,185.6 8.6,184.3 10.0,183.2 11.3,181.9 12.8,180.7 14.2,179.4 15.6,178.0 17.1,176.6 18.5,175.2 20.0,173.7 21.5,172.3 23.0,170.8 24.5,169.4 25.9,168.0 27.4,166.5 28.8,165.0 30.3,163.5 31.9,161.9 33.4,160.3 35.0,158.8 36.6,157.2 38.2,155.7 39.9,154.1 41.7,152.5 43.4,151.0 45.2,149.5 46.9,148.0 48.5,146.6 50.2,145.2 51.8,143.8 53.5,142.4Z" fill="#1a1a1a" filter="url(#b9)" style="mix-blend-mode:plus-lighter"/>
<ellipse cx="54" cy="151" rx="15" ry="10" transform="rotate(-35 54 151)" fill="#2b2b2b" filter="url(#b7)" style="mix-blend-mode:plus-lighter"/>
<ellipse cx="4" cy="203" rx="18" ry="10" transform="rotate(-20 4 203)" fill="#262626" filter="url(#b7)" style="mix-blend-mode:plus-lighter"/>
<ellipse cx="35" cy="180" rx="45" ry="30" transform="rotate(-40 35 180)" fill="#1a1a1a" filter="url(#b18)" style="mix-blend-mode:plus-lighter"/>
<ellipse cx="60" cy="122" rx="12" ry="22" transform="rotate(0 60 122)" fill="#1a1a1a" filter="url(#b8)" style="mix-blend-mode:plus-lighter"/>
</g>
<rect x="0" y="69.30" width="2.8" height="1.9" fill="#fff"/>
<rect x="130.30" y="69.30" width="2.8" height="1.9" fill="#fff"/>
<rect x="0" y="139.55" width="2.8" height="1.9" fill="#fff"/>
<rect x="130.30" y="139.55" width="2.8" height="1.9" fill="#fff"/>
<rect x="0" y="209.80" width="2.8" height="1.9" fill="#fff"/>
<rect x="130.30" y="209.80" width="2.8" height="1.9" fill="#fff"/>
</svg>
<svg x="212.20" y="372.80" width="133.50" height="281.00" viewBox="0 0 133.50 281.00" overflow="hidden">
<g filter="url(#cm)"><rect x="-1" y="-1" width="135.50" height="283.00" fill="#000"/>
<ellipse cx="80" cy="-20" rx="75" ry="60" transform="rotate(0 80 -20)" fill="#1a1a1a" filter="url(#b20)" style="mix-blend-mode:plus-lighter"/>
<ellipse cx="62" cy="120" rx="55" ry="100" transform="rotate(0 62 120)" fill="#131313" filter="url(#b25)" style="mix-blend-mode:plus-lighter"/>
<path d="M132.0,-0.5 131.5,1.7 131.1,3.4 131.0,3.8 130.8,4.6 130.4,7.1 130.3,7.9 130.1,9.3 129.9,10.9 129.7,12.8 129.4,14.9 129.1,17.1 128.8,19.4 128.5,21.8 128.2,24.3 127.9,26.7 127.5,29.2 127.1,31.7 126.8,34.2 126.3,36.7 125.9,39.4 125.4,42.1 124.9,44.6 124.3,47.1 123.8,49.6 123.3,51.9 122.8,54.2 122.2,56.5 121.7,58.7 121.2,60.8 120.6,63.0 120.0,65.4 119.4,67.8 118.7,70.3 118.1,72.7 117.4,75.1 116.7,77.5 116.0,79.9 115.3,82.2 114.5,84.6 113.8,87.0 113.0,89.4 112.1,91.9 111.2,94.3 110.4,96.6 109.6,98.9 108.8,101.0 108.0,103.0 107.3,104.9 106.6,106.7 105.9,108.4 104.8,111.2 103.7,113.8 102.8,116.1 101.9,118.0 101.2,119.7 100.5,121.5 31.4,92.3 32.2,90.3 33.0,88.4 33.8,86.7 34.5,85.0 35.2,83.2 36.1,81.1 36.7,79.5 37.3,77.8 38.0,76.1 38.7,74.3 39.4,72.5 40.0,70.7 40.7,68.9 41.3,67.1 41.9,65.4 42.5,63.7 43.0,61.9 43.6,60.1 44.2,58.3 44.7,56.4 45.3,54.5 45.8,52.6 46.3,50.7 46.9,48.7 47.4,46.7 47.9,44.7 48.4,42.8 48.8,40.9 49.3,39.1 49.7,37.2 50.1,35.4 50.5,33.6 50.9,31.7 51.3,29.8 51.7,27.9 52.1,25.9 52.4,23.9 52.7,22.3 53.0,20.5 53.3,18.6 53.6,16.5 53.8,14.3 54.1,12.1 54.4,9.9 54.7,7.6 55.0,5.4 55.3,3.2 55.5,1.2 55.8,-0.8 56.1,-2.7 56.4,-4.7 57.0,-8.4 57.6,-11.5 58.1,-13.8 58.4,-15.0 58.7,-16.4Z" fill="#212121" filter="url(#b16)" style="mix-blend-mode:plus-lighter"/>
<path d="M99.7,-7.5 99.3,-5.6 99.0,-4.2 98.7,-2.9 98.3,-1.1 97.9,1.9 97.7,3.2 97.4,4.8 97.2,6.6 96.9,8.6 96.7,10.7 96.4,12.9 96.1,15.2 95.8,17.5 95.5,19.9 95.2,22.2 94.8,24.5 94.5,26.8 94.2,29.0 93.8,31.0 93.4,33.5 93.0,35.8 92.5,38.1 92.0,40.4 91.6,42.5 91.1,44.7 90.6,46.8 90.1,48.8 89.6,50.9 89.1,52.9 88.6,54.9 88.1,57.2 87.5,59.4 86.9,61.6 86.3,63.9 85.7,66.0 85.0,68.2 84.4,70.4 83.7,72.5 83.1,74.6 82.4,76.7 81.7,78.9 81.0,81.0 80.2,83.1 79.4,85.2 78.7,87.3 77.9,89.3 77.2,91.2 76.5,93.0 75.8,94.7 75.2,96.4 74.2,98.9 73.3,101.1 72.4,103.1 71.6,105.0 70.9,106.8 70.1,108.7 47.9,99.3 48.8,97.4 49.6,95.5 50.3,93.7 51.1,91.9 51.9,89.9 52.8,87.6 53.4,86.1 54.1,84.3 54.8,82.6 55.5,80.7 56.2,78.8 56.9,76.9 57.6,75.0 58.3,73.1 59.0,71.2 59.6,69.3 60.2,67.4 60.8,65.4 61.4,63.5 62.0,61.5 62.6,59.5 63.2,57.4 63.7,55.4 64.3,53.3 64.8,51.2 65.4,49.1 65.8,47.1 66.3,45.2 66.8,43.2 67.2,41.3 67.7,39.4 68.1,37.4 68.6,35.4 69.0,33.4 69.4,31.3 69.8,29.2 70.2,27.0 70.5,25.2 70.8,23.2 71.1,21.1 71.4,19.0 71.7,16.7 72.0,14.4 72.3,12.2 72.6,9.9 72.9,7.7 73.1,5.5 73.4,3.5 73.7,1.6 73.9,-0.2 74.1,-1.9 74.7,-5.3 75.2,-7.8 75.6,-9.6 75.9,-11.0 76.3,-12.5Z" fill="#3b3b3b" filter="url(#b6)" style="mix-blend-mode:plus-lighter"/>
<path d="M91.9,-9.2 91.5,-7.4 91.2,-6.0 90.8,-4.6 90.4,-2.5 89.9,0.6 89.7,2.1 89.5,3.7 89.2,5.6 89.0,7.6 88.7,9.7 88.4,11.9 88.1,14.2 87.8,16.5 87.5,18.8 87.2,21.1 86.9,23.4 86.6,25.6 86.2,27.7 85.9,29.7 85.5,32.0 85.1,34.3 84.7,36.6 84.3,38.7 83.9,40.9 83.5,42.9 83.0,45.0 82.6,47.0 82.1,49.0 81.7,51.0 81.2,53.1 80.7,55.3 80.2,57.5 79.7,59.7 79.2,61.9 78.6,64.0 78.1,66.2 77.5,68.3 77.0,70.4 76.4,72.5 75.8,74.6 75.2,76.7 74.6,78.8 74.0,80.9 73.3,83.0 72.7,85.0 72.0,87.0 71.4,89.0 70.8,90.8 70.2,92.6 69.7,94.2 68.8,96.7 68.0,98.9 67.2,100.9 66.4,102.8 65.7,104.6 65.0,106.5 53.0,101.5 53.9,99.6 54.7,97.7 55.6,96.0 56.4,94.1 57.3,92.1 58.3,89.8 59.0,88.2 59.8,86.5 60.5,84.8 61.4,83.0 62.2,81.1 63.0,79.2 63.8,77.2 64.7,75.3 65.5,73.4 66.2,71.4 66.9,69.5 67.6,67.5 68.3,65.5 69.0,63.5 69.6,61.5 70.3,59.4 70.9,57.3 71.6,55.2 72.2,53.1 72.8,50.9 73.3,49.0 73.8,47.0 74.4,45.1 74.8,43.1 75.3,41.1 75.8,39.1 76.3,37.0 76.8,35.0 77.2,32.8 77.7,30.6 78.1,28.3 78.4,26.4 78.7,24.4 79.0,22.3 79.4,20.1 79.7,17.8 80.0,15.5 80.3,13.2 80.5,10.9 80.8,8.7 81.1,6.6 81.4,4.5 81.6,2.7 81.9,0.9 82.1,-0.6 82.6,-3.9 83.1,-6.2 83.4,-7.8 83.8,-9.2 84.1,-10.8Z" fill="#292929" filter="url(#b2_6)" style="mix-blend-mode:plus-lighter"/>
<ellipse cx="72" cy="70" rx="14" ry="3" transform="rotate(-66 72 70)" fill="#1c1c1c" filter="url(#b2)" style="mix-blend-mode:plus-lighter"/>
<ellipse cx="71" cy="75" rx="4" ry="1.5" transform="rotate(-66 71 75)" fill="#1a1a1a" filter="url(#b1)" style="mix-blend-mode:plus-lighter"/>
<path d="M71.8,167.1 70.3,168.4 68.7,169.8 67.2,171.1 65.6,172.4 64.1,173.7 62.6,175.0 61.0,176.4 59.4,177.7 57.8,179.1 56.2,180.5 54.6,181.9 52.9,183.3 51.3,184.8 49.6,186.2 47.9,187.7 46.2,189.2 44.5,190.6 42.9,192.0 41.3,193.4 39.7,194.8 38.1,196.3 36.5,197.8 34.8,199.3 33.0,200.9 31.2,202.5 29.2,204.0 27.3,205.6 25.5,206.9 23.7,208.1 22.0,209.4 20.1,210.7 18.3,211.9 16.4,213.1 14.5,214.3 12.5,215.5 10.5,216.6 8.4,217.7 6.1,218.8 3.7,219.9 1.4,220.8 -0.8,221.6 -2.9,222.4 -5.0,223.1 -7.0,223.8 -8.9,224.5 -10.8,225.2 -19.2,202.8 -17.1,202.0 -15.0,201.2 -12.9,200.5 -11.0,199.8 -9.1,199.1 -7.3,198.5 -5.6,197.8 -4.0,197.1 -2.4,196.3 -1.0,195.5 0.5,194.7 2.0,193.8 3.6,192.8 5.1,191.8 6.7,190.8 8.2,189.7 9.7,188.6 11.3,187.5 12.7,186.4 14.3,185.2 15.8,184.0 17.3,182.7 18.8,181.4 20.4,180.0 22.0,178.5 23.7,177.0 25.4,175.5 27.1,174.0 28.8,172.5 30.5,171.0 32.2,169.6 33.9,168.1 35.5,166.6 37.2,165.2 38.9,163.7 40.5,162.3 42.2,160.9 43.8,159.5 45.4,158.2 46.9,156.8 48.5,155.5 50.0,154.2 51.6,152.8 53.1,151.5 54.6,150.2 56.2,148.9Z" fill="url(#g6)" filter="url(#b8)" style="mix-blend-mode:plus-lighter"/>
<ellipse cx="54" cy="166" rx="15" ry="9" transform="rotate(-50 54 166)" fill="#1c1c1c" filter="url(#b5)" style="mix-blend-mode:plus-lighter"/>
<ellipse cx="54" cy="166" rx="8" ry="4" transform="rotate(-55 54 166)" fill="#121212" filter="url(#b3)" style="mix-blend-mode:plus-lighter"/>
<ellipse cx="5" cy="212" rx="18" ry="10" transform="rotate(-20 5 212)" fill="#1a1a1a" filter="url(#b7)" style="mix-blend-mode:plus-lighter"/>
<ellipse cx="35" cy="190" rx="45" ry="30" transform="rotate(-40 35 190)" fill="#1a1a1a" filter="url(#b18)" style="mix-blend-mode:plus-lighter"/>
<ellipse cx="60" cy="132" rx="12" ry="22" transform="rotate(0 60 132)" fill="#1a1a1a" filter="url(#b8)" style="mix-blend-mode:plus-lighter"/>
</g>
<rect x="0" y="69.30" width="2.8" height="1.9" fill="#fff"/>
<rect x="130.70" y="69.30" width="2.8" height="1.9" fill="#fff"/>
<rect x="0" y="139.55" width="2.8" height="1.9" fill="#fff"/>
<rect x="130.70" y="139.55" width="2.8" height="1.9" fill="#fff"/>
<rect x="0" y="209.80" width="2.8" height="1.9" fill="#fff"/>
<rect x="130.70" y="209.80" width="2.8" height="1.9" fill="#fff"/>
</svg>
<svg x="354.90" y="372.80" width="133.30" height="281.00" viewBox="0 0 133.30 281.00" overflow="hidden">
<g filter="url(#cm)"><rect x="-1" y="-1" width="135.30" height="283.00" fill="#000"/>
<ellipse cx="80" cy="-20" rx="75" ry="60" transform="rotate(0 80 -20)" fill="#1a1a1a" filter="url(#b20)" style="mix-blend-mode:plus-lighter"/>
<ellipse cx="62" cy="120" rx="55" ry="100" transform="rotate(0 62 120)" fill="#131313" filter="url(#b25)" style="mix-blend-mode:plus-lighter"/>
<path d="M133.9,0.0 133.3,2.5 132.8,4.3 132.9,3.9 132.9,3.8 132.6,6.0 132.6,6.4 132.4,7.5 132.3,9.0 132.1,10.7 132.0,12.6 131.8,14.6 131.6,16.8 131.4,19.1 131.2,21.5 131.0,23.9 130.7,26.4 130.5,28.8 130.2,31.4 129.9,33.9 129.5,36.4 129.1,39.2 128.7,41.8 128.3,44.4 127.8,47.0 127.3,49.4 126.8,51.8 126.3,54.2 125.8,56.5 125.3,58.8 124.8,61.1 124.3,63.3 123.8,65.5 123.2,67.7 122.7,70.0 122.1,72.4 121.5,74.8 120.8,77.2 120.2,79.7 119.5,82.2 118.7,84.7 118.0,87.3 117.2,89.8 116.3,92.5 115.3,95.2 114.2,98.4 112.9,101.6 111.6,104.6 110.4,107.4 109.2,110.0 108.0,112.4 107.0,114.6 106.0,116.5 105.2,118.2 104.3,119.9 102.9,122.9 101.3,125.8 100.0,128.2 98.9,130.1 98.1,131.5 97.3,132.9 31.8,96.4 32.9,94.5 33.9,92.7 34.7,91.3 35.4,90.0 36.1,88.7 37.1,86.7 37.9,85.2 38.7,83.4 39.6,81.7 40.4,79.9 41.3,78.1 42.1,76.4 42.8,74.7 43.5,73.0 44.2,71.5 44.8,69.9 45.2,68.5 45.7,67.0 46.3,65.3 46.8,63.6 47.3,61.8 47.8,59.9 48.3,58.0 48.8,56.0 49.3,54.0 49.8,52.0 50.3,50.0 50.8,48.0 51.3,46.0 51.8,44.1 52.2,42.2 52.6,40.4 53.0,38.6 53.4,36.8 53.7,35.0 54.1,33.2 54.4,31.4 54.7,29.5 55.0,27.6 55.3,25.7 55.5,24.2 55.7,22.6 55.9,20.8 56.1,18.8 56.3,16.8 56.5,14.7 56.7,12.5 56.9,10.4 57.1,8.2 57.3,6.1 57.4,4.0 57.6,2.0 57.8,0.1 58.0,-1.9 58.3,-4.0 58.8,-8.0 59.5,-11.7 60.2,-14.5 60.5,-15.5 60.8,-16.7Z" fill="#212121" filter="url(#b16)" style="mix-blend-mode:plus-lighter"/>
<path d="M101.7,-7.3 101.3,-5.4 100.9,-4.0 100.6,-2.9 100.3,-1.4 99.9,1.6 99.8,2.7 99.6,4.2 99.4,5.9 99.3,7.8 99.1,9.7 98.9,11.8 98.7,14.0 98.5,16.2 98.3,18.5 98.1,20.8 97.9,23.0 97.7,25.3 97.4,27.5 97.2,29.7 96.9,31.7 96.5,34.1 96.1,36.4 95.8,38.7 95.4,40.9 94.9,43.1 94.5,45.2 94.1,47.3 93.6,49.4 93.1,51.5 92.7,53.6 92.2,55.7 91.7,57.8 91.2,59.9 90.6,62.1 90.1,64.3 89.5,66.5 88.9,68.7 88.3,71.0 87.7,73.2 87.1,75.4 86.4,77.6 85.7,79.8 85.0,81.9 84.3,84.1 83.4,86.6 82.4,89.0 81.4,91.4 80.3,93.7 79.3,96.0 78.3,98.1 77.3,100.1 76.4,102.0 75.6,103.7 74.8,105.3 73.5,107.8 72.3,110.1 71.3,112.0 70.3,113.7 69.4,115.2 68.5,116.8 47.5,105.2 48.5,103.4 49.5,101.7 50.4,100.1 51.2,98.6 52.1,96.9 53.2,94.7 54.0,93.1 54.9,91.4 55.8,89.6 56.7,87.7 57.6,85.8 58.5,83.8 59.3,81.9 60.2,79.9 61.0,77.9 61.7,75.9 62.3,74.3 62.9,72.5 63.5,70.6 64.0,68.7 64.6,66.7 65.2,64.6 65.7,62.6 66.3,60.5 66.8,58.4 67.3,56.3 67.8,54.3 68.3,52.2 68.8,50.2 69.3,48.2 69.7,46.2 70.2,44.3 70.6,42.3 71.0,40.4 71.4,38.5 71.8,36.5 72.1,34.5 72.5,32.5 72.8,30.4 73.1,28.3 73.4,26.6 73.6,24.7 73.8,22.7 74.0,20.6 74.2,18.5 74.4,16.3 74.6,14.1 74.8,11.9 75.0,9.8 75.2,7.7 75.4,5.6 75.5,3.7 75.7,1.8 75.9,0.1 76.1,-1.6 76.6,-5.2 77.1,-7.9 77.6,-10.0 78.0,-11.2 78.3,-12.7Z" fill="#3b3b3b" filter="url(#b6)" style="mix-blend-mode:plus-lighter"/>
<path d="M94.2,-9.0 93.8,-7.3 93.4,-5.9 93.1,-4.5 92.7,-2.6 92.3,0.6 92.1,1.9 92.0,3.5 91.8,5.2 91.6,7.1 91.5,9.1 91.3,11.2 91.1,13.3 90.9,15.5 90.7,17.8 90.5,20.0 90.3,22.3 90.0,24.5 89.8,26.6 89.5,28.7 89.3,30.6 89.0,32.9 88.6,35.2 88.3,37.4 87.9,39.5 87.6,41.6 87.2,43.7 86.8,45.8 86.3,47.8 85.9,49.9 85.5,51.9 85.0,54.0 84.6,56.1 84.1,58.2 83.6,60.4 83.1,62.5 82.5,64.7 82.0,66.9 81.4,69.1 80.9,71.3 80.3,73.4 79.7,75.6 79.1,77.6 78.4,79.7 77.7,81.7 76.9,84.1 76.1,86.4 75.2,88.8 74.3,91.0 73.4,93.2 72.4,95.3 71.5,97.3 70.7,99.1 69.9,100.9 69.2,102.6 68.0,105.0 66.8,107.1 65.8,108.9 64.9,110.5 64.0,112.1 63.0,113.8 53.0,108.2 54.0,106.4 54.9,104.8 55.8,103.2 56.7,101.6 57.7,99.7 58.8,97.4 59.7,95.9 60.6,94.2 61.5,92.4 62.5,90.5 63.5,88.6 64.5,86.6 65.5,84.5 66.5,82.5 67.4,80.4 68.3,78.3 68.9,76.5 69.6,74.6 70.2,72.7 70.8,70.7 71.5,68.6 72.1,66.5 72.7,64.4 73.2,62.3 73.8,60.2 74.4,58.1 74.9,56.0 75.4,53.9 76.0,51.9 76.5,49.8 77.0,47.9 77.4,45.9 77.9,43.9 78.3,41.9 78.8,39.9 79.2,37.9 79.6,35.8 80.0,33.7 80.4,31.6 80.7,29.4 81.0,27.5 81.2,25.6 81.4,23.5 81.7,21.4 81.9,19.2 82.1,17.0 82.3,14.8 82.5,12.6 82.7,10.4 82.8,8.3 83.0,6.3 83.2,4.4 83.4,2.6 83.5,1.0 83.7,-0.6 84.2,-4.0 84.6,-6.3 85.1,-8.0 85.4,-9.4 85.8,-11.0Z" fill="#292929" filter="url(#b2_6)" style="mix-blend-mode:plus-lighter"/>
<path d="M92.9,176.2 91.7,178.2 90.5,180.1 89.4,181.9 88.5,183.5 87.5,185.2 86.9,186.3 86.1,187.8 85.2,189.5 84.1,191.6 82.9,193.9 81.6,196.4 80.1,198.9 78.7,201.2 77.3,203.3 75.9,205.5 74.5,207.6 73.1,209.7 71.6,211.8 70.2,213.8 68.8,215.7 67.3,217.6 65.7,219.6 64.1,221.7 62.3,223.8 60.4,225.9 58.3,228.1 56.3,230.3 54.2,232.3 52.1,234.2 50.1,236.0 48.1,237.8 46.2,239.4 44.5,240.8 43.1,242.0 41.7,243.2 39.8,244.8 37.4,246.7 34.5,248.8 31.3,250.9 28.1,252.9 25.9,254.2 24.0,255.3 22.1,256.4 20.1,257.4 18.1,258.4 16.1,259.5 14.1,260.5 12.2,261.5 10.2,262.5 8.3,263.4 6.4,264.4 4.6,265.3 2.8,266.2 1.1,267.1 -26.5,213.8 -24.6,212.8 -22.6,211.8 -20.7,210.8 -18.7,209.8 -16.8,208.9 -14.9,207.9 -13.0,207.0 -11.2,206.0 -9.5,205.1 -7.8,204.3 -6.3,203.5 -5.0,202.8 -3.8,202.1 -2.9,201.6 -1.1,200.5 0.0,199.7 0.9,199.1 1.8,198.4 2.8,197.5 4.3,196.2 6.0,194.8 7.5,193.5 9.0,192.3 10.3,191.1 11.6,190.0 12.8,188.9 13.9,187.8 14.9,186.8 15.8,185.7 16.8,184.7 17.8,183.5 18.7,182.3 19.7,181.0 20.8,179.6 21.9,178.2 22.9,176.8 23.9,175.4 24.8,174.0 25.8,172.5 26.7,171.1 27.7,169.6 28.5,168.2 29.3,166.9 30.1,165.4 31.0,163.7 31.9,161.9 33.0,159.9 34.0,157.9 35.2,155.7 36.7,153.2 38.1,150.9 39.3,148.8 40.5,146.9 41.6,145.0Z" fill="#212121" filter="url(#b16)" style="mix-blend-mode:plus-lighter"/>
<path d="M73.3,164.2 72.1,166.2 70.9,168.1 69.7,170.0 68.6,171.9 67.4,173.9 66.6,175.4 65.7,177.1 64.8,178.9 63.8,180.9 62.7,183.0 61.5,185.1 60.3,187.1 59.1,189.1 57.9,191.0 56.7,192.9 55.5,194.7 54.2,196.5 53.0,198.3 51.7,200.1 50.4,201.8 49.1,203.6 47.7,205.3 46.3,207.0 44.8,208.8 43.3,210.5 41.7,212.3 40.0,214.0 38.3,215.6 36.6,217.3 34.8,218.8 33.1,220.3 31.4,221.8 29.7,223.2 28.2,224.5 26.8,225.7 25.2,227.0 23.4,228.4 21.3,230.0 18.9,231.6 16.2,233.3 14.6,234.2 12.9,235.2 11.2,236.1 9.4,237.0 7.5,238.0 5.7,239.0 3.7,240.0 1.8,240.9 -0.1,241.9 -2.1,242.9 -4.0,243.9 -5.9,244.8 -7.7,245.7 -9.5,246.7 -20.5,225.3 -18.7,224.4 -16.8,223.4 -14.8,222.4 -12.9,221.5 -10.9,220.5 -9.0,219.5 -7.1,218.5 -5.3,217.6 -3.5,216.7 -1.8,215.8 -0.2,214.9 1.3,214.1 2.7,213.4 3.8,212.7 5.9,211.4 7.5,210.3 8.8,209.4 10.0,208.4 11.3,207.4 12.7,206.2 14.3,204.8 15.9,203.5 17.4,202.2 18.9,200.9 20.4,199.6 21.8,198.3 23.1,197.0 24.3,195.7 25.5,194.4 26.6,193.1 27.8,191.8 28.9,190.4 30.1,188.9 31.2,187.4 32.3,185.9 33.5,184.3 34.5,182.8 35.6,181.3 36.7,179.7 37.7,178.1 38.7,176.5 39.7,174.9 40.6,173.3 41.5,171.6 42.5,169.8 43.5,167.9 44.5,166.0 45.5,164.0 46.6,162.1 47.9,159.7 49.2,157.6 50.4,155.6 51.6,153.7 52.7,151.8Z" fill="#404040" filter="url(#b6)" style="mix-blend-mode:plus-lighter"/>
<path d="M67.9,161.0 66.9,163.0 65.8,165.0 64.8,167.0 63.7,169.0 62.6,171.2 61.9,172.8 61.0,174.6 60.1,176.5 59.2,178.5 58.3,180.6 57.2,182.7 56.2,184.7 55.1,186.6 54.1,188.5 53.0,190.4 51.9,192.2 50.7,194.1 49.6,195.9 48.4,197.7 47.2,199.5 46.0,201.2 44.8,203.0 43.5,204.7 42.1,206.5 40.7,208.2 39.3,210.0 37.6,211.6 36.0,213.2 34.3,214.8 32.6,216.3 30.9,217.8 29.2,219.2 27.5,220.6 26.0,221.9 24.6,223.1 23.1,224.4 21.4,225.8 19.4,227.2 17.1,228.8 14.5,230.4 12.9,231.3 11.3,232.2 9.6,233.1 7.8,234.1 6.0,235.0 4.1,236.0 2.2,237.0 0.3,237.9 -1.7,238.9 -3.6,239.9 -5.5,240.9 -7.4,241.8 -9.2,242.7 -11.0,243.7 -19.0,228.3 -17.1,227.4 -15.2,226.4 -13.3,225.4 -11.4,224.5 -9.4,223.5 -7.5,222.5 -5.6,221.5 -3.7,220.6 -1.9,219.7 -0.2,218.8 1.4,217.9 2.9,217.1 4.3,216.3 5.5,215.6 7.7,214.2 9.4,213.1 10.9,212.1 12.1,211.0 13.4,209.9 14.9,208.7 16.5,207.4 18.1,206.0 19.6,204.7 21.2,203.4 22.6,202.0 24.1,200.7 25.4,199.4 26.7,198.0 28.1,196.8 29.4,195.5 30.6,194.1 31.9,192.7 33.1,191.3 34.4,189.8 35.6,188.3 36.9,186.8 38.1,185.3 39.2,183.7 40.4,182.1 41.6,180.5 42.7,178.9 43.8,177.3 44.9,175.7 45.9,174.0 47.0,172.1 48.1,170.3 49.2,168.4 50.3,166.6 51.4,164.8 52.8,162.6 54.2,160.6 55.5,158.7 56.8,156.9 58.1,155.0Z" fill="url(#g7)" filter="url(#b2_6)" style="mix-blend-mode:plus-lighter"/>
<ellipse cx="22" cy="175" rx="30" ry="40" transform="rotate(-30 22 175)" fill="#121212" filter="url(#b15)" style="mix-blend-mode:plus-lighter"/>
<path d="M82.4,55.7 81.8,57.8 81.2,60.0 80.5,62.1 79.9,64.3 79.3,66.4 78.6,68.5 78.0,70.6 77.4,72.7 76.8,74.8 76.2,76.8 75.6,78.9 75.0,80.9 74.3,82.9 73.7,84.9 73.0,86.9 72.3,88.9 71.5,91.0 70.7,93.1 69.8,95.1 68.9,97.1 68.0,99.1 67.2,101.0 66.3,103.0 61.7,101.0 62.6,99.0 63.5,97.0 64.3,95.1 65.2,93.1 66.1,91.2 66.9,89.2 67.7,87.1 68.3,85.3 68.9,83.4 69.6,81.4 70.2,79.5 70.8,77.4 71.4,75.4 72.0,73.3 72.6,71.3 73.2,69.2 73.9,67.1 74.5,65.0 75.1,62.9 75.7,60.7 76.3,58.6 77.0,56.4 77.6,54.3Z" fill="#1a1a1a" filter="url(#b1_5)" style="mix-blend-mode:plus-lighter"/>
<ellipse cx="71" cy="85" rx="6" ry="1.8" transform="rotate(-66 71 85)" fill="#383838" filter="url(#b1)" style="mix-blend-mode:plus-lighter"/>
<ellipse cx="53" cy="178" rx="10" ry="3.5" transform="rotate(-58 53 178)" fill="#0a0a0a" filter="url(#b2)" style="mix-blend-mode:plus-lighter"/>
<ellipse cx="61" cy="137" rx="10" ry="18" transform="rotate(0 61 137)" fill="#262626" filter="url(#b7)" style="mix-blend-mode:plus-lighter"/>
</g>
<rect x="0" y="69.30" width="2.8" height="1.9" fill="#fff"/>
<rect x="130.50" y="69.30" width="2.8" height="1.9" fill="#fff"/>
<rect x="0" y="139.55" width="2.8" height="1.9" fill="#fff"/>
<rect x="130.50" y="139.55" width="2.8" height="1.9" fill="#fff"/>
<rect x="0" y="209.80" width="2.8" height="1.9" fill="#fff"/>
<rect x="130.50" y="209.80" width="2.8" height="1.9" fill="#fff"/>
</svg>
<svg x="497.10" y="372.80" width="133.60" height="281.00" viewBox="0 0 133.60 281.00" overflow="hidden">
<g filter="url(#cm)"><rect x="-1" y="-1" width="135.60" height="283.00" fill="#000"/>
<ellipse cx="80" cy="-20" rx="75" ry="60" transform="rotate(0 80 -20)" fill="#1a1a1a" filter="url(#b20)" style="mix-blend-mode:plus-lighter"/>
<ellipse cx="62" cy="120" rx="55" ry="100" transform="rotate(0 62 120)" fill="#131313" filter="url(#b25)" style="mix-blend-mode:plus-lighter"/>
<path d="M134.9,0.0 134.3,2.5 133.8,4.3 133.9,3.9 133.9,3.8 133.6,6.0 133.6,6.4 133.4,7.5 133.3,9.0 133.1,10.7 133.0,12.6 132.8,14.6 132.6,16.8 132.4,19.1 132.2,21.5 132.0,23.9 131.7,26.4 131.5,28.8 131.2,31.4 130.9,33.9 130.5,36.5 130.1,39.3 129.7,42.0 129.2,44.5 128.7,47.0 128.3,49.4 127.8,51.8 127.3,54.0 126.8,56.2 126.4,58.3 125.9,60.4 125.4,62.5 125.0,64.6 124.6,66.3 124.2,68.2 123.8,70.1 123.3,72.2 122.9,74.3 122.4,76.5 121.9,78.8 121.4,81.0 120.9,83.4 120.3,85.8 119.8,88.2 119.1,90.6 118.5,93.0 117.8,95.5 117.1,98.1 116.1,101.0 115.1,104.0 114.1,106.8 113.1,109.5 112.1,112.2 111.1,114.6 110.2,117.0 109.2,119.2 108.3,121.3 107.5,123.3 106.7,125.0 105.6,127.4 103.4,131.9 100.6,136.7 98.4,140.0 97.6,141.2 96.9,142.3 33.8,101.8 35.2,99.5 36.5,97.7 36.9,97.1 37.1,96.8 37.9,95.1 38.3,94.3 38.9,92.8 39.6,91.3 40.3,89.8 40.9,88.2 41.6,86.5 42.3,84.8 43.0,83.1 43.6,81.4 44.2,79.7 44.8,78.0 45.3,76.3 45.7,75.0 46.1,73.5 46.5,71.9 46.9,70.2 47.4,68.4 47.8,66.5 48.2,64.6 48.7,62.6 49.1,60.6 49.6,58.6 50.0,56.6 50.4,54.6 50.8,52.6 51.3,50.6 51.7,48.6 52.2,46.3 52.7,44.1 53.2,42.0 53.6,40.0 54.0,38.1 54.4,36.3 54.8,34.6 55.1,32.8 55.4,31.1 55.7,29.4 56.0,27.6 56.3,25.7 56.5,24.2 56.7,22.6 56.9,20.8 57.1,18.8 57.3,16.8 57.5,14.7 57.7,12.5 57.9,10.4 58.1,8.2 58.3,6.1 58.4,4.0 58.6,2.0 58.8,0.1 59.0,-1.9 59.3,-4.0 59.8,-8.0 60.5,-11.7 61.2,-14.5 61.5,-15.5 61.8,-16.7Z" fill="#212121" filter="url(#b16)" style="mix-blend-mode:plus-lighter"/>
<path d="M102.7,-7.3 102.3,-5.4 101.9,-4.0 101.6,-2.9 101.3,-1.4 100.9,1.6 100.8,2.7 100.6,4.2 100.4,5.9 100.3,7.8 100.1,9.7 99.9,11.8 99.7,14.0 99.5,16.2 99.3,18.5 99.1,20.8 98.9,23.0 98.7,25.3 98.4,27.5 98.2,29.7 97.9,31.7 97.5,34.1 97.1,36.4 96.7,38.6 96.3,40.8 95.9,42.9 95.5,45.0 95.1,47.0 94.6,49.1 94.2,51.1 93.7,53.2 93.2,55.3 92.7,57.6 92.3,59.4 91.9,61.3 91.5,63.3 91.1,65.3 90.6,67.4 90.2,69.5 89.7,71.7 89.2,73.8 88.7,76.0 88.2,78.1 87.7,80.2 87.2,82.4 86.6,84.4 86.1,86.5 85.5,88.5 84.7,90.9 83.9,93.3 83.1,95.6 82.3,97.9 81.4,100.1 80.6,102.3 79.7,104.3 78.9,106.3 78.1,108.1 77.3,109.9 76.6,111.5 75.8,113.2 74.2,116.5 72.6,119.3 71.2,121.4 70.1,122.9 69.1,124.5 48.9,111.5 50.2,109.5 51.3,107.9 52.2,106.6 53.0,105.2 54.2,102.8 54.7,101.6 55.4,100.1 56.1,98.5 56.8,96.8 57.6,95.1 58.3,93.2 59.1,91.4 59.8,89.4 60.5,87.5 61.2,85.5 61.9,83.5 62.5,81.5 63.0,79.9 63.5,78.2 63.9,76.4 64.4,74.5 64.9,72.6 65.3,70.6 65.8,68.5 66.3,66.5 66.7,64.4 67.2,62.4 67.6,60.3 68.0,58.3 68.4,56.3 68.9,54.3 69.3,52.4 69.8,50.2 70.3,48.0 70.7,45.9 71.2,43.9 71.6,41.9 72.0,40.0 72.4,38.1 72.8,36.2 73.1,34.3 73.5,32.4 73.8,30.4 74.1,28.3 74.4,26.6 74.6,24.7 74.8,22.7 75.0,20.6 75.2,18.5 75.4,16.3 75.6,14.1 75.8,11.9 76.0,9.8 76.2,7.7 76.4,5.6 76.5,3.7 76.7,1.8 76.9,0.1 77.1,-1.6 77.6,-5.2 78.1,-7.9 78.6,-10.0 79.0,-11.2 79.3,-12.7Z" fill="#3b3b3b" filter="url(#b6)" style="mix-blend-mode:plus-lighter"/>
<path d="M95.2,-9.0 94.8,-7.3 94.4,-5.9 94.1,-4.5 93.7,-2.6 93.3,0.6 93.1,1.9 93.0,3.5 92.8,5.2 92.6,7.1 92.5,9.1 92.3,11.2 92.1,13.3 91.9,15.5 91.7,17.8 91.5,20.0 91.3,22.3 91.0,24.5 90.8,26.6 90.5,28.7 90.3,30.6 90.0,32.9 89.6,35.1 89.3,37.3 88.9,39.4 88.5,41.4 88.2,43.4 87.8,45.4 87.3,47.5 86.9,49.5 86.5,51.6 86.0,53.8 85.6,56.0 85.2,57.9 84.8,59.8 84.4,61.8 84.0,63.8 83.6,65.9 83.2,68.0 82.7,70.1 82.3,72.2 81.8,74.4 81.3,76.5 80.9,78.6 80.4,80.6 79.9,82.6 79.4,84.6 78.8,86.5 78.2,88.8 77.5,91.1 76.8,93.3 76.0,95.5 75.2,97.7 74.5,99.8 73.7,101.8 73.0,103.7 72.2,105.6 71.5,107.3 70.9,108.9 70.2,110.5 68.7,113.5 67.3,116.0 66.0,117.9 64.9,119.4 63.8,121.1 54.2,114.9 55.4,113.0 56.5,111.4 57.5,109.9 58.5,108.1 59.8,105.5 60.4,104.2 61.2,102.7 61.9,101.1 62.7,99.4 63.6,97.6 64.4,95.7 65.2,93.8 66.1,91.8 66.9,89.8 67.7,87.7 68.5,85.6 69.2,83.5 69.7,81.8 70.2,80.0 70.7,78.1 71.3,76.2 71.8,74.2 72.3,72.2 72.8,70.1 73.2,68.0 73.7,66.0 74.2,63.9 74.7,61.8 75.1,59.8 75.6,57.8 76.0,55.9 76.4,54.0 77.0,51.8 77.5,49.6 78.0,47.5 78.4,45.5 78.9,43.5 79.3,41.6 79.8,39.6 80.2,37.7 80.6,35.7 81.0,33.7 81.4,31.6 81.7,29.4 82.0,27.5 82.2,25.6 82.4,23.5 82.7,21.4 82.9,19.2 83.1,17.0 83.3,14.8 83.5,12.6 83.7,10.4 83.8,8.3 84.0,6.3 84.2,4.4 84.4,2.6 84.5,1.0 84.7,-0.6 85.2,-4.0 85.6,-6.3 86.1,-8.0 86.4,-9.4 86.8,-11.0Z" fill="#292929" filter="url(#b2_6)" style="mix-blend-mode:plus-lighter"/>
<path d="M96.7,172.5 96.0,174.2 95.4,176.0 94.4,178.6 93.0,181.9 91.4,185.5 89.7,188.7 88.2,191.4 86.7,193.8 85.5,195.9 84.3,197.8 83.3,199.6 82.5,200.9 81.6,202.5 80.7,204.2 79.6,206.0 78.6,207.9 77.4,209.9 76.2,212.0 75.0,214.0 74.0,215.7 72.9,217.5 71.8,219.4 70.5,221.5 69.0,223.8 67.4,226.3 65.6,228.8 63.7,231.4 61.7,233.9 59.7,236.2 57.8,238.4 55.8,240.6 53.9,242.6 52.0,244.6 50.1,246.4 48.3,248.1 46.8,249.6 45.3,251.1 43.5,252.8 41.5,254.6 39.2,256.6 36.6,258.6 33.9,260.7 31.0,262.7 29.1,264.0 27.3,265.2 25.4,266.4 23.5,267.6 21.6,268.8 19.7,269.9 17.8,271.1 15.9,272.2 14.0,273.4 12.1,274.5 10.2,275.6 8.4,276.7 6.7,277.8 5.0,278.8 3.3,279.9 -28.0,228.7 -26.2,227.6 -24.4,226.4 -22.5,225.3 -20.6,224.2 -18.7,223.0 -16.8,221.9 -15.0,220.8 -13.2,219.7 -11.5,218.7 -9.8,217.7 -8.2,216.7 -6.8,215.8 -5.4,214.9 -4.3,214.1 -3.3,213.5 -1.5,212.2 -0.1,211.2 1.0,210.3 1.9,209.5 2.8,208.7 3.9,207.7 5.2,206.4 6.6,205.0 8.0,203.6 9.4,202.3 10.7,201.0 12.0,199.6 13.2,198.3 14.3,197.0 15.3,195.8 16.2,194.7 17.0,193.6 17.8,192.5 18.6,191.3 19.5,189.9 20.4,188.4 21.4,186.7 22.5,184.9 23.6,183.1 24.5,181.5 25.4,180.0 26.4,178.3 27.3,176.6 28.3,174.9 29.3,173.1 30.3,171.3 31.4,169.4 32.8,167.1 34.1,164.8 35.3,162.9 36.3,161.2 37.1,159.8 37.6,158.9 38.1,157.8 38.5,156.7 39.1,155.3 39.8,153.2 40.6,151.1Z" fill="#212121" filter="url(#b16)" style="mix-blend-mode:plus-lighter"/>
<path d="M75.2,164.3 74.5,166.2 73.8,168.1 73.0,170.2 72.0,172.7 70.8,175.3 69.5,177.6 68.3,179.8 67.0,181.9 65.8,184.0 64.6,186.0 63.4,188.0 62.5,189.6 61.6,191.2 60.6,193.0 59.6,194.8 58.6,196.6 57.5,198.5 56.4,200.3 55.3,202.2 54.2,203.9 53.2,205.7 52.1,207.5 50.9,209.4 49.7,211.3 48.4,213.3 47.0,215.3 45.5,217.3 43.9,219.3 42.3,221.2 40.7,223.1 39.0,224.9 37.3,226.6 35.7,228.4 34.0,230.0 32.3,231.6 30.8,233.1 29.4,234.5 27.9,235.9 26.3,237.3 24.5,238.8 22.5,240.4 20.3,242.1 17.9,243.8 16.3,244.9 14.7,245.9 13.1,247.0 11.4,248.1 9.6,249.2 7.8,250.3 5.9,251.4 4.1,252.5 2.2,253.7 0.3,254.8 -1.6,255.9 -3.4,257.0 -5.2,258.1 -7.0,259.2 -8.7,260.2 -21.3,239.8 -19.5,238.7 -17.6,237.6 -15.8,236.4 -13.9,235.3 -12.0,234.2 -10.1,233.1 -8.3,232.0 -6.5,230.9 -4.7,229.8 -3.0,228.7 -1.4,227.7 0.2,226.8 1.6,225.8 3.0,224.9 4.1,224.2 6.2,222.7 7.8,221.5 9.2,220.3 10.5,219.3 11.6,218.2 12.8,217.1 14.2,215.8 15.7,214.4 17.2,212.9 18.6,211.5 20.1,210.0 21.5,208.5 22.8,207.0 24.1,205.5 25.4,204.1 26.5,202.7 27.6,201.3 28.6,199.8 29.6,198.3 30.6,196.7 31.6,195.1 32.6,193.4 33.6,191.6 34.7,189.8 35.7,188.1 36.7,186.5 37.7,184.7 38.7,183.0 39.6,181.2 40.6,179.5 41.6,177.7 42.6,176.0 44.0,173.7 45.3,171.6 46.5,169.6 47.6,167.7 48.5,166.1 49.2,164.7 50.0,163.1 50.6,161.5 51.3,159.8 52.0,157.8 52.8,155.7Z" fill="#3d3d3d" filter="url(#b6)" style="mix-blend-mode:plus-lighter"/>
<path d="M69.4,162.1 68.8,164.0 68.2,166.0 67.6,168.1 66.8,170.4 65.8,172.9 64.8,175.0 63.7,177.2 62.6,179.3 61.5,181.4 60.3,183.5 59.2,185.6 58.4,187.2 57.5,189.0 56.6,190.7 55.7,192.6 54.8,194.4 53.8,196.3 52.8,198.2 51.8,200.1 50.8,201.9 49.8,203.7 48.8,205.5 47.8,207.4 46.7,209.4 45.5,211.3 44.2,213.3 42.8,215.3 41.4,217.2 39.9,219.1 38.4,221.0 36.8,222.8 35.3,224.6 33.7,226.4 32.1,228.1 30.5,229.7 29.1,231.2 27.7,232.7 26.3,234.1 24.8,235.6 23.1,237.1 21.2,238.7 19.1,240.4 16.8,242.3 15.2,243.3 13.7,244.3 12.0,245.4 10.3,246.5 8.6,247.5 6.8,248.6 4.9,249.8 3.1,250.9 1.2,252.0 -0.7,253.1 -2.6,254.3 -4.4,255.4 -6.2,256.5 -8.0,257.5 -9.7,258.6 -20.3,241.4 -18.5,240.3 -16.6,239.2 -14.8,238.1 -12.9,237.0 -11.0,235.8 -9.2,234.7 -7.3,233.6 -5.5,232.5 -3.7,231.4 -2.0,230.4 -0.3,229.4 1.2,228.4 2.7,227.4 4.0,226.5 5.2,225.7 7.4,224.4 9.1,223.2 10.6,222.1 12.0,221.0 13.3,220.0 14.5,218.9 16.0,217.6 17.5,216.3 19.1,214.9 20.6,213.4 22.2,212.0 23.7,210.5 25.1,209.1 26.6,207.6 27.9,206.1 29.2,204.7 30.4,203.3 31.5,201.8 32.6,200.3 33.7,198.7 34.8,197.1 35.9,195.4 37.1,193.6 38.2,191.9 39.3,190.3 40.4,188.6 41.5,186.9 42.5,185.2 43.6,183.5 44.7,181.7 45.7,180.1 46.8,178.4 48.2,176.2 49.6,174.2 50.9,172.2 52.1,170.4 53.2,168.7 54.2,167.1 55.2,165.3 56.1,163.6 56.9,161.8 57.7,159.9 58.6,157.9Z" fill="#303030" filter="url(#b2_6)" style="mix-blend-mode:plus-lighter"/>
<ellipse cx="22" cy="185" rx="30" ry="40" transform="rotate(-30 22 185)" fill="#0f0f0f" filter="url(#b15)" style="mix-blend-mode:plus-lighter"/>
<path d="M83.4,50.6 82.9,52.6 82.4,54.5 81.9,56.5 81.4,58.4 80.9,60.3 80.4,62.3 79.9,64.2 79.4,66.3 78.9,68.4 78.4,70.5 78.0,72.4 77.6,74.5 77.2,76.6 76.8,78.8 76.4,81.0 76.0,83.3 75.6,85.5 75.2,87.7 74.8,89.8 74.3,91.9 73.9,93.8 73.4,95.7 72.7,98.1 71.9,100.3 71.1,102.3 70.3,104.1 69.6,105.9 68.8,107.5 68.1,109.2 67.3,111.0 62.7,109.0 63.5,107.2 64.2,105.4 65.0,103.8 65.8,102.1 66.5,100.4 67.2,98.6 67.9,96.6 68.6,94.3 69.0,92.7 69.5,90.8 69.9,88.8 70.3,86.7 70.7,84.6 71.1,82.4 71.5,80.1 71.9,77.9 72.3,75.7 72.7,73.5 73.1,71.4 73.6,69.5 74.1,67.2 74.6,65.1 75.1,63.0 75.6,61.0 76.1,59.1 76.6,57.1 77.1,55.2 77.6,53.3 78.1,51.4 78.6,49.4Z" fill="#1a1a1a" filter="url(#b1_5)" style="mix-blend-mode:plus-lighter"/>
<ellipse cx="71" cy="94" rx="7" ry="2.2" transform="rotate(-66 71 94)" fill="#424242" filter="url(#b1)" style="mix-blend-mode:plus-lighter"/>
<ellipse cx="71" cy="94" rx="2.5" ry="0.9" transform="rotate(-66 71 94)" fill="#242424" filter="url(#b0_6)" style="mix-blend-mode:plus-lighter"/>
<ellipse cx="52" cy="188" rx="15" ry="3.5" transform="rotate(-58 52 188)" fill="#1f1f1f" filter="url(#b2)" style="mix-blend-mode:plus-lighter"/>
<ellipse cx="62" cy="142" rx="10" ry="16" transform="rotate(0 62 142)" fill="#262626" filter="url(#b7)" style="mix-blend-mode:plus-lighter"/>
</g>
<rect x="0" y="69.30" width="2.8" height="1.9" fill="#fff"/>
<rect x="130.80" y="69.30" width="2.8" height="1.9" fill="#fff"/>
<rect x="0" y="139.55" width="2.8" height="1.9" fill="#fff"/>
<rect x="130.80" y="139.55" width="2.8" height="1.9" fill="#fff"/>
<rect x="0" y="209.80" width="2.8" height="1.9" fill="#fff"/>
<rect x="130.80" y="209.80" width="2.8" height="1.9" fill="#fff"/>
</svg>
<svg x="639.20" y="372.80" width="133.50" height="281.00" viewBox="0 0 133.50 281.00" overflow="hidden">
<g filter="url(#cm)"><rect x="-1" y="-1" width="135.50" height="283.00" fill="#000"/>
<ellipse cx="80" cy="-20" rx="75" ry="60" transform="rotate(0 80 -20)" fill="#1a1a1a" filter="url(#b20)" style="mix-blend-mode:plus-lighter"/>
<ellipse cx="62" cy="120" rx="55" ry="100" transform="rotate(0 62 120)" fill="#131313" filter="url(#b25)" style="mix-blend-mode:plus-lighter"/>
<path d="M146.7,1.8 146.2,4.1 145.8,5.8 145.8,5.8 145.7,6.1 145.3,8.5 145.3,9.0 145.1,10.1 145.0,11.5 144.8,13.1 144.5,14.9 144.3,16.9 144.0,19.0 143.8,21.2 143.5,23.6 143.2,26.0 142.8,28.5 142.5,31.1 142.1,33.7 141.7,36.4 141.2,39.1 140.8,41.5 140.4,43.9 140.0,46.2 139.5,48.6 139.1,50.9 138.6,53.2 138.1,55.5 137.7,57.8 137.2,60.1 136.7,62.3 136.3,64.4 135.8,66.5 135.4,68.6 135.0,70.5 134.6,72.4 134.3,74.2 133.9,75.8 133.5,78.1 133.0,80.3 132.6,82.5 132.2,84.7 131.8,86.8 131.4,89.0 131.0,91.2 130.5,93.4 130.1,95.6 129.6,97.8 129.1,100.1 128.5,102.6 127.8,105.6 127.0,108.6 126.3,111.3 125.6,113.6 125.0,115.7 124.5,117.4 124.0,119.0 123.6,120.4 123.2,122.1 122.8,123.6 122.3,125.3 121.9,127.1 121.4,129.0 120.9,130.9 120.4,132.8 119.9,134.8 119.4,136.8 118.9,138.8 118.5,140.8 118.0,142.8 117.5,144.8 117.1,146.6 116.6,148.4 116.2,150.2 115.8,152.2 115.3,154.1 114.9,156.1 114.4,158.2 113.9,160.2 113.5,162.3 113.0,164.4 112.5,166.6 112.0,168.7 111.5,170.7 111.1,172.5 110.7,174.3 110.2,176.3 109.8,178.3 109.3,180.5 108.7,182.8 108.2,185.3 107.5,187.8 106.8,190.5 106.0,193.4 105.2,196.3 104.3,199.1 103.4,201.7 102.6,204.0 101.7,206.5 100.7,209.2 99.6,212.0 98.4,215.0 97.1,218.1 95.6,221.2 94.0,224.5 92.2,227.7 90.4,230.8 88.9,233.4 87.4,235.8 85.9,238.1 84.3,240.5 82.7,242.8 81.1,245.1 79.4,247.4 77.7,249.6 76.0,251.9 74.3,254.1 72.5,256.3 70.6,258.5 68.7,260.7 66.8,262.9 64.7,265.1 62.6,267.3 60.5,269.5 58.4,271.6 56.2,273.7 54.0,275.7 51.8,277.6 49.6,279.5 47.4,281.4 45.2,283.2 43.0,285.0 40.7,286.7 38.2,288.6 35.3,290.7 32.2,292.7 29.2,294.5 26.4,296.2 23.8,297.6 21.5,298.9 19.3,300.0 17.4,301.0 15.8,301.9 14.4,302.6 13.3,303.2 11.9,304.0 -29.6,229.8 -27.7,228.7 -25.6,227.6 -23.7,226.6 -21.8,225.6 -20.1,224.7 -18.6,223.9 -17.1,223.1 -15.8,222.4 -14.7,221.7 -13.6,221.1 -12.6,220.4 -11.6,219.7 -10.5,218.9 -9.3,217.9 -8.1,217.0 -6.8,216.0 -5.6,214.9 -4.4,213.9 -3.2,212.8 -2.0,211.7 -0.8,210.6 0.4,209.4 1.5,208.2 2.6,207.1 3.7,205.9 4.7,204.8 5.8,203.6 6.8,202.3 7.9,201.0 9.0,199.6 10.0,198.3 11.1,196.9 12.1,195.5 13.1,194.1 14.0,192.7 14.9,191.4 15.7,190.1 16.5,188.9 17.1,187.8 17.9,186.5 18.5,185.3 19.1,184.1 19.7,182.9 20.2,181.8 20.7,180.5 21.2,179.2 21.8,177.7 22.3,176.1 22.9,174.4 23.5,172.6 23.9,171.3 24.3,169.9 24.7,168.5 25.1,166.9 25.6,165.2 26.0,163.5 26.4,161.6 26.8,159.7 27.3,157.6 27.8,155.5 28.3,153.3 28.8,151.1 29.3,149.2 29.7,147.3 30.1,145.4 30.6,143.4 31.1,141.4 31.5,139.4 32.0,137.4 32.4,135.3 32.9,133.2 33.4,131.2 33.9,129.1 34.3,127.0 34.8,125.0 35.3,122.9 35.9,120.7 36.4,118.6 36.9,116.4 37.4,114.3 38.0,112.2 38.5,110.2 39.0,108.1 39.5,106.1 40.0,104.2 40.5,102.2 41.0,100.3 41.7,97.8 42.4,95.4 43.0,93.3 43.5,91.4 44.0,89.7 44.5,88.1 44.9,86.6 45.4,85.0 45.8,83.1 46.1,81.7 46.5,80.1 46.8,78.4 47.2,76.7 47.5,74.8 47.9,72.9 48.3,70.8 48.7,68.7 49.1,66.5 49.6,64.1 50.1,61.7 50.6,59.1 51.0,57.2 51.4,55.3 51.8,53.3 52.2,51.2 52.6,49.1 53.1,47.0 53.5,44.9 54.0,42.8 54.4,40.7 54.8,38.6 55.3,36.5 55.7,34.4 56.1,32.4 56.4,30.4 56.8,28.5 57.1,26.7 57.4,25.0 57.7,23.1 58.0,21.2 58.3,19.1 58.6,17.1 58.9,15.0 59.1,12.9 59.4,10.8 59.7,8.8 59.9,6.7 60.1,4.8 60.4,2.8 60.6,0.9 60.8,-0.9 61.1,-2.7 61.4,-4.6 62.0,-8.4 62.6,-11.6 63.1,-13.9 63.4,-15.1 63.7,-16.4Z" fill="#212121" filter="url(#b16)" style="mix-blend-mode:plus-lighter"/>
<path d="M104.7,-7.4 104.3,-5.6 104.0,-4.2 103.7,-3.0 103.4,-1.2 102.9,1.8 102.7,3.1 102.5,4.5 102.3,6.1 102.1,7.9 101.8,9.8 101.6,11.7 101.4,13.8 101.1,16.0 100.8,18.2 100.5,20.4 100.2,22.7 99.9,25.0 99.6,27.4 99.2,29.7 98.8,32.0 98.5,34.0 98.1,36.1 97.7,38.2 97.3,40.4 96.9,42.6 96.4,44.8 96.0,46.9 95.5,49.1 95.1,51.3 94.6,53.5 94.2,55.6 93.7,57.7 93.3,59.8 92.9,61.8 92.5,63.7 92.1,65.6 91.8,67.4 91.3,69.8 90.8,72.1 90.4,74.4 90.0,76.6 89.6,78.7 89.2,80.8 88.8,82.9 88.4,84.9 88.0,86.9 87.5,88.9 87.1,90.8 86.7,92.7 86.1,95.2 85.5,97.5 84.9,99.6 84.3,101.5 83.8,103.4 83.2,105.2 82.7,107.1 82.2,109.0 81.6,111.1 81.2,112.8 80.7,114.6 80.2,116.5 79.7,118.4 79.2,120.4 78.7,122.4 78.2,124.4 77.7,126.5 77.2,128.6 76.7,130.7 76.2,132.7 75.7,134.8 75.2,136.7 74.8,138.6 74.3,140.6 73.9,142.6 73.4,144.6 72.9,146.6 72.5,148.7 72.0,150.7 71.5,152.8 71.1,154.8 70.6,156.8 70.1,158.8 69.7,160.8 69.2,162.8 68.7,164.8 68.3,166.8 67.8,168.9 67.4,171.0 66.9,173.0 66.4,175.1 65.9,177.3 65.3,179.4 64.7,181.5 64.1,183.6 63.4,185.7 62.7,187.9 62.0,189.9 61.3,192.0 60.5,194.0 59.7,196.1 58.8,198.2 57.9,200.3 56.9,202.4 55.8,204.6 54.6,206.8 53.4,209.1 52.3,210.9 51.1,212.7 50.0,214.5 48.7,216.3 47.5,218.1 46.2,220.0 44.8,221.8 43.5,223.6 42.1,225.4 40.7,227.2 39.3,229.0 37.8,230.7 36.4,232.4 34.9,234.0 33.3,235.8 31.7,237.4 30.1,239.1 28.4,240.7 26.8,242.3 25.1,243.9 23.4,245.4 21.7,246.9 20.0,248.3 18.3,249.7 16.5,251.1 14.8,252.4 13.0,253.7 11.0,255.1 9.0,256.5 7.0,257.7 5.0,258.9 3.1,259.9 1.2,261.0 -0.6,261.9 -2.4,262.9 -4.2,263.8 -5.8,264.7 -7.5,265.5 -9.1,266.5 -20.9,245.5 -19.0,244.5 -17.1,243.5 -15.3,242.5 -13.5,241.6 -11.8,240.7 -10.1,239.8 -8.5,238.9 -6.9,238.0 -5.4,237.1 -3.9,236.2 -2.5,235.3 -1.0,234.3 0.3,233.3 1.8,232.1 3.2,231.0 4.7,229.8 6.1,228.6 7.5,227.4 9.0,226.1 10.4,224.8 11.8,223.5 13.1,222.1 14.5,220.8 15.8,219.4 17.1,218.0 18.3,216.6 19.5,215.2 20.7,213.7 21.9,212.2 23.2,210.7 24.4,209.1 25.5,207.6 26.7,206.0 27.8,204.4 28.9,202.8 29.9,201.3 30.9,199.8 31.8,198.3 32.6,196.9 33.6,195.2 34.5,193.6 35.3,192.0 36.1,190.4 36.8,188.8 37.4,187.2 38.1,185.5 38.7,183.8 39.3,182.0 40.0,180.2 40.6,178.3 41.1,176.6 41.6,174.9 42.1,173.1 42.6,171.3 43.1,169.5 43.5,167.6 44.0,165.6 44.4,163.6 44.9,161.6 45.3,159.5 45.8,157.4 46.3,155.2 46.8,153.3 47.2,151.4 47.7,149.4 48.1,147.4 48.6,145.4 49.1,143.4 49.5,141.3 50.0,139.3 50.5,137.2 50.9,135.2 51.4,133.2 51.9,131.2 52.3,129.2 52.8,127.1 53.4,125.0 53.9,122.9 54.4,120.8 54.9,118.7 55.4,116.6 55.9,114.5 56.4,112.5 56.9,110.6 57.4,108.6 57.9,106.8 58.4,104.9 59.0,102.6 59.6,100.4 60.2,98.4 60.8,96.5 61.3,94.8 61.8,93.0 62.3,91.2 62.8,89.4 63.3,87.3 63.7,85.6 64.1,83.9 64.4,82.1 64.8,80.2 65.2,78.3 65.6,76.3 66.0,74.2 66.4,72.1 66.8,69.9 67.3,67.5 67.7,65.1 68.2,62.6 68.6,60.8 69.0,58.9 69.4,56.9 69.8,54.9 70.3,52.8 70.7,50.7 71.1,48.6 71.6,46.5 72.0,44.3 72.5,42.2 72.9,40.0 73.3,37.9 73.7,35.8 74.1,33.8 74.5,31.8 74.8,29.9 75.2,28.0 75.5,25.9 75.8,23.8 76.1,21.7 76.4,19.5 76.7,17.3 77.0,15.2 77.3,13.0 77.5,10.9 77.8,8.9 78.0,6.9 78.2,5.0 78.5,3.1 78.7,1.4 78.9,-0.2 79.1,-1.8 79.7,-5.3 80.2,-7.9 80.6,-9.7 80.9,-11.0 81.3,-12.6Z" fill="#3b3b3b" filter="url(#b6)" style="mix-blend-mode:plus-lighter"/>
<path d="M97.6,-9.0 97.2,-7.3 96.8,-5.9 96.5,-4.5 96.1,-2.5 95.6,0.7 95.4,2.1 95.2,3.6 95.0,5.2 94.8,7.0 94.6,8.9 94.3,10.9 94.1,12.9 93.8,15.1 93.6,17.3 93.3,19.5 93.0,21.7 92.7,24.0 92.3,26.3 92.0,28.5 91.6,30.8 91.3,32.8 90.9,34.8 90.5,36.9 90.1,39.0 89.7,41.1 89.3,43.3 88.8,45.5 88.4,47.7 87.9,49.8 87.5,52.0 87.0,54.1 86.6,56.2 86.2,58.3 85.7,60.3 85.3,62.3 85.0,64.1 84.6,65.9 84.1,68.4 83.6,70.7 83.2,73.0 82.8,75.2 82.4,77.4 82.0,79.4 81.6,81.5 81.2,83.5 80.8,85.4 80.4,87.3 80.0,89.2 79.6,91.1 78.9,93.4 78.3,95.5 77.8,97.5 77.2,99.4 76.6,101.3 76.0,103.1 75.4,105.0 74.8,106.9 74.2,109.1 73.7,110.9 73.2,112.7 72.7,114.6 72.2,116.5 71.6,118.5 71.1,120.5 70.5,122.5 70.0,124.6 69.5,126.7 68.9,128.8 68.4,130.8 67.9,132.9 67.4,134.8 66.9,136.8 66.5,138.8 66.0,140.8 65.6,142.8 65.1,144.9 64.6,146.9 64.2,148.9 63.7,151.0 63.2,153.0 62.8,155.0 62.3,157.0 61.9,158.9 61.5,161.0 61.1,163.1 60.8,165.2 60.5,167.2 60.1,169.3 59.8,171.4 59.4,173.4 59.0,175.5 58.6,177.6 58.1,179.6 57.7,181.7 57.1,183.7 56.6,185.8 56.1,187.9 55.5,189.9 54.9,191.9 54.3,193.9 53.7,196.0 52.9,198.0 52.1,200.1 51.2,202.3 50.3,204.4 49.2,206.6 48.3,208.4 47.3,210.2 46.3,212.1 45.3,213.9 44.2,215.8 43.0,217.7 41.8,219.6 40.6,221.5 39.4,223.3 38.1,225.2 36.9,227.0 35.6,228.8 34.3,230.6 32.9,232.3 31.5,234.0 30.0,235.8 28.5,237.5 26.9,239.2 25.4,240.8 23.8,242.4 22.2,244.0 20.6,245.5 18.9,247.1 17.3,248.5 15.7,250.0 14.0,251.4 12.3,252.7 10.4,254.1 8.4,255.5 6.4,256.7 4.4,257.8 2.5,258.9 0.6,259.9 -1.2,260.9 -3.0,261.8 -4.7,262.7 -6.4,263.6 -8.0,264.5 -9.7,265.4 -20.3,246.6 -18.4,245.6 -16.6,244.5 -14.7,243.6 -13.0,242.6 -11.2,241.7 -9.5,240.8 -7.9,240.0 -6.3,239.1 -4.7,238.2 -3.3,237.2 -1.8,236.3 -0.3,235.3 1.1,234.3 2.7,233.3 4.2,232.2 5.7,231.1 7.2,229.9 8.8,228.8 10.3,227.6 11.8,226.3 13.3,225.1 14.7,223.8 16.2,222.4 17.6,221.1 19.1,219.7 20.4,218.4 21.7,217.1 23.1,215.7 24.5,214.3 25.9,212.8 27.2,211.3 28.5,209.8 29.9,208.3 31.1,206.7 32.4,205.2 33.6,203.7 34.7,202.2 35.8,200.7 36.8,199.4 38.0,197.6 39.1,195.9 40.1,194.3 41.0,192.6 41.9,191.0 42.8,189.3 43.6,187.6 44.4,185.9 45.2,184.1 46.1,182.2 46.9,180.3 47.6,178.6 48.2,176.8 48.8,174.9 49.4,173.1 50.0,171.2 50.6,169.2 51.2,167.3 51.8,165.3 52.3,163.3 52.9,161.2 53.5,159.2 54.1,157.1 54.6,155.2 55.1,153.2 55.5,151.2 56.0,149.2 56.4,147.2 56.9,145.1 57.4,143.1 57.8,141.1 58.3,139.0 58.8,137.0 59.2,135.0 59.7,133.0 60.1,131.1 60.6,129.0 61.1,126.9 61.6,124.8 62.1,122.7 62.6,120.6 63.0,118.5 63.5,116.5 64.0,114.4 64.5,112.5 64.9,110.6 65.4,108.7 65.8,106.9 66.4,104.6 66.9,102.5 67.5,100.6 68.0,98.7 68.5,96.9 69.0,95.1 69.5,93.2 70.0,91.1 70.4,88.9 70.8,87.2 71.2,85.4 71.6,83.5 72.0,81.6 72.4,79.7 72.8,77.7 73.2,75.6 73.6,73.5 74.0,71.2 74.5,68.9 74.9,66.6 75.4,64.1 75.8,62.3 76.2,60.4 76.6,58.4 77.0,56.4 77.4,54.3 77.9,52.2 78.3,50.1 78.8,47.9 79.2,45.8 79.6,43.6 80.1,41.5 80.5,39.3 80.9,37.2 81.3,35.1 81.7,33.1 82.1,31.1 82.4,29.2 82.7,27.1 83.1,24.9 83.4,22.7 83.7,20.5 84.0,18.3 84.3,16.1 84.5,13.9 84.8,11.8 85.0,9.8 85.3,7.8 85.5,5.9 85.7,4.1 85.9,2.4 86.2,0.8 86.4,-0.7 86.9,-4.1 87.4,-6.4 87.7,-8.0 88.1,-9.4 88.4,-11.0Z" fill="#292929" filter="url(#b2_6)" style="mix-blend-mode:plus-lighter"/>
<path d="M91.0,15.4 90.6,17.4 90.2,19.3 89.8,21.2 89.4,23.1 89.0,25.0 88.6,26.9 88.2,28.9 87.8,30.9 87.4,33.1 87.0,35.4 86.6,37.2 86.3,39.1 85.9,41.1 85.5,43.2 85.1,45.3 84.7,47.4 84.3,49.6 83.9,51.7 83.5,53.9 83.1,56.1 82.7,58.2 82.4,60.3 82.0,62.4 81.6,64.4 81.2,66.4 80.8,68.4 80.4,70.5 80.0,72.5 79.7,74.4 79.3,76.4 78.9,78.4 78.5,80.4 78.1,82.4 77.7,84.4 77.3,86.4 77.0,88.4 73.0,87.6 73.4,85.6 73.8,83.6 74.2,81.6 74.6,79.7 75.0,77.7 75.3,75.7 75.7,73.7 76.1,71.7 76.5,69.7 76.9,67.7 77.3,65.7 77.7,63.7 78.0,61.6 78.4,59.6 78.8,57.5 79.2,55.3 79.6,53.2 80.0,51.0 80.4,48.8 80.8,46.7 81.2,44.6 81.6,42.5 81.9,40.4 82.3,38.4 82.7,36.5 83.0,34.6 83.5,32.3 83.9,30.2 84.3,28.1 84.7,26.1 85.1,24.2 85.5,22.3 85.9,20.4 86.3,18.5 86.6,16.6 87.0,14.6Z" fill="#1a1a1a" filter="url(#b1_6)" style="mix-blend-mode:plus-lighter"/>
<ellipse cx="14" cy="150" rx="26" ry="70" transform="rotate(-10 14 150)" fill="#171717" filter="url(#b18)" style="mix-blend-mode:plus-lighter"/>
<ellipse cx="71" cy="106" rx="17" ry="3.6" transform="rotate(-70 71 106)" fill="#424242" filter="url(#b1)" style="mix-blend-mode:plus-lighter"/>
<ellipse cx="71" cy="106" rx="12" ry="2" transform="rotate(-70 71 106)" fill="#242424" filter="url(#b0_6)" style="mix-blend-mode:plus-lighter"/>
<ellipse cx="47" cy="198" rx="10" ry="2.5" transform="rotate(-60 47 198)" fill="#1a1a1a" filter="url(#b2)" style="mix-blend-mode:plus-lighter"/>
</g>
<rect x="0" y="69.30" width="2.8" height="1.9" fill="#fff"/>
<rect x="130.70" y="69.30" width="2.8" height="1.9" fill="#fff"/>
<rect x="0" y="139.55" width="2.8" height="1.9" fill="#fff"/>
<rect x="130.70" y="139.55" width="2.8" height="1.9" fill="#fff"/>
<rect x="0" y="209.80" width="2.8" height="1.9" fill="#fff"/>
<rect x="130.70" y="209.80" width="2.8" height="1.9" fill="#fff"/>
</svg>
<svg x="780.40" y="372.80" width="133.60" height="281.00" viewBox="0 0 133.60 281.00" overflow="hidden">
<g filter="url(#cm)"><rect x="-1" y="-1" width="135.60" height="283.00" fill="#000"/>
<ellipse cx="80" cy="-20" rx="75" ry="60" transform="rotate(0 80 -20)" fill="#1a1a1a" filter="url(#b20)" style="mix-blend-mode:plus-lighter"/>
<ellipse cx="62" cy="120" rx="55" ry="100" transform="rotate(0 62 120)" fill="#131313" filter="url(#b25)" style="mix-blend-mode:plus-lighter"/>
<path d="M152.6,2.8 152.1,5.2 151.7,7.0 151.6,7.2 151.6,7.2 151.3,8.9 151.3,9.2 151.2,10.4 151.0,11.9 150.8,13.6 150.6,15.6 150.3,17.8 150.1,20.1 149.8,22.6 149.5,25.2 149.1,27.9 148.8,30.8 148.4,33.5 148.1,35.7 147.8,37.8 147.4,39.9 147.1,42.0 146.8,44.2 146.4,46.3 146.0,48.5 145.7,50.7 145.3,52.9 144.9,55.0 144.6,57.2 144.2,59.4 143.8,61.5 143.4,63.7 143.0,65.8 142.6,68.0 142.2,70.1 141.8,72.3 141.4,74.5 141.0,76.6 140.5,78.8 140.1,81.0 139.7,83.2 139.2,85.3 138.8,87.5 138.4,89.6 137.9,91.7 137.5,93.7 137.1,95.8 136.6,97.9 136.0,100.4 135.5,102.9 134.9,105.4 134.3,107.7 133.8,110.0 133.3,112.1 132.7,114.3 132.2,116.3 131.7,118.3 131.3,120.2 130.8,122.1 130.3,124.0 129.9,125.9 129.4,127.9 128.9,129.9 128.5,132.0 128.0,134.1 127.5,136.2 127.0,138.4 126.4,140.7 125.9,143.0 125.3,145.3 124.7,147.7 124.0,150.2 123.3,152.8 122.6,155.4 121.9,157.9 121.2,160.2 120.6,162.4 120.0,164.5 119.4,166.4 118.9,168.2 118.4,169.8 118.0,171.4 117.7,172.7 117.4,174.0 117.1,175.1 116.8,176.4 116.5,177.9 116.2,179.6 115.8,181.5 115.5,183.5 115.1,185.7 114.6,188.1 114.2,190.6 113.6,193.3 113.0,196.2 112.4,198.9 111.8,201.2 111.3,203.2 110.8,205.6 110.1,208.2 109.3,211.2 108.4,214.4 107.3,217.9 106.0,221.6 104.5,225.4 103.0,228.9 101.8,231.7 100.6,234.2 99.4,236.7 98.1,239.2 96.8,241.7 95.5,244.3 94.0,246.8 92.5,249.4 91.0,252.0 89.3,254.6 87.7,257.2 85.9,259.8 84.2,262.4 82.6,264.6 81.1,266.6 79.6,268.7 78.0,270.8 76.4,272.8 74.8,274.9 73.1,277.0 71.4,279.1 69.6,281.1 67.8,283.2 66.0,285.3 64.1,287.3 62.2,289.4 60.2,291.5 58.2,293.6 56.5,295.4 54.8,297.1 53.0,298.9 51.3,300.5 49.5,302.2 47.8,303.8 46.1,305.4 44.4,307.0 42.7,308.6 41.1,310.1 39.4,311.6 37.8,313.1 36.2,314.5 34.6,315.9 33.0,317.3 31.5,318.7 30.1,320.1 28.6,321.4 27.3,322.6 25.8,324.0 -35.4,258.0 -33.9,256.6 -32.3,255.1 -30.6,253.6 -29.0,252.1 -27.4,250.7 -25.8,249.2 -24.2,247.8 -22.7,246.4 -21.1,245.0 -19.6,243.6 -18.1,242.2 -16.6,240.9 -15.2,239.5 -13.8,238.2 -12.5,237.0 -11.2,235.7 -9.9,234.5 -8.8,233.4 -7.7,232.3 -6.6,231.2 -5.2,229.7 -3.8,228.2 -2.4,226.7 -1.1,225.3 0.1,223.9 1.3,222.5 2.4,221.2 3.5,219.9 4.6,218.5 5.6,217.2 6.6,215.9 7.6,214.7 8.6,213.4 9.5,212.1 10.4,210.8 11.4,209.4 12.4,208.0 13.3,206.5 14.1,205.1 15.0,203.7 15.8,202.3 16.6,200.9 17.3,199.5 18.0,198.1 18.7,196.8 19.4,195.5 20.0,194.1 20.5,193.0 21.1,191.6 21.5,190.5 21.9,189.5 22.2,188.3 22.6,187.1 23.0,185.7 23.4,184.1 23.8,182.3 24.3,180.2 24.8,178.1 25.2,176.5 25.5,175.0 25.8,173.3 26.2,171.5 26.5,169.6 26.9,167.5 27.3,165.3 27.7,163.0 28.2,160.6 28.7,158.1 29.2,155.6 29.8,153.0 30.4,150.5 31.1,148.1 31.7,145.7 32.4,143.4 33.0,141.2 33.7,139.0 34.3,136.9 34.9,134.9 35.4,132.9 36.0,131.0 36.5,129.2 37.0,127.4 37.5,125.5 37.9,123.6 38.4,121.6 38.9,119.7 39.4,117.7 39.9,115.6 40.3,113.6 40.8,111.5 41.3,109.4 41.8,107.3 42.3,105.2 42.8,103.0 43.4,100.8 43.9,98.7 44.4,96.7 44.9,94.6 45.4,92.6 45.9,90.6 46.4,88.7 46.8,86.7 47.3,84.7 47.8,82.7 48.2,80.7 48.7,78.6 49.1,76.8 49.5,75.0 49.9,73.1 50.3,71.3 50.7,69.3 51.0,67.4 51.4,65.4 51.8,63.4 52.2,61.4 52.6,59.5 53.0,57.5 53.4,55.5 53.8,53.5 54.1,51.5 54.5,49.6 54.8,47.6 55.2,45.7 55.6,43.7 55.9,41.7 56.3,39.7 56.6,37.7 56.9,35.7 57.3,33.8 57.6,31.8 57.9,29.9 58.2,27.9 58.5,26.1 58.8,24.2 59.1,22.4 59.3,20.7 59.6,18.7 59.9,16.6 60.1,14.5 60.4,12.3 60.6,10.1 60.9,8.0 61.1,5.8 61.3,3.7 61.6,1.7 61.8,-0.3 62.0,-2.3 62.3,-4.4 62.9,-8.0 63.5,-11.2 64.0,-13.6 64.4,-14.9 64.7,-16.4Z" fill="#212121" filter="url(#b16)" style="mix-blend-mode:plus-lighter"/>
<path d="M105.7,-7.4 105.3,-5.6 104.9,-4.0 104.6,-2.6 104.3,-0.9 103.9,1.8 103.7,3.1 103.5,4.7 103.3,6.4 103.1,8.4 102.9,10.4 102.6,12.6 102.4,14.8 102.1,17.1 101.8,19.5 101.5,21.9 101.2,24.3 100.9,26.7 100.6,28.6 100.3,30.6 100.0,32.5 99.7,34.5 99.4,36.5 99.0,38.6 98.7,40.6 98.3,42.7 98.0,44.8 97.6,46.9 97.3,48.9 96.9,51.0 96.5,53.1 96.2,55.1 95.8,57.2 95.4,59.2 95.0,61.3 94.7,63.3 94.3,65.4 93.9,67.5 93.4,69.6 93.0,71.6 92.6,73.7 92.2,75.8 91.8,77.8 91.4,79.8 91.0,81.8 90.5,83.7 90.1,85.7 89.7,87.6 89.2,89.9 88.7,92.1 88.2,94.4 87.7,96.5 87.2,98.6 86.7,100.7 86.1,102.7 85.6,104.7 85.1,106.8 84.7,108.8 84.2,110.8 83.7,112.8 83.2,114.9 82.7,116.9 82.2,119.0 81.7,121.1 81.2,123.1 80.7,125.2 80.2,127.4 79.7,129.5 79.2,131.6 78.7,133.7 78.2,135.9 77.6,138.0 77.0,140.2 76.4,142.4 75.8,144.6 75.2,146.7 74.6,148.8 73.9,150.9 73.3,152.9 72.8,155.0 72.2,157.0 71.7,158.9 71.1,160.9 70.7,162.8 70.2,164.7 69.8,166.7 69.4,168.7 69.0,170.7 68.6,172.8 68.2,174.9 67.9,177.1 67.5,179.2 67.1,181.4 66.6,183.6 66.2,185.7 65.7,187.8 65.1,190.0 64.6,192.1 64.1,194.1 63.6,196.2 63.1,198.3 62.4,200.5 61.7,202.7 60.9,205.0 60.0,207.4 59.0,209.8 58.2,211.7 57.3,213.5 56.4,215.4 55.4,217.3 54.4,219.2 53.4,221.1 52.3,223.1 51.2,225.0 50.0,227.0 48.8,229.0 47.5,230.9 46.2,232.9 44.8,234.9 43.6,236.6 42.4,238.2 41.2,239.9 39.9,241.5 38.7,243.2 37.3,244.9 36.0,246.5 34.6,248.2 33.2,249.9 31.7,251.6 30.2,253.3 28.6,255.0 27.0,256.8 25.4,258.5 23.6,260.3 22.3,261.7 20.9,263.1 19.4,264.6 18.0,266.0 16.5,267.4 15.0,268.9 13.4,270.3 11.9,271.7 10.3,273.2 8.7,274.6 7.1,276.1 5.5,277.5 4.0,278.9 2.4,280.4 0.8,281.8 -0.8,283.2 -2.3,284.6 -3.8,286.0 -5.3,287.4 -6.8,288.8 -23.2,271.2 -21.6,269.8 -20.1,268.3 -18.5,266.9 -16.9,265.5 -15.3,264.0 -13.7,262.6 -12.2,261.1 -10.6,259.7 -9.0,258.3 -7.5,256.9 -5.9,255.5 -4.4,254.1 -2.9,252.7 -1.5,251.4 -0.1,250.0 1.3,248.7 2.6,247.4 3.9,246.1 5.2,244.9 6.4,243.7 7.9,242.0 9.4,240.4 10.9,238.8 12.3,237.3 13.6,235.8 14.9,234.3 16.2,232.8 17.4,231.3 18.6,229.8 19.8,228.4 20.9,226.9 22.0,225.5 23.1,224.0 24.1,222.6 25.2,221.1 26.3,219.5 27.4,217.8 28.5,216.2 29.5,214.5 30.5,212.9 31.4,211.2 32.4,209.6 33.2,208.0 34.1,206.4 34.9,204.8 35.6,203.2 36.3,201.7 37.0,200.2 37.8,198.4 38.4,196.7 39.0,195.1 39.5,193.5 39.9,191.9 40.4,190.2 40.8,188.4 41.3,186.5 41.8,184.4 42.3,182.2 42.7,180.5 43.1,178.7 43.5,176.8 43.9,174.8 44.2,172.8 44.6,170.7 45.0,168.5 45.4,166.3 45.9,164.1 46.3,161.8 46.8,159.5 47.3,157.2 47.9,155.0 48.5,152.7 49.1,150.5 49.7,148.4 50.3,146.2 50.9,144.1 51.5,142.0 52.2,140.0 52.7,137.9 53.3,135.9 53.9,133.9 54.4,132.0 54.9,130.0 55.4,127.9 55.9,125.9 56.4,123.9 56.9,121.8 57.4,119.8 57.9,117.7 58.4,115.6 58.8,113.5 59.3,111.4 59.8,109.3 60.3,107.2 60.8,105.1 61.3,103.0 61.9,101.0 62.4,99.0 62.9,97.0 63.3,94.9 63.8,92.9 64.3,90.9 64.8,88.9 65.3,86.8 65.8,84.6 66.3,82.4 66.7,80.6 67.1,78.8 67.5,76.9 67.9,74.9 68.3,73.0 68.7,71.0 69.1,69.0 69.5,66.9 69.9,64.9 70.3,62.9 70.7,60.9 71.1,58.8 71.5,56.8 71.8,54.8 72.2,52.8 72.6,50.8 72.9,48.8 73.3,46.8 73.6,44.8 74.0,42.8 74.3,40.7 74.7,38.7 75.0,36.7 75.3,34.7 75.7,32.7 76.0,30.8 76.3,28.8 76.6,26.9 76.9,25.1 77.1,23.3 77.4,21.1 77.7,18.9 78.0,16.6 78.3,14.4 78.5,12.1 78.8,9.9 79.0,7.8 79.2,5.7 79.4,3.7 79.7,1.8 79.9,0.0 80.1,-1.8 80.6,-5.0 81.1,-7.5 81.6,-9.5 81.9,-10.9 82.3,-12.6Z" fill="#3b3b3b" filter="url(#b6)" style="mix-blend-mode:plus-lighter"/>
<path d="M98.6,-9.0 98.2,-7.2 97.8,-5.6 97.5,-4.1 97.1,-2.2 96.6,0.7 96.4,2.1 96.2,3.8 96.0,5.6 95.8,7.6 95.6,9.6 95.3,11.8 95.1,14.0 94.8,16.3 94.6,18.6 94.3,21.0 94.0,23.3 93.6,25.7 93.4,27.5 93.1,29.5 92.8,31.4 92.5,33.4 92.1,35.4 91.8,37.4 91.5,39.4 91.1,41.5 90.8,43.5 90.4,45.6 90.1,47.7 89.7,49.7 89.3,51.8 89.0,53.8 88.6,55.8 88.2,57.9 87.8,59.9 87.5,62.0 87.1,64.0 86.7,66.1 86.3,68.1 85.9,70.2 85.4,72.3 85.0,74.3 84.6,76.3 84.2,78.3 83.8,80.3 83.4,82.2 83.0,84.1 82.6,86.0 82.0,88.3 81.5,90.5 81.0,92.7 80.4,94.8 79.9,96.8 79.4,98.9 78.8,100.9 78.3,102.9 77.8,104.9 77.3,106.9 76.7,109.0 76.2,111.0 75.7,113.1 75.2,115.2 74.7,117.2 74.2,119.3 73.8,121.4 73.3,123.5 72.8,125.6 72.3,127.7 71.8,129.8 71.3,131.9 70.7,134.0 70.2,136.1 69.6,138.2 69.0,140.3 68.3,142.4 67.7,144.5 67.1,146.6 66.4,148.7 65.8,150.7 65.1,152.8 64.5,154.8 63.9,156.9 63.4,158.9 62.9,160.9 62.4,163.0 62.1,165.1 61.7,167.2 61.4,169.3 61.0,171.4 60.7,173.6 60.4,175.7 60.0,177.9 59.7,180.0 59.3,182.1 59.0,184.1 58.6,186.1 58.2,188.3 57.9,190.4 57.6,192.5 57.2,194.6 56.9,196.6 56.5,198.7 56.0,200.8 55.4,203.0 54.7,205.3 53.9,207.6 53.3,209.4 52.6,211.3 51.8,213.2 51.1,215.1 50.2,217.0 49.4,218.9 48.5,220.9 47.5,222.9 46.5,224.9 45.5,226.9 44.4,228.9 43.3,230.9 42.1,233.0 41.0,234.7 39.9,236.4 38.8,238.1 37.7,239.8 36.5,241.5 35.3,243.3 34.1,245.0 32.9,246.7 31.5,248.5 30.2,250.3 28.8,252.1 27.4,253.9 25.9,255.7 24.4,257.6 22.8,259.5 21.4,260.9 20.1,262.3 18.7,263.8 17.2,265.2 15.8,266.7 14.3,268.1 12.8,269.6 11.2,271.1 9.7,272.5 8.1,274.0 6.6,275.5 5.0,276.9 3.5,278.4 1.9,279.8 0.4,281.3 -1.2,282.7 -2.7,284.2 -4.2,285.6 -5.7,287.0 -7.2,288.4 -22.8,271.6 -21.3,270.2 -19.7,268.8 -18.1,267.3 -16.5,265.9 -14.9,264.5 -13.3,263.1 -11.7,261.7 -10.1,260.3 -8.5,258.9 -6.9,257.5 -5.3,256.1 -3.8,254.8 -2.3,253.4 -0.8,252.1 0.6,250.8 2.1,249.5 3.4,248.2 4.7,246.9 6.0,245.7 7.2,244.5 8.9,243.0 10.5,241.5 12.1,240.0 13.7,238.5 15.1,237.1 16.6,235.6 18.0,234.2 19.3,232.8 20.6,231.4 21.9,230.0 23.2,228.6 24.4,227.2 25.6,225.8 26.8,224.4 27.9,223.0 29.2,221.4 30.5,219.8 31.8,218.2 33.0,216.6 34.1,215.0 35.3,213.4 36.4,211.8 37.4,210.2 38.4,208.6 39.4,207.0 40.3,205.4 41.2,203.9 42.1,202.4 43.1,200.5 43.9,198.8 44.7,197.1 45.5,195.4 46.1,193.6 46.8,191.9 47.4,190.0 48.1,188.1 48.7,186.1 49.4,183.9 49.9,182.1 50.4,180.2 50.8,178.2 51.3,176.2 51.7,174.1 52.2,172.0 52.6,169.9 53.1,167.7 53.6,165.6 54.1,163.4 54.6,161.2 55.1,159.1 55.7,156.9 56.2,154.8 56.7,152.7 57.3,150.5 57.9,148.4 58.5,146.3 59.1,144.2 59.6,142.2 60.2,140.1 60.8,138.0 61.3,136.0 61.8,133.9 62.3,131.9 62.9,129.8 63.4,127.7 63.9,125.7 64.4,123.6 64.9,121.5 65.3,119.4 65.8,117.4 66.3,115.3 66.8,113.2 67.3,111.1 67.8,109.0 68.3,106.9 68.7,104.8 69.2,102.8 69.7,100.8 70.2,98.8 70.6,96.7 71.1,94.7 71.6,92.6 72.0,90.6 72.5,88.4 73.0,86.2 73.4,84.0 73.8,82.2 74.2,80.3 74.6,78.4 75.0,76.4 75.5,74.4 75.9,72.4 76.3,70.4 76.7,68.4 77.1,66.3 77.5,64.3 77.9,62.2 78.3,60.2 78.7,58.2 79.0,56.2 79.4,54.2 79.8,52.2 80.1,50.1 80.5,48.1 80.8,46.1 81.2,44.0 81.6,42.0 81.9,39.9 82.2,37.9 82.6,35.9 82.9,33.9 83.2,31.9 83.5,30.0 83.8,28.0 84.1,26.2 84.4,24.3 84.7,22.1 85.0,19.8 85.3,17.5 85.5,15.2 85.8,12.9 86.0,10.7 86.3,8.6 86.5,6.5 86.7,4.5 86.9,2.7 87.2,0.9 87.4,-0.7 87.9,-3.8 88.3,-6.0 88.7,-7.8 89.1,-9.3 89.4,-11.0Z" fill="#292929" filter="url(#b2_6)" style="mix-blend-mode:plus-lighter"/>
<ellipse cx="12" cy="165" rx="26" ry="70" transform="rotate(-10 12 165)" fill="#1a1a1a" filter="url(#b18)" style="mix-blend-mode:plus-lighter"/>
<path d="M93.0,10.3 92.6,12.4 92.3,14.4 92.0,16.4 91.7,18.5 91.4,20.5 91.0,22.5 90.7,24.5 90.4,26.6 90.0,28.7 89.7,30.9 89.3,33.1 89.0,35.3 88.7,37.2 88.4,39.1 88.1,41.0 87.7,43.0 87.4,44.9 87.1,47.0 86.8,49.0 86.4,51.0 86.1,53.1 85.8,55.1 85.4,57.2 85.1,59.3 84.7,61.3 84.3,63.3 84.0,65.4 83.6,67.4 83.2,69.4 82.8,71.4 82.4,73.4 82.0,75.4 81.6,77.4 81.2,79.4 80.8,81.4 80.4,83.4 80.0,85.4 79.6,87.4 79.2,89.4 78.8,91.4 78.4,93.4 78.0,95.4 74.0,94.6 74.4,92.6 74.8,90.6 75.3,88.6 75.7,86.6 76.1,84.6 76.5,82.6 76.9,80.6 77.3,78.6 77.7,76.6 78.1,74.6 78.5,72.6 78.9,70.6 79.3,68.6 79.7,66.6 80.0,64.6 80.4,62.6 80.8,60.6 81.1,58.6 81.5,56.5 81.8,54.5 82.1,52.4 82.5,50.4 82.8,48.3 83.1,46.3 83.5,44.3 83.8,42.3 84.1,40.4 84.4,38.4 84.7,36.5 85.0,34.7 85.4,32.4 85.8,30.2 86.1,28.1 86.4,26.0 86.8,23.9 87.1,21.9 87.4,19.8 87.7,17.8 88.0,15.8 88.4,13.8 88.7,11.8 89.0,9.7Z" fill="#1c1c1c" filter="url(#b1_6)" style="mix-blend-mode:plus-lighter"/>
<ellipse cx="68" cy="124" rx="24" ry="3.6" transform="rotate(-70 68 124)" fill="#424242" filter="url(#b1)" style="mix-blend-mode:plus-lighter"/>
<ellipse cx="70.5" cy="118" rx="14" ry="2.2" transform="rotate(-70 70.5 118)" fill="#242424" filter="url(#b0_6)" style="mix-blend-mode:plus-lighter"/>
<ellipse cx="45" cy="212" rx="10" ry="2.5" transform="rotate(-60 45 212)" fill="#1a1a1a" filter="url(#b2)" style="mix-blend-mode:plus-lighter"/>
</g>
<rect x="0" y="69.30" width="2.8" height="1.9" fill="#fff"/>
<rect x="130.80" y="69.30" width="2.8" height="1.9" fill="#fff"/>
<rect x="0" y="139.55" width="2.8" height="1.9" fill="#fff"/>
<rect x="130.80" y="139.55" width="2.8" height="1.9" fill="#fff"/>
<rect x="0" y="209.80" width="2.8" height="1.9" fill="#fff"/>
<rect x="130.80" y="209.80" width="2.8" height="1.9" fill="#fff"/>
</svg>
<text x="140.05" y="298.6" font-size="21" fill="#fff" text-anchor="middle"><tspan font-style="italic">n</tspan> = 0.03125</text>
<text x="281.40" y="298.6" font-size="21" fill="#fff" text-anchor="middle"><tspan font-style="italic">n</tspan> = 0.0625</text>
<text x="423.73" y="298.6" font-size="21" fill="#fff" text-anchor="middle"><tspan font-style="italic">n</tspan> = 0.09375</text>
<text x="565.90" y="298.6" font-size="21" fill="#fff" text-anchor="middle"><tspan font-style="italic">n</tspan> = 0.125</text>
<text x="707.55" y="298.6" font-size="21" fill="#fff" text-anchor="middle"><tspan font-style="italic">n</tspan> = 0.15625</text>
<text x="849.00" y="298.6" font-size="21" fill="#fff" text-anchor="middle"><tspan font-style="italic">n</tspan> = 0.1875</text>
<g stroke="#fff" stroke-width="2.8" fill="none">
<path d="M595.5 165.0H589.5V173.0 M589.5 180.0V199.8 M589.5 213.2V221.7H595.5 M605.3 165.0H621 M626.2 165.0H631.6 M600.2 221.7H616 M625.8 221.7H631.6"/>
</g>
<g stroke="#fff" stroke-width="2.8" fill="none">
<path d="M544.8 513.7H538.5V521.9 M538.5 528.2V548.9 M538.5 562.2V570.5H544.8 M555 513.7H570.4 M575.2 513.7H581.6V521.9 M581.6 535V555.8 M581.6 562.2V570.5H575.2 M550.1 570.5H565.4"/>
</g>
<rect x="928.8" y="49.1" width="15.5" height="231.4" fill="url(#cbar)"/>
<line x1="944.3" y1="49" x2="944.3" y2="280.6" stroke="#111" stroke-width="1"/>
<line x1="941.5" y1="82" x2="944" y2="82" stroke="#333" stroke-width="1"/>
<line x1="941.5" y1="115" x2="944" y2="115" stroke="#333" stroke-width="1"/>
<line x1="941.5" y1="148" x2="944" y2="148" stroke="#333" stroke-width="1"/>
<line x1="941.5" y1="181" x2="944" y2="181" stroke="#333" stroke-width="1"/>
<line x1="941.5" y1="215" x2="944" y2="215" stroke="#333" stroke-width="1"/>
<line x1="941.5" y1="248.4" x2="944" y2="248.4" stroke="#333" stroke-width="1"/>
<text x="922.2" y="38.8" font-size="20">0.7</text>
<text x="922.2" y="306" font-size="20">0.1</text>
<text x="5" y="20.5" font-size="38" font-weight="bold">a</text>
<text x="-2" y="373.5" font-size="38" font-weight="bold">b</text>
<text x="57.2" y="38.9" font-size="28" text-anchor="end">2</text>
<text x="58.2" y="104" font-size="28" text-anchor="end">1</text>
<text x="57.2" y="175.2" font-size="28" text-anchor="end">0</text>
<text x="60.5" y="245" font-size="28" text-anchor="end">-1</text>
<text x="60.2" y="315.3" font-size="28" text-anchor="end">-2</text>
<text x="57.2" y="381.9" font-size="28" text-anchor="end">2</text>
<text x="58.2" y="452" font-size="28" text-anchor="end">1</text>
<text x="57.2" y="522.5" font-size="28" text-anchor="end">0</text>
<text x="60.5" y="594.7" font-size="28" text-anchor="end">-1</text>
<text x="60.2" y="663.7" font-size="28" text-anchor="end">-2</text>
<text transform="translate(19.8 164.5) rotate(-90)" font-family='"Liberation Serif", serif' font-size="27" font-style="italic" text-anchor="middle">ω<tspan font-style="normal"> (</tspan>t<tspan font-style="normal">)</tspan></text>
<text transform="translate(19.8 513.3) rotate(-90)" font-family='"Liberation Serif", serif' font-size="27" font-style="italic" text-anchor="middle">ω<tspan font-style="normal"> (</tspan>t<tspan font-style="normal">)</tspan></text>
<text x="333.4" y="342.3" font-size="27">Momentum <tspan font-family='"Liberation Serif", serif' font-size="27.8">(0,π) – (π/2,π/2)</tspan></text>
<text x="367.2" y="690.6" font-size="27">Momentum <tspan font-family='"Liberation Serif", serif' font-size="28">Γ – <tspan dx="1">(</tspan><tspan dx="1" font-style="italic">π</tspan>,<tspan dx="1" font-style="italic">π</tspan><tspan dx="1.5">)</tspan></tspan></text>
<path d="M202.6 1146.2 L488 786 L560 942 L600 1146.2 Z" fill="url(#gy)"/>
<path d="M300.6 1146.2 L330.0 1108.0 L353.7 1074.5 L377.3 1045.0 L397.9 1024.4 L418.5 1006.7 L439.1 990.5 L462.7 974.3 L486.3 956.6 L515.8 936.0 L546.0 913.4 L578.8 947.6 L624.0 1010.5 L773.9 1065.3 L773.9 1146.2 Z" fill="url(#gr)"/>
<text x="188" y="1154.8" font-size="31" text-anchor="end">0</text>
<text x="188" y="1074.6" font-size="31" text-anchor="end">0.3</text>
<text x="188" y="994.4" font-size="31" text-anchor="end">0.6</text>
<text x="188" y="914.2" font-size="31" text-anchor="end">0.9</text>
<text x="188" y="834.0" font-size="31" text-anchor="end">1.2</text>
<text x="188" y="753.9" font-size="31" text-anchor="end">1.5</text>
<text x="792" y="1155.5" font-size="31">0</text>
<text x="792" y="1059.9" font-size="31">10</text>
<text x="792" y="964.2" font-size="31">20</text>
<text x="792" y="868.6" font-size="31">30</text>
<text x="792" y="773.0" font-size="31">40</text>
<text x="202.6" y="1183.5" font-size="31" text-anchor="middle">0.0</text>
<text x="431.2" y="1183.5" font-size="31" text-anchor="middle">0.1</text>
<text x="661.3" y="1183.5" font-size="31" text-anchor="middle">0.2</text>
<text x="374.2" y="1221.4" font-size="27">Electron doping (<tspan font-style="italic">n</tspan>)</text>
<text x="230.6" y="791.4" font-size="38.5" font-weight="bold">c</text>
<text x="525" y="1075" font-size="38.5" text-anchor="middle">SC</text>
<text transform="translate(114.6 940) rotate(-90)" font-size="25.5" text-anchor="middle">Z<tspan font-size="18" dy="6">hole_fit</tspan><tspan dy="-6">, Z</tspan><tspan font-size="18" dy="6">theory</tspan><tspan dy="-6"> (arb. units)</tspan></text>
<text transform="translate(850 947) rotate(90)" font-size="27" text-anchor="middle"><tspan font-style="italic">T</tspan><tspan font-size="19" dy="6">c</tspan><tspan dy="-6"> (K)</tspan></text>
<g clip-path="url(#pc)">
<path d="M305.5 1099.3V1146.2 M298.0 1099.3H313.0 M298.0 1146.2H313.0" stroke="#000" stroke-width="2" fill="none"/>
<path d="M339.8 1098.4V1146.2 M332.3 1098.4H347.3 M332.3 1146.2H347.3" stroke="#000" stroke-width="2" fill="none"/>
<path d="M385.5 1028.6V1066.8 M378.0 1028.6H393.0 M378.0 1066.8H393.0" stroke="#000" stroke-width="2" fill="none"/>
<path d="M408.3 1001.8V1042.9 M400.8 1001.8H415.8 M400.8 1042.9H415.8" stroke="#000" stroke-width="2" fill="none"/>
<path d="M454.1 963.6V1005.6 M446.6 963.6H461.6 M446.6 1005.6H461.6" stroke="#000" stroke-width="2" fill="none"/>
<path d="M511.2 924.4V963.6 M503.7 924.4H518.7 M503.7 963.6H518.7" stroke="#000" stroke-width="2" fill="none"/>
<path d="M545.5 886.1V934.9 M538.0 886.1H553.0 M538.0 934.9H553.0" stroke="#000" stroke-width="2" fill="none"/>
<path d="M579.8 937.7V976.0 M572.3 937.7H587.3 M572.3 976.0H587.3" stroke="#000" stroke-width="2" fill="none"/>
<path d="M602.6 954.0V992.2 M595.1 954.0H610.1 M595.1 992.2H610.1" stroke="#000" stroke-width="2" fill="none"/>
<path d="M625.5 998.0V1045.8 M618.0 998.0H633.0 M618.0 1045.8H633.0" stroke="#000" stroke-width="2" fill="none"/>
<path d="M702.1 1021.9V1058.2 M694.6 1021.9H709.6 M694.6 1058.2H709.6" stroke="#000" stroke-width="2" fill="none"/>
<path d="M305.5 1063.6V1117.3 M298.0 1063.6H313.0 M298.0 1117.3H313.0" stroke="#f00" stroke-width="2" fill="none"/>
<path d="M339.8 1102.6V1146.2 M332.3 1102.6H347.3 M332.3 1146.2H347.3" stroke="#f00" stroke-width="2" fill="none"/>
<path d="M385.5 983.1V1036.9 M378.0 983.1H393.0 M378.0 1036.9H393.0" stroke="#f00" stroke-width="2" fill="none"/>
<path d="M408.3 986.1V1040.9 M400.8 986.1H415.8 M400.8 1040.9H415.8" stroke="#f00" stroke-width="2" fill="none"/>
<path d="M454.1 949.7V1003.2 M446.6 949.7H461.6 M446.6 1003.2H461.6" stroke="#f00" stroke-width="2" fill="none"/>
<path d="M511.2 906.4V960.2 M503.7 906.4H518.7 M503.7 960.2H518.7" stroke="#f00" stroke-width="2" fill="none"/>
<path d="M545.5 898.9V952.4 M538.0 898.9H553.0 M538.0 952.4H553.0" stroke="#f00" stroke-width="2" fill="none"/>
<path d="M545.5 936.6V994.1 M538.0 936.6H553.0 M538.0 994.1H553.0" stroke="#f00" stroke-width="2" fill="none"/>
<path d="M579.8 970.9V1024.3 M572.3 970.9H587.3 M572.3 1024.3H587.3" stroke="#f00" stroke-width="2" fill="none"/>
<path d="M602.6 968.7V1021.9 M595.1 968.7H610.1 M595.1 1021.9H610.1" stroke="#f00" stroke-width="2" fill="none"/>
<path d="M625.5 979.1V1032.3 M618.0 979.1H633.0 M618.0 1032.3H633.0" stroke="#f00" stroke-width="2" fill="none"/>
<path d="M702.1 1023.8V1056.4 M694.6 1023.8H709.6 M694.6 1056.4H709.6" stroke="#f00" stroke-width="2" fill="none"/>
<rect x="297.5" y="1135.3" width="16" height="16" fill="#000"/>
<rect x="331.8" y="1135.3" width="16" height="16" fill="#000"/>
<rect x="377.5" y="1039.2" width="16" height="16" fill="#000"/>
<rect x="400.3" y="1014.8" width="16" height="16" fill="#000"/>
<rect x="446.1" y="976.6" width="16" height="16" fill="#000"/>
<rect x="503.2" y="936.4" width="16" height="16" fill="#000"/>
<rect x="537.5" y="902.0" width="16" height="16" fill="#000"/>
<rect x="571.8" y="948.9" width="16" height="16" fill="#000"/>
<rect x="594.6" y="965.1" width="16" height="16" fill="#000"/>
<rect x="617.5" y="1015.8" width="16" height="16" fill="#000"/>
<rect x="694.1" y="1033.0" width="16" height="16" fill="#000"/>
<path d="M305.5 1078.7 L295.5 1095.7 L315.5 1095.7 Z" fill="#ff0000"/>
<path d="M339.8 1117.5 L329.8 1134.5 L349.8 1134.5 Z" fill="#ff0000"/>
<path d="M385.5 997.2 L375.5 1014.2 L395.5 1014.2 Z" fill="#ff0000"/>
<path d="M408.3 1001.7 L398.3 1018.7 L418.3 1018.7 Z" fill="#ff0000"/>
<path d="M454.1 965.9 L444.1 982.9 L464.1 982.9 Z" fill="#ff0000"/>
<path d="M511.2 922.4 L501.2 939.4 L521.2 939.4 Z" fill="#ff0000"/>
<path d="M545.5 912.7 L535.5 929.7 L555.5 929.7 Z" fill="#ff0000"/>
<path d="M545.5 955.5 L535.5 972.5 L555.5 972.5 Z" fill="#ff0000"/>
<path d="M579.8 986.0 L569.8 1003.0 L589.8 1003.0 Z" fill="#ff0000"/>
<path d="M602.6 984.1 L592.6 1001.1 L612.6 1001.1 Z" fill="#ff0000"/>
<path d="M625.5 995.1 L615.5 1012.1 L635.5 1012.1 Z" fill="#ff0000"/>
<path d="M702.1 1030.6 L692.1 1047.6 L712.1 1047.6 Z" fill="#ff0000"/>
<path d="M202.6 1137.9 L193.7 1152.0 L211.5 1152.0 Z" fill="#fff" stroke="#ee7b22" stroke-width="2.6" stroke-linejoin="round"/>
<path d="M274.0 1038.5 L265.1 1052.6 L282.9 1052.6 Z" fill="#fff" stroke="#ee7b22" stroke-width="2.6" stroke-linejoin="round"/>
<path d="M345.5 957.2 L336.6 971.3 L354.4 971.3 Z" fill="#fff" stroke="#ee7b22" stroke-width="2.6" stroke-linejoin="round"/>
<path d="M416.9 870.6 L408.0 884.7 L425.8 884.7 Z" fill="#fff" stroke="#ee7b22" stroke-width="2.6" stroke-linejoin="round"/>
<path d="M488.4 782.4 L479.5 796.5 L497.2 796.5 Z" fill="#fff" stroke="#ee7b22" stroke-width="2.6" stroke-linejoin="round"/>
<path d="M559.8 932.6 L550.9 946.7 L568.7 946.7 Z" fill="#fff" stroke="#ee7b22" stroke-width="2.6" stroke-linejoin="round"/>
<path d="M631.2 1016.3 L622.3 1030.4 L640.1 1030.4 Z" fill="#fff" stroke="#ee7b22" stroke-width="2.6" stroke-linejoin="round"/>
<path d="M702.7 1055.0 L693.8 1069.1 L711.6 1069.1 Z" fill="#fff" stroke="#ee7b22" stroke-width="2.6" stroke-linejoin="round"/>
</g>
<g stroke="#000" stroke-width="2.3" fill="none">
<rect x="202.6" y="745.3" width="571.8" height="401.2"/>
<line x1="202.6" y1="1146.2" x2="217.1" y2="1146.2"/>
<line x1="202.6" y1="1106.1" x2="210.0" y2="1106.1"/>
<line x1="202.6" y1="1066.0" x2="217.1" y2="1066.0"/>
<line x1="202.6" y1="1025.9" x2="210.0" y2="1025.9"/>
<line x1="202.6" y1="985.8" x2="217.1" y2="985.8"/>
<line x1="202.6" y1="945.7" x2="210.0" y2="945.7"/>
<line x1="202.6" y1="905.6" x2="217.1" y2="905.6"/>
<line x1="202.6" y1="865.5" x2="210.0" y2="865.5"/>
<line x1="202.6" y1="825.4" x2="217.1" y2="825.4"/>
<line x1="202.6" y1="785.3" x2="210.0" y2="785.3"/>
<line x1="202.6" y1="745.2" x2="217.1" y2="745.2"/>
<line x1="774.4" y1="1146.2" x2="758.9" y2="1146.2"/>
<line x1="774.4" y1="1098.4" x2="765.9" y2="1098.4"/>
<line x1="774.4" y1="1050.6" x2="758.9" y2="1050.6"/>
<line x1="774.4" y1="1002.8" x2="765.9" y2="1002.8"/>
<line x1="774.4" y1="955.0" x2="758.9" y2="955.0"/>
<line x1="774.4" y1="907.1" x2="765.9" y2="907.1"/>
<line x1="774.4" y1="859.3" x2="758.9" y2="859.3"/>
<line x1="774.4" y1="811.5" x2="765.9" y2="811.5"/>
<line x1="774.4" y1="763.7" x2="758.9" y2="763.7"/>
<line x1="202.6" y1="1146.5" x2="202.6" y2="1132.5"/>
<line x1="202.6" y1="745.3" x2="202.6" y2="759.3"/>
<line x1="316.9" y1="1146.5" x2="316.9" y2="1139.5"/>
<line x1="316.9" y1="745.3" x2="316.9" y2="752.3"/>
<line x1="431.2" y1="1146.5" x2="431.2" y2="1132.5"/>
<line x1="431.2" y1="745.3" x2="431.2" y2="759.3"/>
<line x1="545.5" y1="1146.5" x2="545.5" y2="1139.5"/>
<line x1="545.5" y1="745.3" x2="545.5" y2="752.3"/>
<line x1="659.8" y1="1146.5" x2="659.8" y2="1132.5"/>
<line x1="659.8" y1="745.3" x2="659.8" y2="759.3"/>
<line x1="774.1" y1="1146.5" x2="774.1" y2="1139.5"/>
<line x1="774.1" y1="745.3" x2="774.1" y2="752.3"/>
</g>
<path d="M651.5 786.5 L641.5 803.5 L661.5 803.5 Z" fill="#ff0000"/>
<path d="M651.5 829.5 L643.3 843 L659.7 843 Z" fill="none" stroke="#f5a400" stroke-width="2.2" stroke-linejoin="round"/>
<rect x="644" y="872.6" width="16" height="15.5" fill="#000"/>
<text x="678" y="804.5" font-size="26.5" font-style="italic">Z<tspan font-size="18" font-style="normal" dy="5.5">hole_fit</tspan></text>
<text x="678" y="845" font-size="26.5" font-style="italic">Z<tspan font-size="18" font-style="normal" dy="5.5">theory</tspan></text>
<text x="686" y="888" font-size="26.5" font-style="italic">T<tspan font-size="18" font-style="normal" dy="6">c</tspan></text>
<!--ONES--><rect x="161.61" y="296" width="4.44" height="4" fill="#160606"/><rect x="167.90" y="296" width="4.20" height="4" fill="#160606"/><rect x="575.78" y="296" width="4.44" height="4" fill="#160606"/><rect x="582.07" y="296" width="4.20" height="4" fill="#160606"/><rect x="705.75" y="296" width="4.44" height="4" fill="#160606"/><rect x="712.05" y="296" width="4.20" height="4" fill="#160606"/><rect x="853.04" y="296" width="4.44" height="4" fill="#160606"/><rect x="859.33" y="296" width="4.20" height="4" fill="#160606"/><rect x="939.67" y="303" width="4.23" height="4" fill="#fff"/><rect x="945.67" y="303" width="4.00" height="4" fill="#fff"/><rect x="43.74" y="101" width="5.92" height="4" fill="#fff"/><rect x="52.14" y="101" width="5.61" height="4" fill="#fff"/><rect x="46.03" y="242" width="5.92" height="4" fill="#fff"/><rect x="54.42" y="242" width="5.61" height="4" fill="#fff"/><rect x="43.74" y="449" width="5.92" height="4" fill="#fff"/><rect x="52.14" y="449" width="5.61" height="4" fill="#fff"/><rect x="46.03" y="591" width="5.92" height="5" fill="#fff"/><rect x="54.42" y="591" width="5.61" height="5" fill="#fff"/><rect x="146.13" y="830" width="6.56" height="5" fill="#fff"/><rect x="155.42" y="830" width="6.21" height="5" fill="#fff"/><rect x="146.13" y="750" width="6.56" height="5" fill="#fff"/><rect x="155.42" y="750" width="6.21" height="5" fill="#fff"/><rect x="793.24" y="1056" width="6.56" height="5" fill="#fff"/><rect x="802.53" y="1056" width="6.21" height="5" fill="#fff"/><rect x="436.73" y="1180" width="6.56" height="5" fill="#fff"/><rect x="446.02" y="1180" width="6.21" height="5" fill="#fff"/><!--/ONES--></svg></body></html>
